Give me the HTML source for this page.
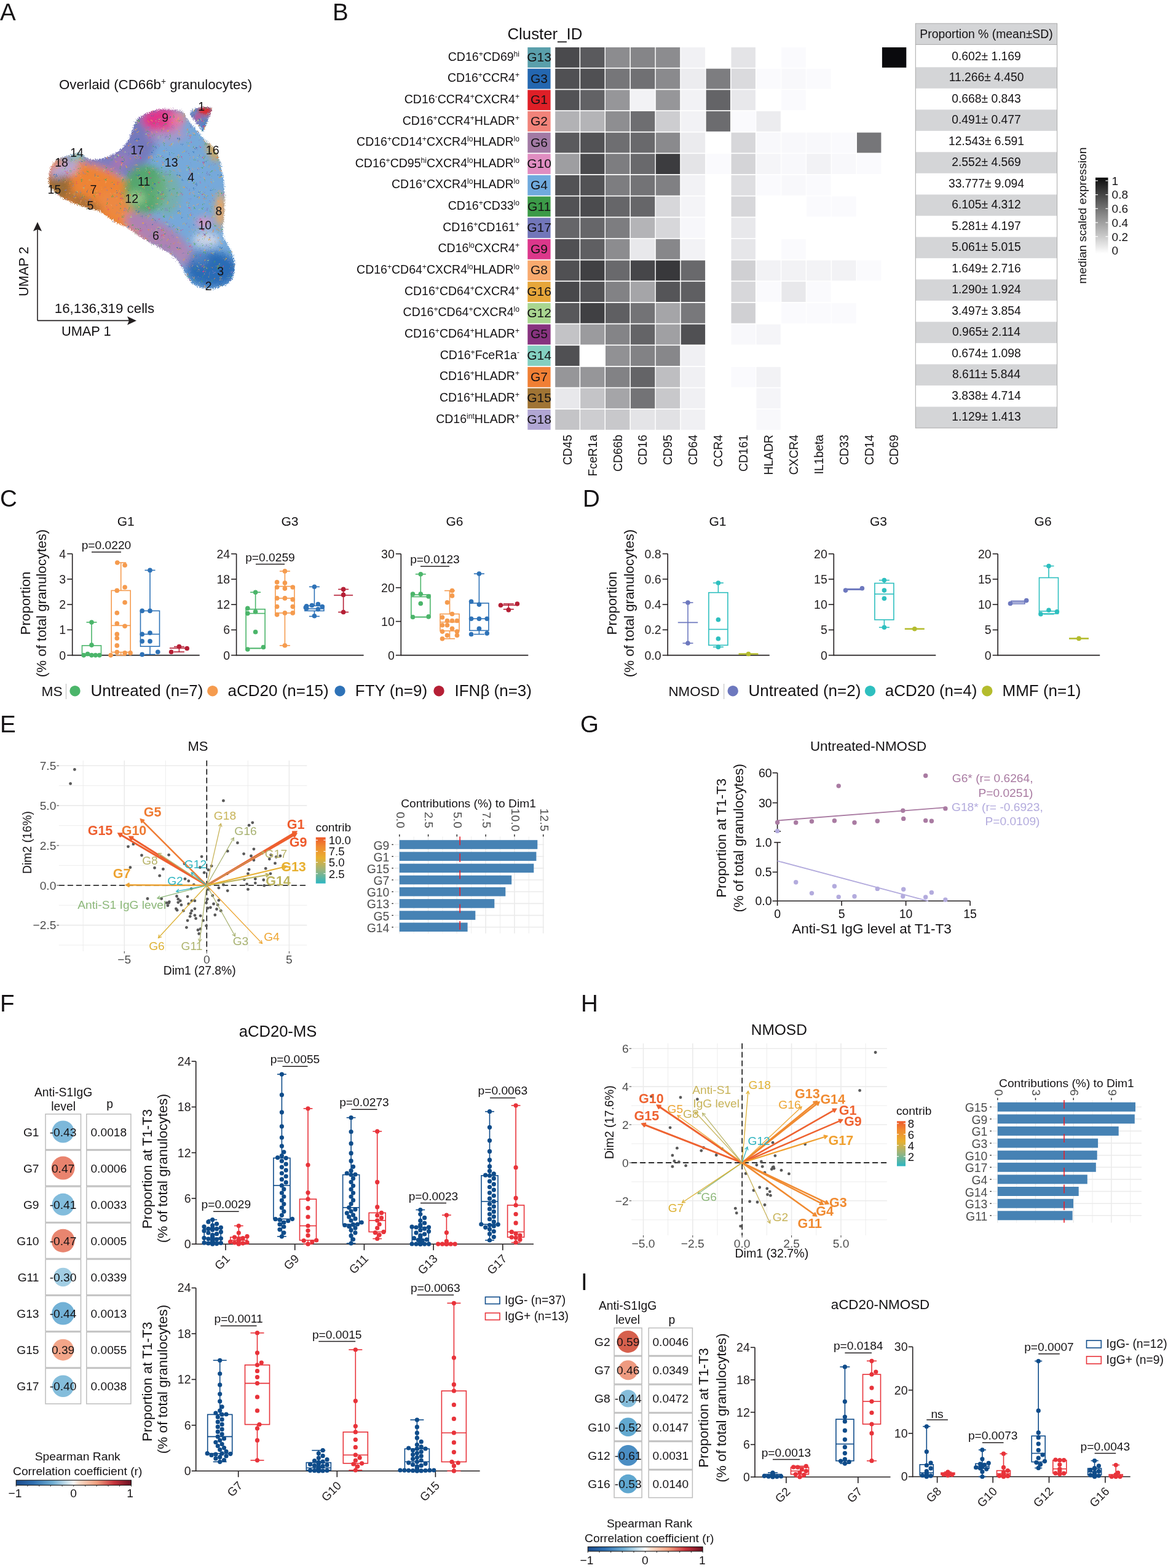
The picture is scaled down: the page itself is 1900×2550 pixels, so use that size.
<!DOCTYPE html>
<html><head><meta charset="utf-8"><title>Figure</title>
<style>html,body{margin:0;padding:0;background:#fff;} svg{display:block;} text{font-family:"Liberation Sans", Arial, Helvetica, sans-serif;}</style>
</head><body>
<svg width="1900" height="2550" viewBox="0 0 1900 2550" font-family='"Liberation Sans", Arial, Helvetica, sans-serif'>
<rect width="1900" height="2550" fill="#fff"/>
<text x="0.0" y="33.2" font-size="38.5" fill="#141214">A</text>
<text x="541.0" y="32.5" font-size="38.5" fill="#141214">B</text>
<text x="0.0" y="823.5" font-size="38.5" fill="#141214">C</text>
<text x="948.0" y="823.5" font-size="38.5" fill="#141214">D</text>
<text x="0.0" y="1190.5" font-size="38.5" fill="#141214">E</text>
<text x="944.0" y="1190.5" font-size="38.5" fill="#141214">G</text>
<text x="0.0" y="1645.0" font-size="38.5" fill="#141214">F</text>
<text x="945.0" y="1645.0" font-size="38.5" fill="#141214">H</text>
<text x="945.0" y="2097.5" font-size="38.5" fill="#141214">I</text>
<defs><clipPath id="umc"><path d="M79.0,289.8 C78.9,284.8 80.2,278.5 82.0,273.9 C83.8,269.2 87.0,264.9 90.0,261.9 C93.0,258.9 96.0,257.5 100.0,255.9 C104.0,254.2 109.3,253.0 113.9,251.9 C118.6,250.7 124.1,248.7 127.9,248.9 C131.8,249.0 133.9,251.2 136.9,252.9 C139.9,254.5 142.4,257.8 145.9,258.9 C149.4,260.0 153.6,260.0 157.9,259.5 C162.2,259.0 166.6,257.8 171.9,255.9 C177.2,253.9 184.4,251.5 189.9,247.9 C195.3,244.2 200.8,239.2 204.8,233.9 C208.8,228.6 211.0,222.2 213.8,215.9 C216.7,209.6 218.8,200.6 221.8,195.9 C224.8,191.3 228.1,190.3 231.8,188.0 C235.5,185.6 239.1,183.6 243.8,182.0 C248.5,180.3 253.8,178.6 259.8,178.0 C265.8,177.3 274.4,177.6 279.7,178.0 C285.1,178.3 288.6,179.1 291.7,180.0 C294.9,180.8 296.7,181.0 298.7,183.0 C300.7,185.0 301.6,188.8 303.7,191.9 C305.9,195.1 308.7,198.4 311.7,201.9 C314.7,205.4 318.7,209.3 321.7,212.9 C324.7,216.6 326.9,220.7 329.7,223.9 C332.5,227.1 335.3,228.7 338.7,231.9 C342.0,235.1 346.7,238.4 349.7,242.9 C352.7,247.4 354.6,252.7 356.7,258.9 C358.7,265.0 360.7,272.4 362.0,279.8 C363.4,287.3 364.2,296.2 364.8,303.8 C365.4,311.5 365.6,318.1 365.6,325.8 C365.6,333.4 365.3,342.4 364.8,349.8 C364.4,357.1 363.0,363.7 362.8,369.7 C362.7,375.7 362.6,380.7 364.0,385.7 C365.5,390.7 369.2,395.0 371.6,399.7 C374.1,404.4 377.0,408.0 378.6,413.7 C380.3,419.3 381.8,427.0 381.6,433.7 C381.5,440.3 380.3,448.6 377.6,453.6 C375.0,458.7 370.3,461.5 365.6,464.0 C361.0,466.6 354.7,468.1 349.7,469.0 C344.7,469.9 340.7,470.2 335.7,469.6 C330.7,469.1 324.4,468.0 319.7,465.6 C315.0,463.3 311.0,459.6 307.7,455.6 C304.4,451.6 302.4,446.3 299.7,441.7 C297.1,437.0 294.7,431.8 291.7,427.7 C288.7,423.5 285.4,419.9 281.7,416.7 C278.1,413.5 275.1,411.5 269.8,408.3 C264.4,405.1 256.4,401.5 249.8,397.7 C243.1,393.9 236.5,390.0 229.8,385.7 C223.1,381.5 216.5,376.1 209.8,372.1 C203.2,368.2 195.8,365.5 189.9,362.1 C183.9,358.8 178.5,355.3 173.9,352.2 C169.2,349.0 165.9,345.4 161.9,343.4 C157.9,341.4 155.2,341.7 149.9,340.2 C144.6,338.6 136.6,336.5 129.9,334.2 C123.3,331.8 115.9,329.2 110.0,326.2 C104.0,323.2 98.6,319.9 94.0,316.2 C89.4,312.5 84.9,308.6 82.4,304.2 C79.9,299.8 79.1,294.9 79.0,289.8 Z"/><path d="M308.7,184.4 C309.4,180.6 315.8,177.0 321.7,175.6 C327.6,174.1 341.0,173.2 344.1,175.6 C347.1,178.0 341.5,185.5 340.1,190.0 C338.7,194.4 337.2,198.3 335.7,202.3 C334.1,206.4 332.4,213.4 330.7,214.3 C329.0,215.3 327.9,210.7 325.7,207.9 C323.5,205.2 320.5,201.9 317.7,197.9 C314.9,194.0 308.0,188.1 308.7,184.4 Z"/></clipPath>
<filter id="bl6" x="-50%" y="-50%" width="200%" height="200%"><feGaussianBlur stdDeviation="6"/></filter>
<filter id="bl2" x="-50%" y="-50%" width="200%" height="200%"><feGaussianBlur stdDeviation="2"/></filter>
<filter id="spk" x="-5%" y="-5%" width="110%" height="110%"><feTurbulence type="fractalNoise" baseFrequency="0.7" numOctaves="2" seed="7" result="n"/><feDisplacementMap in="SourceGraphic" in2="n" scale="9" xChannelSelector="R" yChannelSelector="G"/></filter></defs>
<defs><pattern id="spkp" width="67" height="59" patternUnits="userSpaceOnUse"><circle cx="41.7" cy="43.8" r="0.9" fill="#F08A3A"/><circle cx="56.3" cy="45.8" r="0.9" fill="#A6D58E"/><circle cx="43.5" cy="53.2" r="0.9" fill="#E0388C"/><circle cx="24.9" cy="51.2" r="0.9" fill="#E8A838"/><circle cx="36.4" cy="33.9" r="0.9" fill="#F08A3A"/><circle cx="49.0" cy="24.1" r="0.9" fill="#4CA654"/><circle cx="61.4" cy="45.2" r="0.9" fill="#4CA654"/><circle cx="51.0" cy="4.2" r="0.9" fill="#2A6CB6"/><circle cx="8.5" cy="0.1" r="0.9" fill="#F08A3A"/><circle cx="14.0" cy="12.7" r="0.9" fill="#4CA654"/><circle cx="58.5" cy="17.1" r="0.9" fill="#A6D58E"/><circle cx="36.1" cy="40.0" r="0.9" fill="#A6D58E"/><circle cx="12.2" cy="57.1" r="0.9" fill="#A6D58E"/><circle cx="64.8" cy="52.7" r="0.9" fill="#F4A460"/><circle cx="1.4" cy="24.5" r="0.9" fill="#4CA654"/><circle cx="17.7" cy="19.6" r="0.9" fill="#F08A3A"/><circle cx="39.9" cy="41.8" r="0.9" fill="#E0388C"/><circle cx="20.8" cy="48.3" r="0.9" fill="#2A6CB6"/><circle cx="46.7" cy="10.9" r="0.9" fill="#2A6CB6"/><circle cx="47.2" cy="3.4" r="0.9" fill="#F08A3A"/><circle cx="63.6" cy="21.1" r="0.9" fill="#E8A838"/><circle cx="1.2" cy="46.5" r="0.9" fill="#7C7CC0"/><circle cx="25.2" cy="49.6" r="0.9" fill="#2A6CB6"/><circle cx="3.1" cy="10.7" r="0.9" fill="#A6D58E"/><circle cx="8.0" cy="14.5" r="0.9" fill="#2A6CB6"/><circle cx="23.1" cy="20.9" r="0.9" fill="#F4A460"/><circle cx="52.0" cy="6.4" r="0.9" fill="#7C7CC0"/><circle cx="57.6" cy="2.2" r="0.9" fill="#E0388C"/><circle cx="14.0" cy="30.3" r="0.9" fill="#7C7CC0"/><circle cx="61.5" cy="20.1" r="0.9" fill="#E0388C"/><circle cx="20.9" cy="18.7" r="0.9" fill="#4CA654"/><circle cx="53.5" cy="37.0" r="0.9" fill="#F4A460"/><circle cx="66.8" cy="9.5" r="0.9" fill="#F08A3A"/><circle cx="5.4" cy="35.4" r="0.9" fill="#E8A838"/><circle cx="2.1" cy="43.7" r="0.9" fill="#7C7CC0"/><circle cx="55.4" cy="26.9" r="0.9" fill="#E8A838"/><circle cx="9.8" cy="57.8" r="0.9" fill="#F08A3A"/><circle cx="53.7" cy="19.7" r="0.9" fill="#A6D58E"/><circle cx="8.7" cy="43.2" r="0.9" fill="#4CA654"/><circle cx="42.2" cy="46.5" r="0.9" fill="#E0388C"/><circle cx="11.3" cy="22.0" r="0.9" fill="#F08A3A"/><circle cx="56.6" cy="17.4" r="0.9" fill="#2A6CB6"/><circle cx="61.8" cy="36.6" r="0.9" fill="#4CA654"/><circle cx="65.4" cy="26.8" r="0.9" fill="#2A6CB6"/><circle cx="46.2" cy="18.7" r="0.9" fill="#F4A460"/><circle cx="19.5" cy="23.8" r="0.9" fill="#4CA654"/><circle cx="7.5" cy="48.5" r="0.9" fill="#4CA654"/><circle cx="42.0" cy="29.5" r="0.9" fill="#7C7CC0"/><circle cx="12.1" cy="29.0" r="0.9" fill="#7C7CC0"/><circle cx="4.2" cy="46.9" r="0.9" fill="#7C7CC0"/><circle cx="46.5" cy="39.2" r="0.9" fill="#F4A460"/><circle cx="24.3" cy="41.6" r="0.9" fill="#F4A460"/><circle cx="56.0" cy="15.6" r="0.9" fill="#F4A460"/><circle cx="64.1" cy="20.1" r="0.9" fill="#4CA654"/><circle cx="38.9" cy="0.7" r="0.9" fill="#F4A460"/><circle cx="21.8" cy="16.1" r="0.9" fill="#F4A460"/><circle cx="54.7" cy="38.2" r="0.9" fill="#7C7CC0"/><circle cx="23.3" cy="38.0" r="0.9" fill="#E8A838"/><circle cx="23.5" cy="49.7" r="0.9" fill="#2A6CB6"/><circle cx="65.4" cy="56.4" r="0.9" fill="#4CA654"/><circle cx="35.5" cy="9.8" r="0.9" fill="#7C7CC0"/><circle cx="62.8" cy="28.2" r="0.9" fill="#E0388C"/><circle cx="48.2" cy="43.1" r="0.9" fill="#4CA654"/><circle cx="41.3" cy="55.2" r="0.9" fill="#E8A838"/><circle cx="20.3" cy="32.6" r="0.9" fill="#F4A460"/><circle cx="48.3" cy="1.6" r="0.9" fill="#4CA654"/><circle cx="39.3" cy="36.8" r="0.9" fill="#4CA654"/><circle cx="14.7" cy="40.5" r="0.9" fill="#F08A3A"/><circle cx="66.1" cy="57.8" r="0.9" fill="#4CA654"/><circle cx="3.6" cy="7.9" r="0.9" fill="#7C7CC0"/><circle cx="64.9" cy="28.5" r="0.9" fill="#F08A3A"/><circle cx="27.8" cy="20.7" r="0.9" fill="#E0388C"/><circle cx="39.5" cy="14.0" r="0.9" fill="#7C7CC0"/><circle cx="0.0" cy="23.9" r="0.9" fill="#F4A460"/><circle cx="57.3" cy="51.1" r="0.9" fill="#7C7CC0"/><circle cx="64.6" cy="32.4" r="0.9" fill="#F4A460"/><circle cx="6.4" cy="32.2" r="0.9" fill="#7C7CC0"/><circle cx="63.7" cy="17.3" r="0.9" fill="#7C7CC0"/><circle cx="54.8" cy="24.7" r="0.9" fill="#7C7CC0"/><circle cx="31.3" cy="9.2" r="0.9" fill="#E8A838"/><circle cx="37.8" cy="56.5" r="0.9" fill="#4CA654"/><circle cx="40.8" cy="20.7" r="0.9" fill="#F08A3A"/><circle cx="25.6" cy="19.2" r="0.9" fill="#4CA654"/><circle cx="21.8" cy="51.7" r="0.9" fill="#E8A838"/><circle cx="28.8" cy="57.6" r="0.9" fill="#2A6CB6"/></pattern></defs>
<g filter="url(#spk)"><g clip-path="url(#umc)">
<path d="M79.0,289.8 C78.9,284.8 80.2,278.5 82.0,273.9 C83.8,269.2 87.0,264.9 90.0,261.9 C93.0,258.9 96.0,257.5 100.0,255.9 C104.0,254.2 109.3,253.0 113.9,251.9 C118.6,250.7 124.1,248.7 127.9,248.9 C131.8,249.0 133.9,251.2 136.9,252.9 C139.9,254.5 142.4,257.8 145.9,258.9 C149.4,260.0 153.6,260.0 157.9,259.5 C162.2,259.0 166.6,257.8 171.9,255.9 C177.2,253.9 184.4,251.5 189.9,247.9 C195.3,244.2 200.8,239.2 204.8,233.9 C208.8,228.6 211.0,222.2 213.8,215.9 C216.7,209.6 218.8,200.6 221.8,195.9 C224.8,191.3 228.1,190.3 231.8,188.0 C235.5,185.6 239.1,183.6 243.8,182.0 C248.5,180.3 253.8,178.6 259.8,178.0 C265.8,177.3 274.4,177.6 279.7,178.0 C285.1,178.3 288.6,179.1 291.7,180.0 C294.9,180.8 296.7,181.0 298.7,183.0 C300.7,185.0 301.6,188.8 303.7,191.9 C305.9,195.1 308.7,198.4 311.7,201.9 C314.7,205.4 318.7,209.3 321.7,212.9 C324.7,216.6 326.9,220.7 329.7,223.9 C332.5,227.1 335.3,228.7 338.7,231.9 C342.0,235.1 346.7,238.4 349.7,242.9 C352.7,247.4 354.6,252.7 356.7,258.9 C358.7,265.0 360.7,272.4 362.0,279.8 C363.4,287.3 364.2,296.2 364.8,303.8 C365.4,311.5 365.6,318.1 365.6,325.8 C365.6,333.4 365.3,342.4 364.8,349.8 C364.4,357.1 363.0,363.7 362.8,369.7 C362.7,375.7 362.6,380.7 364.0,385.7 C365.5,390.7 369.2,395.0 371.6,399.7 C374.1,404.4 377.0,408.0 378.6,413.7 C380.3,419.3 381.8,427.0 381.6,433.7 C381.5,440.3 380.3,448.6 377.6,453.6 C375.0,458.7 370.3,461.5 365.6,464.0 C361.0,466.6 354.7,468.1 349.7,469.0 C344.7,469.9 340.7,470.2 335.7,469.6 C330.7,469.1 324.4,468.0 319.7,465.6 C315.0,463.3 311.0,459.6 307.7,455.6 C304.4,451.6 302.4,446.3 299.7,441.7 C297.1,437.0 294.7,431.8 291.7,427.7 C288.7,423.5 285.4,419.9 281.7,416.7 C278.1,413.5 275.1,411.5 269.8,408.3 C264.4,405.1 256.4,401.5 249.8,397.7 C243.1,393.9 236.5,390.0 229.8,385.7 C223.1,381.5 216.5,376.1 209.8,372.1 C203.2,368.2 195.8,365.5 189.9,362.1 C183.9,358.8 178.5,355.3 173.9,352.2 C169.2,349.0 165.9,345.4 161.9,343.4 C157.9,341.4 155.2,341.7 149.9,340.2 C144.6,338.6 136.6,336.5 129.9,334.2 C123.3,331.8 115.9,329.2 110.0,326.2 C104.0,323.2 98.6,319.9 94.0,316.2 C89.4,312.5 84.9,308.6 82.4,304.2 C79.9,299.8 79.1,294.9 79.0,289.8 Z" fill="#76A9DA"/>
<path d="M308.7,184.4 C309.4,180.6 315.8,177.0 321.7,175.6 C327.6,174.1 341.0,173.2 344.1,175.6 C347.1,178.0 341.5,185.5 340.1,190.0 C338.7,194.4 337.2,198.3 335.7,202.3 C334.1,206.4 332.4,213.4 330.7,214.3 C329.0,215.3 327.9,210.7 325.7,207.9 C323.5,205.2 320.5,201.9 317.7,197.9 C314.9,194.0 308.0,188.1 308.7,184.4 Z" fill="#5E8FCB"/>
<g filter="url(#bl6)">
<path d="M30,340 L30,262 L95,258 L130,262 L160,270 L190,283 L210,298 L207,330 L226,370 L242,412 L150,390 L30,360 Z" fill="#EE8436"/>
<path d="M110,236 L200,205 L228,190 L240,250 L214,292 L190,282 L160,270 L130,262 L112,256 Z" fill="#7B7DC0"/>
<ellipse cx="189.9" cy="269.9" rx="20" ry="6" fill="#C070A8" opacity="0.5" transform="rotate(-24 189.9 269.9)"/>
<ellipse cx="229.8" cy="225.9" rx="24" ry="44" fill="#7579BC" opacity="1" transform="rotate(8 229.8 225.9)"/>
<ellipse cx="209.8" cy="253.9" rx="16" ry="14" fill="#8A7DBC" opacity="0.9" transform="rotate(0 209.8 253.9)"/>
<ellipse cx="193.9" cy="261.9" rx="10" ry="6" fill="#D070A8" opacity="0.6" transform="rotate(0 193.9 261.9)"/>
<ellipse cx="149.9" cy="307.8" rx="52" ry="25" fill="#EE8436" opacity="1" transform="rotate(22 149.9 307.8)"/>
<ellipse cx="201.8" cy="347.8" rx="32" ry="15" fill="#EE8A3E" opacity="1" transform="rotate(30 201.8 347.8)"/>
<ellipse cx="181.9" cy="329.8" rx="24" ry="16" fill="#EC8842" opacity="1" transform="rotate(30 181.9 329.8)"/>
<ellipse cx="96.0" cy="300.8" rx="20" ry="26" fill="#9A6C34" opacity="1" transform="rotate(0 96.0 300.8)"/>
<ellipse cx="135.9" cy="329.8" rx="32" ry="9" fill="#9C6E3A" opacity="0.9" transform="rotate(25 135.9 329.8)"/>
<ellipse cx="110.0" cy="273.9" rx="18" ry="11" fill="#B3A8D6" opacity="1" transform="rotate(-20 110.0 273.9)"/>
<ellipse cx="92.0" cy="279.8" rx="10" ry="10" fill="#B3A8D6" opacity="1" transform="rotate(0 92.0 279.8)"/>
<ellipse cx="126.9" cy="252.9" rx="12" ry="7" fill="#82CFC0" opacity="1" transform="rotate(-10 126.9 252.9)"/>
<ellipse cx="264.8" cy="194.9" rx="34" ry="20" fill="#E2358B" opacity="1" transform="rotate(0 264.8 194.9)"/>
<ellipse cx="295.7" cy="190.0" rx="8" ry="8" fill="#E8A040" opacity="0.8" transform="rotate(0 295.7 190.0)"/>
<ellipse cx="287.7" cy="195.9" rx="12" ry="15" fill="#E37FAE" opacity="0.85" transform="rotate(0 287.7 195.9)"/>
<ellipse cx="271.8" cy="219.9" rx="34" ry="12" fill="#C48CC0" opacity="0.55" transform="rotate(0 271.8 219.9)"/>
<ellipse cx="235.8" cy="307.8" rx="34" ry="40" fill="#4CA654" opacity="0.8" transform="rotate(0 235.8 307.8)"/>
<ellipse cx="221.8" cy="321.8" rx="14" ry="10" fill="#A4D08E" opacity="0.8" transform="rotate(0 221.8 321.8)"/>
<ellipse cx="271.8" cy="313.8" rx="22" ry="36" fill="#74B486" opacity="0.55" transform="rotate(0 271.8 313.8)"/>
<ellipse cx="255.8" cy="381.7" rx="60" ry="21" fill="#AE82B3" opacity="1" transform="rotate(32 255.8 381.7)"/>
<ellipse cx="299.7" cy="415.7" rx="18" ry="16" fill="#B087B6" opacity="0.9" transform="rotate(0 299.7 415.7)"/>
<ellipse cx="346.7" cy="245.9" rx="7" ry="18" fill="#E6A845" opacity="1" transform="rotate(-25 346.7 245.9)"/>
<ellipse cx="358.7" cy="341.8" rx="8" ry="28" fill="#F1A85E" opacity="1" transform="rotate(0 358.7 341.8)"/>
<ellipse cx="331.7" cy="361.7" rx="14" ry="9" fill="#D696C2" opacity="1" transform="rotate(0 331.7 361.7)"/>
<ellipse cx="335.7" cy="389.7" rx="22" ry="12" fill="#C9D3E6" opacity="1" transform="rotate(0 335.7 389.7)"/>
<ellipse cx="344.7" cy="437.7" rx="42" ry="29" fill="#2A6CB6" opacity="1" transform="rotate(0 344.7 437.7)"/>
<ellipse cx="323.7" cy="417.7" rx="16" ry="12" fill="#5A88C4" opacity="0.8" transform="rotate(0 323.7 417.7)"/>
<ellipse cx="333.7" cy="183.0" rx="12" ry="6" fill="#DE2A2E" opacity="1" transform="rotate(0 333.7 183.0)"/>
<ellipse cx="318.7" cy="193.9" rx="5" ry="8" fill="#D84890" opacity="0.7" transform="rotate(0 318.7 193.9)"/>
<ellipse cx="329.7" cy="196.9" rx="8" ry="12" fill="#4E7FC2" opacity="1" transform="rotate(0 329.7 196.9)"/>
</g>
<ellipse cx="333" cy="180" rx="10" ry="5" fill="#DE2A2E" filter="url(#bl2)"/>
<ellipse cx="322" cy="190" rx="5" ry="5" fill="#D04A8A" opacity="0.6" filter="url(#bl2)"/>
<rect x="70" y="160" width="320" height="320" fill="url(#spkp)"/>
</g></g>
<text x="327.7" y="180.0" font-size="19.5" text-anchor="middle" fill="#141214">1</text>
<text x="268.8" y="198.0" font-size="19.5" text-anchor="middle" fill="#141214">9</text>
<text x="345.7" y="250.5" font-size="19.5" text-anchor="middle" fill="#141214">16</text>
<text x="223.4" y="250.5" font-size="19.5" text-anchor="middle" fill="#141214">17</text>
<text x="125.0" y="254.9" font-size="19.5" text-anchor="middle" fill="#141214">14</text>
<text x="100.0" y="271.3" font-size="19.5" text-anchor="middle" fill="#141214">18</text>
<text x="278.7" y="271.3" font-size="19.5" text-anchor="middle" fill="#141214">13</text>
<text x="310.7" y="295.2" font-size="19.5" text-anchor="middle" fill="#141214">4</text>
<text x="234.2" y="301.8" font-size="19.5" text-anchor="middle" fill="#141214">11</text>
<text x="88.4" y="315.2" font-size="19.5" text-anchor="middle" fill="#141214">15</text>
<text x="151.9" y="315.2" font-size="19.5" text-anchor="middle" fill="#141214">7</text>
<text x="214.2" y="330.4" font-size="19.5" text-anchor="middle" fill="#141214">12</text>
<text x="146.9" y="340.8" font-size="19.5" text-anchor="middle" fill="#141214">5</text>
<text x="356.0" y="350.4" font-size="19.5" text-anchor="middle" fill="#141214">8</text>
<text x="333.3" y="372.7" font-size="19.5" text-anchor="middle" fill="#141214">10</text>
<text x="253.4" y="389.7" font-size="19.5" text-anchor="middle" fill="#141214">6</text>
<text x="358.7" y="448.3" font-size="19.5" text-anchor="middle" fill="#141214">3</text>
<text x="339.3" y="472.2" font-size="19.5" text-anchor="middle" fill="#141214">2</text>
<text x="253.0" y="145.0" font-size="22.3" text-anchor="middle" fill="#141214"><tspan>Overlaid (CD66b</tspan><tspan font-size="13.8" dy="-8.0">+</tspan><tspan dy="8.0"> granulocytes)</tspan></text>
<line x1="61.0" y1="521.4" x2="61.0" y2="372.0" stroke="#231F20" stroke-width="1.6"/>
<line x1="61.0" y1="521.4" x2="212.0" y2="521.4" stroke="#231F20" stroke-width="1.6"/>
<path d="M61,361 L54,376 L61,373 L68,376 Z" fill="#231F20"/>
<path d="M222,521.4 L207,514.4 L210,521.4 L207,528.4 Z" fill="#231F20"/>
<text x="45.5" y="441.5" font-size="21.8" text-anchor="middle" fill="#141214" transform="rotate(-90 45.5 441.5)">UMAP 2</text>
<text x="140.3" y="546.4" font-size="21.8" text-anchor="middle" fill="#141214">UMAP 1</text>
<text x="170.0" y="508.5" font-size="22.3" text-anchor="middle" fill="#141214">16,136,319 cells</text>
<text x="886.4" y="64.0" font-size="25.8" text-anchor="middle" fill="#141214">Cluster_ID</text>
<rect x="858.3" y="77.0" width="37.3" height="32.9" fill="#5A9FAB"/>
<text x="877.0" y="99.9" font-size="21" text-anchor="middle" fill="#141214">G13</text>
<text x="845.0" y="98.5" font-size="19.5" text-anchor="end" fill="#141214"><tspan>CD16</tspan><tspan font-size="12.1" dy="-7.0">+</tspan><tspan dy="7.0">CD69</tspan><tspan font-size="12.1" dy="-7.0">hi</tspan></text>
<rect x="903.2" y="77.0" width="39.4" height="32.9" fill="rgb(74,74,77)"/>
<rect x="944.1" y="77.0" width="39.4" height="32.9" fill="rgb(90,90,93)"/>
<rect x="985.0" y="77.0" width="39.4" height="32.9" fill="rgb(140,140,143)"/>
<rect x="1025.9" y="77.0" width="39.4" height="32.9" fill="rgb(133,133,136)"/>
<rect x="1066.8" y="77.0" width="39.4" height="32.9" fill="rgb(140,140,143)"/>
<rect x="1107.7" y="77.0" width="39.4" height="32.9" fill="rgb(241,241,244)"/>
<rect x="1189.5" y="77.0" width="39.4" height="32.9" fill="rgb(228,228,231)"/>
<rect x="1271.3" y="77.0" width="39.4" height="32.9" fill="rgb(250,250,253)"/>
<rect x="1434.9" y="77.0" width="39.4" height="32.9" fill="rgb(10,10,13)"/>
<rect x="858.3" y="111.7" width="37.3" height="32.9" fill="#2467B0"/>
<text x="877.0" y="134.6" font-size="21" text-anchor="middle" fill="#141214">G3</text>
<text x="845.0" y="133.2" font-size="19.5" text-anchor="end" fill="#141214"><tspan>CD16</tspan><tspan font-size="12.1" dy="-7.0">+</tspan><tspan dy="7.0">CCR4</tspan><tspan font-size="12.1" dy="-7.0">+</tspan></text>
<rect x="903.2" y="111.7" width="39.4" height="32.9" fill="rgb(80,80,83)"/>
<rect x="944.1" y="111.7" width="39.4" height="32.9" fill="rgb(80,80,83)"/>
<rect x="985.0" y="111.7" width="39.4" height="32.9" fill="rgb(118,118,121)"/>
<rect x="1025.9" y="111.7" width="39.4" height="32.9" fill="rgb(112,112,115)"/>
<rect x="1066.8" y="111.7" width="39.4" height="32.9" fill="rgb(138,138,141)"/>
<rect x="1107.7" y="111.7" width="39.4" height="32.9" fill="rgb(236,236,239)"/>
<rect x="1148.6" y="111.7" width="39.4" height="32.9" fill="rgb(125,125,128)"/>
<rect x="1189.5" y="111.7" width="39.4" height="32.9" fill="rgb(218,218,221)"/>
<rect x="1230.4" y="111.7" width="39.4" height="32.9" fill="rgb(250,250,253)"/>
<rect x="1271.3" y="111.7" width="39.4" height="32.9" fill="rgb(248,248,251)"/>
<rect x="1312.2" y="111.7" width="39.4" height="32.9" fill="rgb(250,250,253)"/>
<rect x="858.3" y="146.3" width="37.3" height="32.9" fill="#DF1F27"/>
<text x="877.0" y="169.2" font-size="21" text-anchor="middle" fill="#141214">G1</text>
<text x="845.0" y="167.8" font-size="19.5" text-anchor="end" fill="#141214"><tspan>CD16</tspan><tspan font-size="12.1" dy="-7.0">-</tspan><tspan dy="7.0">CCR4</tspan><tspan font-size="12.1" dy="-7.0">+</tspan><tspan dy="7.0">CXCR4</tspan><tspan font-size="12.1" dy="-7.0">+</tspan></text>
<rect x="903.2" y="146.3" width="39.4" height="32.9" fill="rgb(82,82,85)"/>
<rect x="944.1" y="146.3" width="39.4" height="32.9" fill="rgb(98,98,101)"/>
<rect x="985.0" y="146.3" width="39.4" height="32.9" fill="rgb(150,150,153)"/>
<rect x="1025.9" y="146.3" width="39.4" height="32.9" fill="rgb(242,242,245)"/>
<rect x="1066.8" y="146.3" width="39.4" height="32.9" fill="rgb(150,150,153)"/>
<rect x="1107.7" y="146.3" width="39.4" height="32.9" fill="rgb(242,242,245)"/>
<rect x="1148.6" y="146.3" width="39.4" height="32.9" fill="rgb(100,100,103)"/>
<rect x="1189.5" y="146.3" width="39.4" height="32.9" fill="rgb(232,232,235)"/>
<rect x="1271.3" y="146.3" width="39.4" height="32.9" fill="rgb(250,250,253)"/>
<rect x="858.3" y="180.9" width="37.3" height="32.9" fill="#F1837A"/>
<text x="877.0" y="203.9" font-size="21" text-anchor="middle" fill="#141214">G2</text>
<text x="845.0" y="202.5" font-size="19.5" text-anchor="end" fill="#141214"><tspan>CD16</tspan><tspan font-size="12.1" dy="-7.0">+</tspan><tspan dy="7.0">CCR4</tspan><tspan font-size="12.1" dy="-7.0">+</tspan><tspan dy="7.0">HLADR</tspan><tspan font-size="12.1" dy="-7.0">+</tspan></text>
<rect x="903.2" y="180.9" width="39.4" height="32.9" fill="rgb(178,178,181)"/>
<rect x="944.1" y="180.9" width="39.4" height="32.9" fill="rgb(180,180,183)"/>
<rect x="985.0" y="180.9" width="39.4" height="32.9" fill="rgb(142,142,145)"/>
<rect x="1025.9" y="180.9" width="39.4" height="32.9" fill="rgb(110,110,113)"/>
<rect x="1066.8" y="180.9" width="39.4" height="32.9" fill="rgb(205,205,208)"/>
<rect x="1107.7" y="180.9" width="39.4" height="32.9" fill="rgb(242,242,245)"/>
<rect x="1148.6" y="180.9" width="39.4" height="32.9" fill="rgb(108,108,111)"/>
<rect x="1189.5" y="180.9" width="39.4" height="32.9" fill="rgb(250,250,253)"/>
<rect x="1230.4" y="180.9" width="39.4" height="32.9" fill="rgb(236,236,239)"/>
<rect x="858.3" y="215.6" width="37.3" height="32.9" fill="#A27AA4"/>
<text x="877.0" y="238.5" font-size="21" text-anchor="middle" fill="#141214">G6</text>
<text x="845.0" y="237.1" font-size="19.5" text-anchor="end" fill="#141214"><tspan>CD16</tspan><tspan font-size="12.1" dy="-7.0">+</tspan><tspan dy="7.0">CD14</tspan><tspan font-size="12.1" dy="-7.0">+</tspan><tspan dy="7.0">CXCR4</tspan><tspan font-size="12.1" dy="-7.0">lo</tspan><tspan dy="7.0">HLADR</tspan><tspan font-size="12.1" dy="-7.0">lo</tspan></text>
<rect x="903.2" y="215.6" width="39.4" height="32.9" fill="rgb(90,90,93)"/>
<rect x="944.1" y="215.6" width="39.4" height="32.9" fill="rgb(82,82,85)"/>
<rect x="985.0" y="215.6" width="39.4" height="32.9" fill="rgb(110,110,113)"/>
<rect x="1025.9" y="215.6" width="39.4" height="32.9" fill="rgb(105,105,108)"/>
<rect x="1066.8" y="215.6" width="39.4" height="32.9" fill="rgb(138,138,141)"/>
<rect x="1107.7" y="215.6" width="39.4" height="32.9" fill="rgb(235,235,238)"/>
<rect x="1189.5" y="215.6" width="39.4" height="32.9" fill="rgb(215,215,218)"/>
<rect x="1230.4" y="215.6" width="39.4" height="32.9" fill="rgb(248,248,251)"/>
<rect x="1271.3" y="215.6" width="39.4" height="32.9" fill="rgb(248,248,251)"/>
<rect x="1312.2" y="215.6" width="39.4" height="32.9" fill="rgb(248,248,251)"/>
<rect x="1353.1" y="215.6" width="39.4" height="32.9" fill="rgb(250,250,253)"/>
<rect x="1394.0" y="215.6" width="39.4" height="32.9" fill="rgb(118,118,121)"/>
<rect x="858.3" y="250.2" width="37.3" height="32.9" fill="#E08DC1"/>
<text x="877.0" y="273.2" font-size="21" text-anchor="middle" fill="#141214">G10</text>
<text x="845.0" y="271.8" font-size="19.5" text-anchor="end" fill="#141214"><tspan>CD16</tspan><tspan font-size="12.1" dy="-7.0">+</tspan><tspan dy="7.0">CD95</tspan><tspan font-size="12.1" dy="-7.0">hi</tspan><tspan dy="7.0">CXCR4</tspan><tspan font-size="12.1" dy="-7.0">lo</tspan><tspan dy="7.0">HLADR</tspan><tspan font-size="12.1" dy="-7.0">lo</tspan></text>
<rect x="903.2" y="250.2" width="39.4" height="32.9" fill="rgb(158,158,161)"/>
<rect x="944.1" y="250.2" width="39.4" height="32.9" fill="rgb(74,74,77)"/>
<rect x="985.0" y="250.2" width="39.4" height="32.9" fill="rgb(125,125,128)"/>
<rect x="1025.9" y="250.2" width="39.4" height="32.9" fill="rgb(105,105,108)"/>
<rect x="1066.8" y="250.2" width="39.4" height="32.9" fill="rgb(60,60,63)"/>
<rect x="1107.7" y="250.2" width="39.4" height="32.9" fill="rgb(228,228,231)"/>
<rect x="1148.6" y="250.2" width="39.4" height="32.9" fill="rgb(250,250,253)"/>
<rect x="1189.5" y="250.2" width="39.4" height="32.9" fill="rgb(212,212,215)"/>
<rect x="1230.4" y="250.2" width="39.4" height="32.9" fill="rgb(245,245,248)"/>
<rect x="1271.3" y="250.2" width="39.4" height="32.9" fill="rgb(248,248,251)"/>
<rect x="1312.2" y="250.2" width="39.4" height="32.9" fill="rgb(242,242,245)"/>
<rect x="1353.1" y="250.2" width="39.4" height="32.9" fill="rgb(248,248,251)"/>
<rect x="1394.0" y="250.2" width="39.4" height="32.9" fill="rgb(250,250,253)"/>
<rect x="858.3" y="284.9" width="37.3" height="32.9" fill="#70AADD"/>
<text x="877.0" y="307.8" font-size="21" text-anchor="middle" fill="#141214">G4</text>
<text x="845.0" y="306.4" font-size="19.5" text-anchor="end" fill="#141214"><tspan>CD16</tspan><tspan font-size="12.1" dy="-7.0">+</tspan><tspan dy="7.0">CXCR4</tspan><tspan font-size="12.1" dy="-7.0">lo</tspan><tspan dy="7.0">HLADR</tspan><tspan font-size="12.1" dy="-7.0">lo</tspan></text>
<rect x="903.2" y="284.9" width="39.4" height="32.9" fill="rgb(82,82,85)"/>
<rect x="944.1" y="284.9" width="39.4" height="32.9" fill="rgb(82,82,85)"/>
<rect x="985.0" y="284.9" width="39.4" height="32.9" fill="rgb(125,125,128)"/>
<rect x="1025.9" y="284.9" width="39.4" height="32.9" fill="rgb(115,115,118)"/>
<rect x="1066.8" y="284.9" width="39.4" height="32.9" fill="rgb(128,128,131)"/>
<rect x="1107.7" y="284.9" width="39.4" height="32.9" fill="rgb(242,242,245)"/>
<rect x="1189.5" y="284.9" width="39.4" height="32.9" fill="rgb(222,222,225)"/>
<rect x="1230.4" y="284.9" width="39.4" height="32.9" fill="rgb(250,250,253)"/>
<rect x="1271.3" y="284.9" width="39.4" height="32.9" fill="rgb(248,248,251)"/>
<rect x="1312.2" y="284.9" width="39.4" height="32.9" fill="rgb(250,250,253)"/>
<rect x="858.3" y="319.5" width="37.3" height="32.9" fill="#3C9A48"/>
<text x="877.0" y="342.5" font-size="21" text-anchor="middle" fill="#141214">G11</text>
<text x="845.0" y="341.1" font-size="19.5" text-anchor="end" fill="#141214"><tspan>CD16</tspan><tspan font-size="12.1" dy="-7.0">+</tspan><tspan dy="7.0">CD33</tspan><tspan font-size="12.1" dy="-7.0">lo</tspan></text>
<rect x="903.2" y="319.5" width="39.4" height="32.9" fill="rgb(82,82,85)"/>
<rect x="944.1" y="319.5" width="39.4" height="32.9" fill="rgb(75,75,78)"/>
<rect x="985.0" y="319.5" width="39.4" height="32.9" fill="rgb(102,102,105)"/>
<rect x="1025.9" y="319.5" width="39.4" height="32.9" fill="rgb(102,102,105)"/>
<rect x="1066.8" y="319.5" width="39.4" height="32.9" fill="rgb(215,215,218)"/>
<rect x="1107.7" y="319.5" width="39.4" height="32.9" fill="rgb(244,244,247)"/>
<rect x="1189.5" y="319.5" width="39.4" height="32.9" fill="rgb(215,215,218)"/>
<rect x="1312.2" y="319.5" width="39.4" height="32.9" fill="rgb(250,250,253)"/>
<rect x="1353.1" y="319.5" width="39.4" height="32.9" fill="rgb(250,250,253)"/>
<rect x="858.3" y="354.2" width="37.3" height="32.9" fill="#7276B9"/>
<text x="877.0" y="377.1" font-size="21" text-anchor="middle" fill="#141214">G17</text>
<text x="845.0" y="375.7" font-size="19.5" text-anchor="end" fill="#141214"><tspan>CD16</tspan><tspan font-size="12.1" dy="-7.0">+</tspan><tspan dy="7.0">CD161</tspan><tspan font-size="12.1" dy="-7.0">+</tspan></text>
<rect x="903.2" y="354.2" width="39.4" height="32.9" fill="rgb(102,102,105)"/>
<rect x="944.1" y="354.2" width="39.4" height="32.9" fill="rgb(102,102,105)"/>
<rect x="985.0" y="354.2" width="39.4" height="32.9" fill="rgb(125,125,128)"/>
<rect x="1025.9" y="354.2" width="39.4" height="32.9" fill="rgb(180,180,183)"/>
<rect x="1066.8" y="354.2" width="39.4" height="32.9" fill="rgb(215,215,218)"/>
<rect x="1107.7" y="354.2" width="39.4" height="32.9" fill="rgb(247,247,250)"/>
<rect x="1189.5" y="354.2" width="39.4" height="32.9" fill="rgb(232,232,235)"/>
<rect x="858.3" y="388.8" width="37.3" height="32.9" fill="#DC378B"/>
<text x="877.0" y="411.8" font-size="21" text-anchor="middle" fill="#141214">G9</text>
<text x="845.0" y="410.4" font-size="19.5" text-anchor="end" fill="#141214"><tspan>CD16</tspan><tspan font-size="12.1" dy="-7.0">lo</tspan><tspan dy="7.0">CXCR4</tspan><tspan font-size="12.1" dy="-7.0">+</tspan></text>
<rect x="903.2" y="388.8" width="39.4" height="32.9" fill="rgb(80,80,83)"/>
<rect x="944.1" y="388.8" width="39.4" height="32.9" fill="rgb(95,95,98)"/>
<rect x="985.0" y="388.8" width="39.4" height="32.9" fill="rgb(140,140,143)"/>
<rect x="1025.9" y="388.8" width="39.4" height="32.9" fill="rgb(232,232,235)"/>
<rect x="1066.8" y="388.8" width="39.4" height="32.9" fill="rgb(135,135,138)"/>
<rect x="1107.7" y="388.8" width="39.4" height="32.9" fill="rgb(242,242,245)"/>
<rect x="1189.5" y="388.8" width="39.4" height="32.9" fill="rgb(230,230,233)"/>
<rect x="1271.3" y="388.8" width="39.4" height="32.9" fill="rgb(250,250,253)"/>
<rect x="858.3" y="423.5" width="37.3" height="32.9" fill="#F8AA6E"/>
<text x="877.0" y="446.4" font-size="21" text-anchor="middle" fill="#141214">G8</text>
<text x="845.0" y="445.0" font-size="19.5" text-anchor="end" fill="#141214"><tspan>CD16</tspan><tspan font-size="12.1" dy="-7.0">+</tspan><tspan dy="7.0">CD64</tspan><tspan font-size="12.1" dy="-7.0">+</tspan><tspan dy="7.0">CXCR4</tspan><tspan font-size="12.1" dy="-7.0">lo</tspan><tspan dy="7.0">HLADR</tspan><tspan font-size="12.1" dy="-7.0">lo</tspan></text>
<rect x="903.2" y="423.5" width="39.4" height="32.9" fill="rgb(80,80,83)"/>
<rect x="944.1" y="423.5" width="39.4" height="32.9" fill="rgb(64,64,67)"/>
<rect x="985.0" y="423.5" width="39.4" height="32.9" fill="rgb(105,105,108)"/>
<rect x="1025.9" y="423.5" width="39.4" height="32.9" fill="rgb(70,70,73)"/>
<rect x="1066.8" y="423.5" width="39.4" height="32.9" fill="rgb(56,56,59)"/>
<rect x="1107.7" y="423.5" width="39.4" height="32.9" fill="rgb(105,105,108)"/>
<rect x="1189.5" y="423.5" width="39.4" height="32.9" fill="rgb(208,208,211)"/>
<rect x="1230.4" y="423.5" width="39.4" height="32.9" fill="rgb(242,242,245)"/>
<rect x="1271.3" y="423.5" width="39.4" height="32.9" fill="rgb(242,242,245)"/>
<rect x="1312.2" y="423.5" width="39.4" height="32.9" fill="rgb(243,243,246)"/>
<rect x="1353.1" y="423.5" width="39.4" height="32.9" fill="rgb(242,242,245)"/>
<rect x="1394.0" y="423.5" width="39.4" height="32.9" fill="rgb(250,250,253)"/>
<rect x="858.3" y="458.1" width="37.3" height="32.9" fill="#E6A63A"/>
<text x="877.0" y="481.1" font-size="21" text-anchor="middle" fill="#141214">G16</text>
<text x="845.0" y="479.7" font-size="19.5" text-anchor="end" fill="#141214"><tspan>CD16</tspan><tspan font-size="12.1" dy="-7.0">+</tspan><tspan dy="7.0">CD64</tspan><tspan font-size="12.1" dy="-7.0">+</tspan><tspan dy="7.0">CXCR4</tspan><tspan font-size="12.1" dy="-7.0">+</tspan></text>
<rect x="903.2" y="458.1" width="39.4" height="32.9" fill="rgb(72,72,75)"/>
<rect x="944.1" y="458.1" width="39.4" height="32.9" fill="rgb(82,82,85)"/>
<rect x="985.0" y="458.1" width="39.4" height="32.9" fill="rgb(130,130,133)"/>
<rect x="1025.9" y="458.1" width="39.4" height="32.9" fill="rgb(165,165,168)"/>
<rect x="1066.8" y="458.1" width="39.4" height="32.9" fill="rgb(85,85,88)"/>
<rect x="1107.7" y="458.1" width="39.4" height="32.9" fill="rgb(95,95,98)"/>
<rect x="1189.5" y="458.1" width="39.4" height="32.9" fill="rgb(215,215,218)"/>
<rect x="1230.4" y="458.1" width="39.4" height="32.9" fill="rgb(250,250,253)"/>
<rect x="1271.3" y="458.1" width="39.4" height="32.9" fill="rgb(232,232,235)"/>
<rect x="1312.2" y="458.1" width="39.4" height="32.9" fill="rgb(250,250,253)"/>
<rect x="858.3" y="492.8" width="37.3" height="32.9" fill="#A9D690"/>
<text x="877.0" y="515.7" font-size="21" text-anchor="middle" fill="#141214">G12</text>
<text x="845.0" y="514.3" font-size="19.5" text-anchor="end" fill="#141214"><tspan>CD16</tspan><tspan font-size="12.1" dy="-7.0">+</tspan><tspan dy="7.0">CD64</tspan><tspan font-size="12.1" dy="-7.0">+</tspan><tspan dy="7.0">CXCR4</tspan><tspan font-size="12.1" dy="-7.0">lo</tspan></text>
<rect x="903.2" y="492.8" width="39.4" height="32.9" fill="rgb(88,88,91)"/>
<rect x="944.1" y="492.8" width="39.4" height="32.9" fill="rgb(64,64,67)"/>
<rect x="985.0" y="492.8" width="39.4" height="32.9" fill="rgb(95,95,98)"/>
<rect x="1025.9" y="492.8" width="39.4" height="32.9" fill="rgb(115,115,118)"/>
<rect x="1066.8" y="492.8" width="39.4" height="32.9" fill="rgb(165,165,168)"/>
<rect x="1107.7" y="492.8" width="39.4" height="32.9" fill="rgb(120,120,123)"/>
<rect x="1189.5" y="492.8" width="39.4" height="32.9" fill="rgb(208,208,211)"/>
<rect x="1271.3" y="492.8" width="39.4" height="32.9" fill="rgb(250,250,253)"/>
<rect x="1312.2" y="492.8" width="39.4" height="32.9" fill="rgb(250,250,253)"/>
<rect x="1353.1" y="492.8" width="39.4" height="32.9" fill="rgb(250,250,253)"/>
<rect x="858.3" y="527.5" width="37.3" height="32.9" fill="#87337F"/>
<text x="877.0" y="550.4" font-size="21" text-anchor="middle" fill="#141214">G5</text>
<text x="845.0" y="549.0" font-size="19.5" text-anchor="end" fill="#141214"><tspan>CD16</tspan><tspan font-size="12.1" dy="-7.0">+</tspan><tspan dy="7.0">CD64</tspan><tspan font-size="12.1" dy="-7.0">+</tspan><tspan dy="7.0">HLADR</tspan><tspan font-size="12.1" dy="-7.0">+</tspan></text>
<rect x="903.2" y="527.5" width="39.4" height="32.9" fill="rgb(195,195,198)"/>
<rect x="944.1" y="527.5" width="39.4" height="32.9" fill="rgb(155,155,158)"/>
<rect x="985.0" y="527.5" width="39.4" height="32.9" fill="rgb(132,132,135)"/>
<rect x="1025.9" y="527.5" width="39.4" height="32.9" fill="rgb(100,100,103)"/>
<rect x="1066.8" y="527.5" width="39.4" height="32.9" fill="rgb(160,160,163)"/>
<rect x="1107.7" y="527.5" width="39.4" height="32.9" fill="rgb(80,80,83)"/>
<rect x="1189.5" y="527.5" width="39.4" height="32.9" fill="rgb(248,248,251)"/>
<rect x="1230.4" y="527.5" width="39.4" height="32.9" fill="rgb(245,245,248)"/>
<rect x="858.3" y="562.1" width="37.3" height="32.9" fill="#83CFC0"/>
<text x="877.0" y="585.0" font-size="21" text-anchor="middle" fill="#141214">G14</text>
<text x="845.0" y="583.6" font-size="19.5" text-anchor="end" fill="#141214"><tspan>CD16</tspan><tspan font-size="12.1" dy="-7.0">+</tspan><tspan dy="7.0">FceR1a</tspan><tspan font-size="12.1" dy="-7.0">-</tspan></text>
<rect x="903.2" y="562.1" width="39.4" height="32.9" fill="rgb(80,80,83)"/>
<rect x="985.0" y="562.1" width="39.4" height="32.9" fill="rgb(145,145,148)"/>
<rect x="1025.9" y="562.1" width="39.4" height="32.9" fill="rgb(130,130,133)"/>
<rect x="1066.8" y="562.1" width="39.4" height="32.9" fill="rgb(135,135,138)"/>
<rect x="1107.7" y="562.1" width="39.4" height="32.9" fill="rgb(240,240,243)"/>
<rect x="858.3" y="596.8" width="37.3" height="32.9" fill="#F07F34"/>
<text x="877.0" y="619.7" font-size="21" text-anchor="middle" fill="#141214">G7</text>
<text x="845.0" y="618.3" font-size="19.5" text-anchor="end" fill="#141214"><tspan>CD16</tspan><tspan font-size="12.1" dy="-7.0">+</tspan><tspan dy="7.0">HLADR</tspan><tspan font-size="12.1" dy="-7.0">+</tspan></text>
<rect x="903.2" y="596.8" width="39.4" height="32.9" fill="rgb(150,150,153)"/>
<rect x="944.1" y="596.8" width="39.4" height="32.9" fill="rgb(150,150,153)"/>
<rect x="985.0" y="596.8" width="39.4" height="32.9" fill="rgb(130,130,133)"/>
<rect x="1025.9" y="596.8" width="39.4" height="32.9" fill="rgb(100,100,103)"/>
<rect x="1066.8" y="596.8" width="39.4" height="32.9" fill="rgb(190,190,193)"/>
<rect x="1107.7" y="596.8" width="39.4" height="32.9" fill="rgb(240,240,243)"/>
<rect x="1189.5" y="596.8" width="39.4" height="32.9" fill="rgb(250,250,253)"/>
<rect x="1230.4" y="596.8" width="39.4" height="32.9" fill="rgb(242,242,245)"/>
<rect x="858.3" y="631.4" width="37.3" height="32.9" fill="#A07434"/>
<text x="877.0" y="654.3" font-size="21" text-anchor="middle" fill="#141214">G15</text>
<text x="845.0" y="652.9" font-size="19.5" text-anchor="end" fill="#141214"><tspan>CD16</tspan><tspan font-size="12.1" dy="-7.0">+</tspan><tspan dy="7.0">HLADR</tspan><tspan font-size="12.1" dy="-7.0">+</tspan></text>
<rect x="903.2" y="631.4" width="39.4" height="32.9" fill="rgb(232,232,235)"/>
<rect x="944.1" y="631.4" width="39.4" height="32.9" fill="rgb(196,196,199)"/>
<rect x="985.0" y="631.4" width="39.4" height="32.9" fill="rgb(165,165,168)"/>
<rect x="1025.9" y="631.4" width="39.4" height="32.9" fill="rgb(115,115,118)"/>
<rect x="1066.8" y="631.4" width="39.4" height="32.9" fill="rgb(200,200,203)"/>
<rect x="1107.7" y="631.4" width="39.4" height="32.9" fill="rgb(240,240,243)"/>
<rect x="1230.4" y="631.4" width="39.4" height="32.9" fill="rgb(245,245,248)"/>
<rect x="858.3" y="666.0" width="37.3" height="32.9" fill="#B1A6D4"/>
<text x="877.0" y="689.0" font-size="21" text-anchor="middle" fill="#141214">G18</text>
<text x="845.0" y="687.6" font-size="19.5" text-anchor="end" fill="#141214"><tspan>CD16</tspan><tspan font-size="12.1" dy="-7.0">int</tspan><tspan dy="7.0">HLADR</tspan><tspan font-size="12.1" dy="-7.0">+</tspan></text>
<rect x="903.2" y="666.0" width="39.4" height="32.9" fill="rgb(196,196,199)"/>
<rect x="944.1" y="666.0" width="39.4" height="32.9" fill="rgb(205,205,208)"/>
<rect x="985.0" y="666.0" width="39.4" height="32.9" fill="rgb(200,200,203)"/>
<rect x="1025.9" y="666.0" width="39.4" height="32.9" fill="rgb(228,228,231)"/>
<rect x="1066.8" y="666.0" width="39.4" height="32.9" fill="rgb(225,225,228)"/>
<rect x="1107.7" y="666.0" width="39.4" height="32.9" fill="rgb(240,240,243)"/>
<rect x="1230.4" y="666.0" width="39.4" height="32.9" fill="rgb(248,248,251)"/>
<text x="929.7" y="707.0" font-size="19.3" text-anchor="end" fill="#141214" transform="rotate(-90 929.7 707.0)">CD45</text>
<text x="970.6" y="707.0" font-size="19.3" text-anchor="end" fill="#141214" transform="rotate(-90 970.6 707.0)">FceR1a</text>
<text x="1011.5" y="707.0" font-size="19.3" text-anchor="end" fill="#141214" transform="rotate(-90 1011.5 707.0)">CD66b</text>
<text x="1052.4" y="707.0" font-size="19.3" text-anchor="end" fill="#141214" transform="rotate(-90 1052.4 707.0)">CD16</text>
<text x="1093.2" y="707.0" font-size="19.3" text-anchor="end" fill="#141214" transform="rotate(-90 1093.2 707.0)">CD95</text>
<text x="1134.2" y="707.0" font-size="19.3" text-anchor="end" fill="#141214" transform="rotate(-90 1134.2 707.0)">CD64</text>
<text x="1175.0" y="707.0" font-size="19.3" text-anchor="end" fill="#141214" transform="rotate(-90 1175.0 707.0)">CCR4</text>
<text x="1216.0" y="707.0" font-size="19.3" text-anchor="end" fill="#141214" transform="rotate(-90 1216.0 707.0)">CD161</text>
<text x="1256.9" y="707.0" font-size="19.3" text-anchor="end" fill="#141214" transform="rotate(-90 1256.9 707.0)">HLADR</text>
<text x="1297.8" y="707.0" font-size="19.3" text-anchor="end" fill="#141214" transform="rotate(-90 1297.8 707.0)">CXCR4</text>
<text x="1338.7" y="707.0" font-size="19.3" text-anchor="end" fill="#141214" transform="rotate(-90 1338.7 707.0)">IL1beta</text>
<text x="1379.5" y="707.0" font-size="19.3" text-anchor="end" fill="#141214" transform="rotate(-90 1379.5 707.0)">CD33</text>
<text x="1420.5" y="707.0" font-size="19.3" text-anchor="end" fill="#141214" transform="rotate(-90 1420.5 707.0)">CD14</text>
<text x="1461.4" y="707.0" font-size="19.3" text-anchor="end" fill="#141214" transform="rotate(-90 1461.4 707.0)">CD69</text>
<rect x="1489.3" y="38.2" width="230.3" height="34.2" fill="#D4D5D7"/>
<text x="1604.5" y="62.0" font-size="19.4" text-anchor="middle" fill="#141214">Proportion % (mean±SD)</text>
<text x="1604.5" y="98.1" font-size="19.3" text-anchor="middle" fill="#141214">0.602± 1.169</text>
<rect x="1489.3" y="109.3" width="230.3" height="34.5" fill="#D4D5D7"/>
<text x="1604.5" y="132.0" font-size="19.3" text-anchor="middle" fill="#141214">11.266± 4.450</text>
<text x="1604.5" y="166.5" font-size="19.3" text-anchor="middle" fill="#141214">0.668± 0.843</text>
<rect x="1489.3" y="178.3" width="230.3" height="34.5" fill="#D4D5D7"/>
<text x="1604.5" y="201.0" font-size="19.3" text-anchor="middle" fill="#141214">0.491± 0.477</text>
<text x="1604.5" y="235.5" font-size="19.3" text-anchor="middle" fill="#141214">12.543± 6.591</text>
<rect x="1489.3" y="247.3" width="230.3" height="34.5" fill="#D4D5D7"/>
<text x="1604.5" y="270.0" font-size="19.3" text-anchor="middle" fill="#141214">2.552± 4.569</text>
<text x="1604.5" y="304.6" font-size="19.3" text-anchor="middle" fill="#141214">33.777± 9.094</text>
<rect x="1489.3" y="316.4" width="230.3" height="34.5" fill="#D4D5D7"/>
<text x="1604.5" y="339.1" font-size="19.3" text-anchor="middle" fill="#141214">6.105± 4.312</text>
<text x="1604.5" y="373.6" font-size="19.3" text-anchor="middle" fill="#141214">5.281± 4.197</text>
<rect x="1489.3" y="385.4" width="230.3" height="34.5" fill="#D4D5D7"/>
<text x="1604.5" y="408.1" font-size="19.3" text-anchor="middle" fill="#141214">5.061± 5.015</text>
<text x="1604.5" y="442.6" font-size="19.3" text-anchor="middle" fill="#141214">1.649± 2.716</text>
<rect x="1489.3" y="454.4" width="230.3" height="34.5" fill="#D4D5D7"/>
<text x="1604.5" y="477.1" font-size="19.3" text-anchor="middle" fill="#141214">1.290± 1.924</text>
<text x="1604.5" y="511.6" font-size="19.3" text-anchor="middle" fill="#141214">3.497± 3.854</text>
<rect x="1489.3" y="523.4" width="230.3" height="34.5" fill="#D4D5D7"/>
<text x="1604.5" y="546.1" font-size="19.3" text-anchor="middle" fill="#141214">0.965± 2.114</text>
<text x="1604.5" y="580.6" font-size="19.3" text-anchor="middle" fill="#141214">0.674± 1.098</text>
<rect x="1489.3" y="592.4" width="230.3" height="34.5" fill="#D4D5D7"/>
<text x="1604.5" y="615.1" font-size="19.3" text-anchor="middle" fill="#141214">8.611± 5.844</text>
<text x="1604.5" y="649.7" font-size="19.3" text-anchor="middle" fill="#141214">3.838± 4.714</text>
<rect x="1489.3" y="661.5" width="230.3" height="34.5" fill="#D4D5D7"/>
<text x="1604.5" y="684.2" font-size="19.3" text-anchor="middle" fill="#141214">1.129± 1.413</text>
<rect x="1489.3" y="38.2" width="230.3" height="657.8" fill="none" stroke="#A8A8A8" stroke-width="1"/>
<line x1="1489.3" y1="72.4" x2="1719.6" y2="72.4" stroke="#A8A8A8" stroke-width="1"/>
<defs><linearGradient id="gk" x1="0" y1="1" x2="0" y2="0"><stop offset="0" stop-color="#ffffff"/><stop offset="0.5" stop-color="#8a8a8a"/><stop offset="1" stop-color="#0d0d0d"/></linearGradient></defs>
<rect x="1782.0" y="288.8" width="20.5" height="123.5" fill="url(#gk)"/>
<text x="1808.6" y="414.2" font-size="19" fill="#141214">0</text>
<line x1="1782.0" y1="384.7" x2="1786.0" y2="384.7" stroke="#fff" stroke-width="1.2"/>
<line x1="1798.5" y1="384.7" x2="1802.5" y2="384.7" stroke="#fff" stroke-width="1.2"/>
<text x="1808.6" y="391.5" font-size="19" fill="#141214">0.2</text>
<line x1="1782.0" y1="362.0" x2="1786.0" y2="362.0" stroke="#fff" stroke-width="1.2"/>
<line x1="1798.5" y1="362.0" x2="1802.5" y2="362.0" stroke="#fff" stroke-width="1.2"/>
<text x="1808.6" y="368.8" font-size="19" fill="#141214">0.4</text>
<line x1="1782.0" y1="339.3" x2="1786.0" y2="339.3" stroke="#fff" stroke-width="1.2"/>
<line x1="1798.5" y1="339.3" x2="1802.5" y2="339.3" stroke="#fff" stroke-width="1.2"/>
<text x="1808.6" y="346.1" font-size="19" fill="#141214">0.6</text>
<line x1="1782.0" y1="316.6" x2="1786.0" y2="316.6" stroke="#fff" stroke-width="1.2"/>
<line x1="1798.5" y1="316.6" x2="1802.5" y2="316.6" stroke="#fff" stroke-width="1.2"/>
<text x="1808.6" y="323.4" font-size="19" fill="#141214">0.8</text>
<line x1="1782.0" y1="293.9" x2="1786.0" y2="293.9" stroke="#fff" stroke-width="1.2"/>
<line x1="1798.5" y1="293.9" x2="1802.5" y2="293.9" stroke="#fff" stroke-width="1.2"/>
<text x="1808.6" y="300.7" font-size="19" fill="#141214">1</text>
<text x="1766.8" y="350.5" font-size="19.2" text-anchor="middle" fill="#141214" transform="rotate(-90 1766.8 350.5)">median scaled expression</text>
<text x="48.7" y="981.0" font-size="22.3" text-anchor="middle" fill="#141214" transform="rotate(-90 48.7 981.0)">Proportion</text>
<text x="74.8" y="981.0" font-size="22.3" text-anchor="middle" fill="#141214" transform="rotate(-90 74.8 981.0)">(% of total granulocytes)</text>
<text x="204.8" y="855.0" font-size="21" text-anchor="middle" fill="#141214">G1</text>
<line x1="117.7" y1="1066.4" x2="117.7" y2="900.6" stroke="#231F20" stroke-width="1.6"/>
<line x1="109.2" y1="1065.6" x2="117.7" y2="1065.6" stroke="#231F20" stroke-width="1.6"/>
<text x="107.2" y="1072.5" font-size="19.5" text-anchor="end" fill="#231F20">0</text>
<line x1="109.2" y1="1024.3" x2="117.7" y2="1024.3" stroke="#231F20" stroke-width="1.6"/>
<text x="107.2" y="1031.2" font-size="19.5" text-anchor="end" fill="#231F20">1</text>
<line x1="109.2" y1="983.1" x2="117.7" y2="983.1" stroke="#231F20" stroke-width="1.6"/>
<text x="107.2" y="990.0" font-size="19.5" text-anchor="end" fill="#231F20">2</text>
<line x1="109.2" y1="941.8" x2="117.7" y2="941.8" stroke="#231F20" stroke-width="1.6"/>
<text x="107.2" y="948.7" font-size="19.5" text-anchor="end" fill="#231F20">3</text>
<line x1="109.2" y1="900.6" x2="117.7" y2="900.6" stroke="#231F20" stroke-width="1.6"/>
<text x="107.2" y="907.5" font-size="19.5" text-anchor="end" fill="#231F20">4</text>
<line x1="117.7" y1="1065.6" x2="324.7" y2="1065.6" stroke="#231F20" stroke-width="1.6"/>
<line x1="149.0" y1="1012.0" x2="149.0" y2="1049.9" stroke="#4BB56A" stroke-width="1.6"/>
<line x1="140.5" y1="1012.0" x2="157.5" y2="1012.0" stroke="#4BB56A" stroke-width="1.6"/>
<line x1="149.0" y1="1065.6" x2="149.0" y2="1065.6" stroke="#4BB56A" stroke-width="1.6"/>
<line x1="140.5" y1="1065.6" x2="157.5" y2="1065.6" stroke="#4BB56A" stroke-width="1.6"/>
<rect x="133.5" y="1049.9" width="31.0" height="15.7" fill="none" stroke="#4BB56A" stroke-width="1.6"/>
<line x1="133.5" y1="1064.8" x2="164.5" y2="1064.8" stroke="#4BB56A" stroke-width="1.6"/>
<circle cx="149.0" cy="1012.0" r="3.8" fill="#4BB56A"/>
<circle cx="149.0" cy="1049.1" r="3.8" fill="#4BB56A"/>
<circle cx="136.2" cy="1065.6" r="3.8" fill="#4BB56A"/>
<circle cx="142.6" cy="1063.5" r="3.8" fill="#4BB56A"/>
<circle cx="149.0" cy="1065.6" r="3.8" fill="#4BB56A"/>
<circle cx="155.4" cy="1065.6" r="3.8" fill="#4BB56A"/>
<circle cx="161.8" cy="1065.6" r="3.8" fill="#4BB56A"/>
<line x1="196.7" y1="915.0" x2="196.7" y2="960.4" stroke="#F59B4E" stroke-width="1.6"/>
<line x1="188.2" y1="915.0" x2="205.2" y2="915.0" stroke="#F59B4E" stroke-width="1.6"/>
<line x1="196.7" y1="1065.6" x2="196.7" y2="1060.6" stroke="#F59B4E" stroke-width="1.6"/>
<line x1="188.2" y1="1065.6" x2="205.2" y2="1065.6" stroke="#F59B4E" stroke-width="1.6"/>
<rect x="181.2" y="960.4" width="31.0" height="100.2" fill="none" stroke="#F59B4E" stroke-width="1.6"/>
<line x1="181.2" y1="1017.3" x2="212.2" y2="1017.3" stroke="#F59B4E" stroke-width="1.6"/>
<circle cx="190.8" cy="915.0" r="3.8" fill="#F59B4E"/>
<circle cx="203.1" cy="919.2" r="3.8" fill="#F59B4E"/>
<circle cx="190.3" cy="960.4" r="3.8" fill="#F59B4E"/>
<circle cx="203.1" cy="955.0" r="3.8" fill="#F59B4E"/>
<circle cx="203.1" cy="979.8" r="3.8" fill="#F59B4E"/>
<circle cx="190.3" cy="996.7" r="3.8" fill="#F59B4E"/>
<circle cx="190.3" cy="1014.0" r="3.8" fill="#F59B4E"/>
<circle cx="203.1" cy="1018.2" r="3.8" fill="#F59B4E"/>
<circle cx="190.3" cy="1031.4" r="3.8" fill="#F59B4E"/>
<circle cx="190.3" cy="1038.0" r="3.8" fill="#F59B4E"/>
<circle cx="190.3" cy="1049.9" r="3.8" fill="#F59B4E"/>
<circle cx="190.3" cy="1060.6" r="3.8" fill="#F59B4E"/>
<circle cx="203.1" cy="1061.9" r="3.8" fill="#F59B4E"/>
<circle cx="212.1" cy="1061.9" r="3.8" fill="#F59B4E"/>
<circle cx="180.1" cy="1065.6" r="3.8" fill="#F59B4E"/>
<line x1="244.0" y1="927.4" x2="244.0" y2="993.4" stroke="#2E72B7" stroke-width="1.6"/>
<line x1="235.5" y1="927.4" x2="252.5" y2="927.4" stroke="#2E72B7" stroke-width="1.6"/>
<line x1="244.0" y1="1064.4" x2="244.0" y2="1051.2" stroke="#2E72B7" stroke-width="1.6"/>
<line x1="235.5" y1="1064.4" x2="252.5" y2="1064.4" stroke="#2E72B7" stroke-width="1.6"/>
<rect x="228.5" y="993.4" width="31.0" height="57.8" fill="none" stroke="#2E72B7" stroke-width="1.6"/>
<line x1="228.5" y1="1031.4" x2="259.5" y2="1031.4" stroke="#2E72B7" stroke-width="1.6"/>
<circle cx="244.0" cy="927.4" r="3.8" fill="#2E72B7"/>
<circle cx="231.2" cy="993.4" r="3.8" fill="#2E72B7"/>
<circle cx="244.0" cy="993.4" r="3.8" fill="#2E72B7"/>
<circle cx="231.2" cy="1031.4" r="3.8" fill="#2E72B7"/>
<circle cx="244.0" cy="1029.3" r="3.8" fill="#2E72B7"/>
<circle cx="231.2" cy="1042.9" r="3.8" fill="#2E72B7"/>
<circle cx="244.0" cy="1042.9" r="3.8" fill="#2E72B7"/>
<circle cx="231.2" cy="1064.4" r="3.8" fill="#2E72B7"/>
<circle cx="256.8" cy="1060.2" r="3.8" fill="#2E72B7"/>
<line x1="291.4" y1="1051.6" x2="291.4" y2="1054.0" stroke="#B51F35" stroke-width="1.6"/>
<line x1="282.9" y1="1051.6" x2="299.9" y2="1051.6" stroke="#B51F35" stroke-width="1.6"/>
<line x1="291.4" y1="1060.2" x2="291.4" y2="1054.0" stroke="#B51F35" stroke-width="1.6"/>
<line x1="282.9" y1="1060.2" x2="299.9" y2="1060.2" stroke="#B51F35" stroke-width="1.6"/>
<line x1="275.9" y1="1054.0" x2="306.9" y2="1054.0" stroke="#B51F35" stroke-width="1.6"/>
<circle cx="278.6" cy="1060.2" r="3.8" fill="#B51F35"/>
<circle cx="291.4" cy="1051.6" r="3.8" fill="#B51F35"/>
<circle cx="304.2" cy="1054.5" r="3.8" fill="#B51F35"/>
<line x1="149.0" y1="897.7" x2="197.0" y2="897.7" stroke="#231F20" stroke-width="1.5"/>
<text x="173.0" y="892.7" font-size="19.2" text-anchor="middle" fill="#141214">p=0.0220</text>
<text x="471.4" y="855.0" font-size="21" text-anchor="middle" fill="#141214">G3</text>
<line x1="384.6" y1="1066.4" x2="384.6" y2="900.7" stroke="#231F20" stroke-width="1.6"/>
<line x1="376.1" y1="1065.6" x2="384.6" y2="1065.6" stroke="#231F20" stroke-width="1.6"/>
<text x="374.1" y="1072.5" font-size="19.5" text-anchor="end" fill="#231F20">0</text>
<line x1="376.1" y1="1024.4" x2="384.6" y2="1024.4" stroke="#231F20" stroke-width="1.6"/>
<text x="374.1" y="1031.3" font-size="19.5" text-anchor="end" fill="#231F20">6</text>
<line x1="376.1" y1="983.2" x2="384.6" y2="983.2" stroke="#231F20" stroke-width="1.6"/>
<text x="374.1" y="990.1" font-size="19.5" text-anchor="end" fill="#231F20">12</text>
<line x1="376.1" y1="941.9" x2="384.6" y2="941.9" stroke="#231F20" stroke-width="1.6"/>
<text x="374.1" y="948.8" font-size="19.5" text-anchor="end" fill="#231F20">18</text>
<line x1="376.1" y1="900.7" x2="384.6" y2="900.7" stroke="#231F20" stroke-width="1.6"/>
<text x="374.1" y="907.6" font-size="19.5" text-anchor="end" fill="#231F20">24</text>
<line x1="384.6" y1="1065.6" x2="591.6" y2="1065.6" stroke="#231F20" stroke-width="1.6"/>
<line x1="415.6" y1="963.2" x2="415.6" y2="990.7" stroke="#4BB56A" stroke-width="1.6"/>
<line x1="407.1" y1="963.2" x2="424.1" y2="963.2" stroke="#4BB56A" stroke-width="1.6"/>
<line x1="415.6" y1="1054.6" x2="415.6" y2="1054.3" stroke="#4BB56A" stroke-width="1.6"/>
<line x1="407.1" y1="1054.6" x2="424.1" y2="1054.6" stroke="#4BB56A" stroke-width="1.6"/>
<rect x="400.1" y="990.7" width="31.0" height="63.5" fill="none" stroke="#4BB56A" stroke-width="1.6"/>
<line x1="400.1" y1="997.6" x2="431.1" y2="997.6" stroke="#4BB56A" stroke-width="1.6"/>
<circle cx="415.6" cy="963.2" r="3.8" fill="#4BB56A"/>
<circle cx="402.8" cy="989.3" r="3.8" fill="#4BB56A"/>
<circle cx="402.8" cy="997.6" r="3.8" fill="#4BB56A"/>
<circle cx="415.6" cy="994.8" r="3.8" fill="#4BB56A"/>
<circle cx="415.6" cy="1027.8" r="3.8" fill="#4BB56A"/>
<circle cx="402.8" cy="1056.0" r="3.8" fill="#4BB56A"/>
<circle cx="428.4" cy="1052.5" r="3.8" fill="#4BB56A"/>
<line x1="463.4" y1="928.9" x2="463.4" y2="953.6" stroke="#F59B4E" stroke-width="1.6"/>
<line x1="454.9" y1="928.9" x2="471.9" y2="928.9" stroke="#F59B4E" stroke-width="1.6"/>
<line x1="463.4" y1="1049.8" x2="463.4" y2="996.9" stroke="#F59B4E" stroke-width="1.6"/>
<line x1="454.9" y1="1049.8" x2="471.9" y2="1049.8" stroke="#F59B4E" stroke-width="1.6"/>
<rect x="447.9" y="953.6" width="31.0" height="43.3" fill="none" stroke="#F59B4E" stroke-width="1.6"/>
<line x1="447.9" y1="972.9" x2="478.9" y2="972.9" stroke="#F59B4E" stroke-width="1.6"/>
<circle cx="463.4" cy="928.9" r="3.8" fill="#F59B4E"/>
<circle cx="450.6" cy="946.7" r="3.8" fill="#F59B4E"/>
<circle cx="463.4" cy="948.1" r="3.8" fill="#F59B4E"/>
<circle cx="450.6" cy="955.0" r="3.8" fill="#F59B4E"/>
<circle cx="476.2" cy="955.0" r="3.8" fill="#F59B4E"/>
<circle cx="450.6" cy="972.9" r="3.8" fill="#F59B4E"/>
<circle cx="463.4" cy="972.9" r="3.8" fill="#F59B4E"/>
<circle cx="476.2" cy="974.9" r="3.8" fill="#F59B4E"/>
<circle cx="450.6" cy="986.6" r="3.8" fill="#F59B4E"/>
<circle cx="476.2" cy="986.6" r="3.8" fill="#F59B4E"/>
<circle cx="450.6" cy="999.6" r="3.8" fill="#F59B4E"/>
<circle cx="463.4" cy="996.9" r="3.8" fill="#F59B4E"/>
<circle cx="476.2" cy="996.9" r="3.8" fill="#F59B4E"/>
<circle cx="463.4" cy="1049.8" r="3.8" fill="#F59B4E"/>
<circle cx="463.4" cy="957.1" r="3.8" fill="#F59B4E"/>
<line x1="511.4" y1="954.3" x2="511.4" y2="985.2" stroke="#2E72B7" stroke-width="1.6"/>
<line x1="502.9" y1="954.3" x2="519.9" y2="954.3" stroke="#2E72B7" stroke-width="1.6"/>
<line x1="511.4" y1="1002.4" x2="511.4" y2="993.5" stroke="#2E72B7" stroke-width="1.6"/>
<line x1="502.9" y1="1002.4" x2="519.9" y2="1002.4" stroke="#2E72B7" stroke-width="1.6"/>
<rect x="495.9" y="985.2" width="31.0" height="8.2" fill="none" stroke="#2E72B7" stroke-width="1.6"/>
<line x1="495.9" y1="990.0" x2="526.9" y2="990.0" stroke="#2E72B7" stroke-width="1.6"/>
<circle cx="511.4" cy="954.3" r="3.8" fill="#2E72B7"/>
<circle cx="498.6" cy="985.9" r="3.8" fill="#2E72B7"/>
<circle cx="507.4" cy="984.5" r="3.8" fill="#2E72B7"/>
<circle cx="517.4" cy="982.5" r="3.8" fill="#2E72B7"/>
<circle cx="524.2" cy="986.6" r="3.8" fill="#2E72B7"/>
<circle cx="498.6" cy="989.3" r="3.8" fill="#2E72B7"/>
<circle cx="517.4" cy="990.7" r="3.8" fill="#2E72B7"/>
<circle cx="511.4" cy="1001.7" r="3.8" fill="#2E72B7"/>
<circle cx="497.3" cy="988.0" r="3.8" fill="#2E72B7"/>
<line x1="558.6" y1="958.4" x2="558.6" y2="968.0" stroke="#B51F35" stroke-width="1.6"/>
<line x1="550.1" y1="958.4" x2="567.1" y2="958.4" stroke="#B51F35" stroke-width="1.6"/>
<line x1="558.6" y1="995.5" x2="558.6" y2="968.0" stroke="#B51F35" stroke-width="1.6"/>
<line x1="550.1" y1="995.5" x2="567.1" y2="995.5" stroke="#B51F35" stroke-width="1.6"/>
<line x1="543.1" y1="968.0" x2="574.1" y2="968.0" stroke="#B51F35" stroke-width="1.6"/>
<circle cx="558.6" cy="958.4" r="3.8" fill="#B51F35"/>
<circle cx="558.6" cy="967.4" r="3.8" fill="#B51F35"/>
<circle cx="558.6" cy="995.5" r="3.8" fill="#B51F35"/>
<line x1="416.0" y1="917.5" x2="463.0" y2="917.5" stroke="#231F20" stroke-width="1.5"/>
<text x="439.5" y="912.5" font-size="19.2" text-anchor="middle" fill="#141214">p=0.0259</text>
<text x="739.5" y="855.0" font-size="21" text-anchor="middle" fill="#141214">G6</text>
<line x1="652.3" y1="1066.4" x2="652.3" y2="900.7" stroke="#231F20" stroke-width="1.6"/>
<line x1="643.8" y1="1065.6" x2="652.3" y2="1065.6" stroke="#231F20" stroke-width="1.6"/>
<text x="641.8" y="1072.5" font-size="19.5" text-anchor="end" fill="#231F20">0</text>
<line x1="643.8" y1="1010.6" x2="652.3" y2="1010.6" stroke="#231F20" stroke-width="1.6"/>
<text x="641.8" y="1017.5" font-size="19.5" text-anchor="end" fill="#231F20">10</text>
<line x1="643.8" y1="955.7" x2="652.3" y2="955.7" stroke="#231F20" stroke-width="1.6"/>
<text x="641.8" y="962.6" font-size="19.5" text-anchor="end" fill="#231F20">20</text>
<line x1="643.8" y1="900.7" x2="652.3" y2="900.7" stroke="#231F20" stroke-width="1.6"/>
<text x="641.8" y="907.6" font-size="19.5" text-anchor="end" fill="#231F20">30</text>
<line x1="652.3" y1="1065.6" x2="859.3" y2="1065.6" stroke="#231F20" stroke-width="1.6"/>
<line x1="684.3" y1="933.7" x2="684.3" y2="967.2" stroke="#4BB56A" stroke-width="1.6"/>
<line x1="675.8" y1="933.7" x2="692.8" y2="933.7" stroke="#4BB56A" stroke-width="1.6"/>
<line x1="684.3" y1="1003.5" x2="684.3" y2="1003.5" stroke="#4BB56A" stroke-width="1.6"/>
<line x1="675.8" y1="1003.5" x2="692.8" y2="1003.5" stroke="#4BB56A" stroke-width="1.6"/>
<rect x="668.8" y="967.2" width="31.0" height="36.3" fill="none" stroke="#4BB56A" stroke-width="1.6"/>
<line x1="668.8" y1="970.5" x2="699.8" y2="970.5" stroke="#4BB56A" stroke-width="1.6"/>
<circle cx="684.3" cy="933.7" r="3.8" fill="#4BB56A"/>
<circle cx="671.5" cy="966.1" r="3.8" fill="#4BB56A"/>
<circle cx="684.3" cy="966.1" r="3.8" fill="#4BB56A"/>
<circle cx="697.1" cy="970.0" r="3.8" fill="#4BB56A"/>
<circle cx="684.3" cy="981.5" r="3.8" fill="#4BB56A"/>
<circle cx="671.5" cy="1003.5" r="3.8" fill="#4BB56A"/>
<circle cx="697.1" cy="1002.9" r="3.8" fill="#4BB56A"/>
<line x1="731.5" y1="960.6" x2="731.5" y2="998.5" stroke="#F59B4E" stroke-width="1.6"/>
<line x1="723.0" y1="960.6" x2="740.0" y2="960.6" stroke="#F59B4E" stroke-width="1.6"/>
<line x1="731.5" y1="1038.7" x2="731.5" y2="1026.0" stroke="#F59B4E" stroke-width="1.6"/>
<line x1="723.0" y1="1038.7" x2="740.0" y2="1038.7" stroke="#F59B4E" stroke-width="1.6"/>
<rect x="716.0" y="998.5" width="31.0" height="27.5" fill="none" stroke="#F59B4E" stroke-width="1.6"/>
<line x1="716.0" y1="1011.7" x2="747.0" y2="1011.7" stroke="#F59B4E" stroke-width="1.6"/>
<circle cx="735.5" cy="960.6" r="3.8" fill="#F59B4E"/>
<circle cx="735.5" cy="968.9" r="3.8" fill="#F59B4E"/>
<circle cx="727.5" cy="979.8" r="3.8" fill="#F59B4E"/>
<circle cx="735.5" cy="998.5" r="3.8" fill="#F59B4E"/>
<circle cx="719.5" cy="1004.0" r="3.8" fill="#F59B4E"/>
<circle cx="727.5" cy="1009.5" r="3.8" fill="#F59B4E"/>
<circle cx="735.5" cy="1009.5" r="3.8" fill="#F59B4E"/>
<circle cx="743.5" cy="1009.5" r="3.8" fill="#F59B4E"/>
<circle cx="719.5" cy="1016.7" r="3.8" fill="#F59B4E"/>
<circle cx="727.5" cy="1016.7" r="3.8" fill="#F59B4E"/>
<circle cx="735.5" cy="1022.2" r="3.8" fill="#F59B4E"/>
<circle cx="719.5" cy="1027.1" r="3.8" fill="#F59B4E"/>
<circle cx="743.5" cy="1027.1" r="3.8" fill="#F59B4E"/>
<circle cx="727.5" cy="1033.2" r="3.8" fill="#F59B4E"/>
<circle cx="743.5" cy="1033.2" r="3.8" fill="#F59B4E"/>
<circle cx="719.5" cy="1038.7" r="3.8" fill="#F59B4E"/>
<line x1="779.4" y1="933.1" x2="779.4" y2="980.9" stroke="#2E72B7" stroke-width="1.6"/>
<line x1="770.9" y1="933.1" x2="787.9" y2="933.1" stroke="#2E72B7" stroke-width="1.6"/>
<line x1="779.4" y1="1031.5" x2="779.4" y2="1025.5" stroke="#2E72B7" stroke-width="1.6"/>
<line x1="770.9" y1="1031.5" x2="787.9" y2="1031.5" stroke="#2E72B7" stroke-width="1.6"/>
<rect x="763.9" y="980.9" width="31.0" height="44.5" fill="none" stroke="#2E72B7" stroke-width="1.6"/>
<line x1="763.9" y1="1006.2" x2="794.9" y2="1006.2" stroke="#2E72B7" stroke-width="1.6"/>
<circle cx="779.4" cy="933.1" r="3.8" fill="#2E72B7"/>
<circle cx="766.6" cy="978.2" r="3.8" fill="#2E72B7"/>
<circle cx="779.4" cy="983.1" r="3.8" fill="#2E72B7"/>
<circle cx="766.6" cy="1006.2" r="3.8" fill="#2E72B7"/>
<circle cx="779.4" cy="1006.2" r="3.8" fill="#2E72B7"/>
<circle cx="792.2" cy="1006.2" r="3.8" fill="#2E72B7"/>
<circle cx="779.4" cy="1022.2" r="3.8" fill="#2E72B7"/>
<circle cx="766.6" cy="1031.5" r="3.8" fill="#2E72B7"/>
<circle cx="792.2" cy="1029.9" r="3.8" fill="#2E72B7"/>
<line x1="827.3" y1="982.0" x2="827.3" y2="984.2" stroke="#B51F35" stroke-width="1.6"/>
<line x1="818.8" y1="982.0" x2="835.8" y2="982.0" stroke="#B51F35" stroke-width="1.6"/>
<line x1="827.3" y1="990.8" x2="827.3" y2="984.2" stroke="#B51F35" stroke-width="1.6"/>
<line x1="818.8" y1="990.8" x2="835.8" y2="990.8" stroke="#B51F35" stroke-width="1.6"/>
<line x1="811.8" y1="984.2" x2="842.8" y2="984.2" stroke="#B51F35" stroke-width="1.6"/>
<circle cx="814.5" cy="984.2" r="3.8" fill="#B51F35"/>
<circle cx="841.4" cy="982.0" r="3.8" fill="#B51F35"/>
<circle cx="827.3" cy="991.9" r="3.8" fill="#B51F35"/>
<line x1="684.0" y1="921.0" x2="731.0" y2="921.0" stroke="#231F20" stroke-width="1.5"/>
<text x="707.5" y="916.0" font-size="19.2" text-anchor="middle" fill="#141214">p=0.0123</text>
<text x="67.5" y="1132.0" font-size="22.8" fill="#141214">MS</text>
<line x1="107.5" y1="1112.0" x2="107.5" y2="1137.0" stroke="#BBBBBB" stroke-width="1"/>
<circle cx="122.0" cy="1123.7" r="8.7" fill="#4BB56A"/>
<text x="147.6" y="1132.0" font-size="26" fill="#141214">Untreated (n=7)</text>
<circle cx="345.8" cy="1123.7" r="8.7" fill="#F59B4E"/>
<text x="370.5" y="1132.0" font-size="26" fill="#141214">aCD20 (n=15)</text>
<circle cx="553.0" cy="1123.7" r="8.7" fill="#2E72B7"/>
<text x="577.8" y="1132.0" font-size="26" fill="#141214">FTY (n=9)</text>
<circle cx="714.0" cy="1123.7" r="8.7" fill="#B51F35"/>
<text x="739.5" y="1132.0" font-size="26" fill="#141214">IFNβ (n=3)</text>
<text x="1003.2" y="981.0" font-size="22.3" text-anchor="middle" fill="#141214" transform="rotate(-90 1003.2 981.0)">Proportion</text>
<text x="1030.8" y="981.0" font-size="22.3" text-anchor="middle" fill="#141214" transform="rotate(-90 1030.8 981.0)">(% of total granulocytes)</text>
<text x="1167.5" y="855.0" font-size="21" text-anchor="middle" fill="#141214">G1</text>
<line x1="1086.2" y1="1066.4" x2="1086.2" y2="900.6" stroke="#231F20" stroke-width="1.6"/>
<line x1="1077.7" y1="1065.6" x2="1086.2" y2="1065.6" stroke="#231F20" stroke-width="1.6"/>
<text x="1075.7" y="1072.5" font-size="19.5" text-anchor="end" fill="#231F20">0.0</text>
<line x1="1077.7" y1="1024.3" x2="1086.2" y2="1024.3" stroke="#231F20" stroke-width="1.6"/>
<text x="1075.7" y="1031.2" font-size="19.5" text-anchor="end" fill="#231F20">0.2</text>
<line x1="1077.7" y1="983.1" x2="1086.2" y2="983.1" stroke="#231F20" stroke-width="1.6"/>
<text x="1075.7" y="990.0" font-size="19.5" text-anchor="end" fill="#231F20">0.4</text>
<line x1="1077.7" y1="941.8" x2="1086.2" y2="941.8" stroke="#231F20" stroke-width="1.6"/>
<text x="1075.7" y="948.7" font-size="19.5" text-anchor="end" fill="#231F20">0.6</text>
<line x1="1077.7" y1="900.6" x2="1086.2" y2="900.6" stroke="#231F20" stroke-width="1.6"/>
<text x="1075.7" y="907.5" font-size="19.5" text-anchor="end" fill="#231F20">0.8</text>
<line x1="1086.2" y1="1065.6" x2="1251.8" y2="1065.6" stroke="#231F20" stroke-width="1.6"/>
<line x1="1119.0" y1="980.0" x2="1119.0" y2="1012.4" stroke="#6D78BE" stroke-width="1.6"/>
<line x1="1110.5" y1="980.0" x2="1127.5" y2="980.0" stroke="#6D78BE" stroke-width="1.6"/>
<line x1="1119.0" y1="1046.0" x2="1119.0" y2="1012.4" stroke="#6D78BE" stroke-width="1.6"/>
<line x1="1110.5" y1="1046.0" x2="1127.5" y2="1046.0" stroke="#6D78BE" stroke-width="1.6"/>
<line x1="1102.8" y1="1012.4" x2="1135.2" y2="1012.4" stroke="#6D78BE" stroke-width="1.6"/>
<circle cx="1119.0" cy="980.0" r="3.8" fill="#6D78BE"/>
<circle cx="1119.0" cy="1046.0" r="3.8" fill="#6D78BE"/>
<line x1="1168.4" y1="948.0" x2="1168.4" y2="963.7" stroke="#2EBFBF" stroke-width="1.6"/>
<line x1="1159.9" y1="948.0" x2="1176.9" y2="948.0" stroke="#2EBFBF" stroke-width="1.6"/>
<line x1="1168.4" y1="1052.2" x2="1168.4" y2="1049.3" stroke="#2EBFBF" stroke-width="1.6"/>
<line x1="1159.9" y1="1052.2" x2="1176.9" y2="1052.2" stroke="#2EBFBF" stroke-width="1.6"/>
<rect x="1152.9" y="963.7" width="31.0" height="85.6" fill="none" stroke="#2EBFBF" stroke-width="1.6"/>
<line x1="1152.9" y1="1023.5" x2="1183.9" y2="1023.5" stroke="#2EBFBF" stroke-width="1.6"/>
<circle cx="1168.4" cy="948.0" r="3.8" fill="#2EBFBF"/>
<circle cx="1168.4" cy="1007.8" r="3.8" fill="#2EBFBF"/>
<circle cx="1168.4" cy="1038.8" r="3.8" fill="#2EBFBF"/>
<circle cx="1168.4" cy="1052.2" r="3.8" fill="#2EBFBF"/>
<line x1="1201.5" y1="1063.5" x2="1233.5" y2="1063.5" stroke="#B4BC2D" stroke-width="2.6"/>
<circle cx="1217.5" cy="1063.5" r="3.8" fill="#B4BC2D"/>
<text x="1428.9" y="855.0" font-size="21" text-anchor="middle" fill="#141214">G3</text>
<line x1="1356.3" y1="1066.4" x2="1356.3" y2="900.7" stroke="#231F20" stroke-width="1.6"/>
<line x1="1347.8" y1="1065.6" x2="1356.3" y2="1065.6" stroke="#231F20" stroke-width="1.6"/>
<text x="1345.8" y="1072.5" font-size="19.5" text-anchor="end" fill="#231F20">0</text>
<line x1="1347.8" y1="1024.4" x2="1356.3" y2="1024.4" stroke="#231F20" stroke-width="1.6"/>
<text x="1345.8" y="1031.3" font-size="19.5" text-anchor="end" fill="#231F20">5</text>
<line x1="1347.8" y1="983.1" x2="1356.3" y2="983.1" stroke="#231F20" stroke-width="1.6"/>
<text x="1345.8" y="990.0" font-size="19.5" text-anchor="end" fill="#231F20">10</text>
<line x1="1347.8" y1="941.9" x2="1356.3" y2="941.9" stroke="#231F20" stroke-width="1.6"/>
<text x="1345.8" y="948.8" font-size="19.5" text-anchor="end" fill="#231F20">15</text>
<line x1="1347.8" y1="900.7" x2="1356.3" y2="900.7" stroke="#231F20" stroke-width="1.6"/>
<text x="1345.8" y="907.6" font-size="19.5" text-anchor="end" fill="#231F20">20</text>
<line x1="1356.3" y1="1065.6" x2="1522.3" y2="1065.6" stroke="#231F20" stroke-width="1.6"/>
<line x1="1375.5" y1="958.4" x2="1402.4" y2="958.4" stroke="#6D78BE" stroke-width="3"/>
<circle cx="1375.5" cy="960.1" r="3.8" fill="#6D78BE"/>
<circle cx="1402.4" cy="956.8" r="3.8" fill="#6D78BE"/>
<line x1="1438.4" y1="943.6" x2="1438.4" y2="948.5" stroke="#2EBFBF" stroke-width="1.6"/>
<line x1="1429.9" y1="943.6" x2="1446.9" y2="943.6" stroke="#2EBFBF" stroke-width="1.6"/>
<line x1="1438.4" y1="1020.3" x2="1438.4" y2="1007.9" stroke="#2EBFBF" stroke-width="1.6"/>
<line x1="1429.9" y1="1020.3" x2="1446.9" y2="1020.3" stroke="#2EBFBF" stroke-width="1.6"/>
<rect x="1422.9" y="948.5" width="31.0" height="59.4" fill="none" stroke="#2EBFBF" stroke-width="1.6"/>
<line x1="1422.9" y1="966.1" x2="1453.9" y2="966.1" stroke="#2EBFBF" stroke-width="1.6"/>
<circle cx="1438.4" cy="943.6" r="3.8" fill="#2EBFBF"/>
<circle cx="1438.4" cy="960.1" r="3.8" fill="#2EBFBF"/>
<circle cx="1438.4" cy="973.3" r="3.8" fill="#2EBFBF"/>
<circle cx="1438.4" cy="1020.3" r="3.8" fill="#2EBFBF"/>
<line x1="1471.8" y1="1022.7" x2="1503.8" y2="1022.7" stroke="#B4BC2D" stroke-width="2.6"/>
<circle cx="1487.8" cy="1022.7" r="3.8" fill="#B4BC2D"/>
<text x="1696.6" y="855.0" font-size="21" text-anchor="middle" fill="#141214">G6</text>
<line x1="1623.2" y1="1066.4" x2="1623.2" y2="900.7" stroke="#231F20" stroke-width="1.6"/>
<line x1="1614.7" y1="1065.6" x2="1623.2" y2="1065.6" stroke="#231F20" stroke-width="1.6"/>
<text x="1612.7" y="1072.5" font-size="19.5" text-anchor="end" fill="#231F20">0</text>
<line x1="1614.7" y1="1024.4" x2="1623.2" y2="1024.4" stroke="#231F20" stroke-width="1.6"/>
<text x="1612.7" y="1031.3" font-size="19.5" text-anchor="end" fill="#231F20">5</text>
<line x1="1614.7" y1="983.1" x2="1623.2" y2="983.1" stroke="#231F20" stroke-width="1.6"/>
<text x="1612.7" y="990.0" font-size="19.5" text-anchor="end" fill="#231F20">10</text>
<line x1="1614.7" y1="941.9" x2="1623.2" y2="941.9" stroke="#231F20" stroke-width="1.6"/>
<text x="1612.7" y="948.8" font-size="19.5" text-anchor="end" fill="#231F20">15</text>
<line x1="1614.7" y1="900.7" x2="1623.2" y2="900.7" stroke="#231F20" stroke-width="1.6"/>
<text x="1612.7" y="907.6" font-size="19.5" text-anchor="end" fill="#231F20">20</text>
<line x1="1623.2" y1="1065.6" x2="1789.2" y2="1065.6" stroke="#231F20" stroke-width="1.6"/>
<rect x="1645.0" y="977.4" width="22.0" height="4.5" fill="none" stroke="#6D78BE" stroke-width="1.6"/>
<line x1="1645.0" y1="979.4" x2="1667.0" y2="979.4" stroke="#6D78BE" stroke-width="1.6"/>
<circle cx="1643.5" cy="981.5" r="3.8" fill="#6D78BE"/>
<circle cx="1669.7" cy="976.6" r="3.8" fill="#6D78BE"/>
<line x1="1706.0" y1="920.5" x2="1706.0" y2="939.5" stroke="#2EBFBF" stroke-width="1.6"/>
<line x1="1697.5" y1="920.5" x2="1714.5" y2="920.5" stroke="#2EBFBF" stroke-width="1.6"/>
<line x1="1706.0" y1="998.8" x2="1706.0" y2="998.0" stroke="#2EBFBF" stroke-width="1.6"/>
<line x1="1697.5" y1="998.8" x2="1714.5" y2="998.8" stroke="#2EBFBF" stroke-width="1.6"/>
<rect x="1690.5" y="939.5" width="31.0" height="58.5" fill="none" stroke="#2EBFBF" stroke-width="1.6"/>
<line x1="1690.5" y1="993.9" x2="1721.5" y2="993.9" stroke="#2EBFBF" stroke-width="1.6"/>
<circle cx="1706.0" cy="920.5" r="3.8" fill="#2EBFBF"/>
<circle cx="1706.0" cy="992.2" r="3.8" fill="#2EBFBF"/>
<circle cx="1719.4" cy="994.7" r="3.8" fill="#2EBFBF"/>
<circle cx="1693.0" cy="998.8" r="3.8" fill="#2EBFBF"/>
<line x1="1739.0" y1="1038.4" x2="1771.0" y2="1038.4" stroke="#B4BC2D" stroke-width="2.6"/>
<circle cx="1755.0" cy="1038.4" r="3.8" fill="#B4BC2D"/>
<text x="1087.5" y="1132.0" font-size="22.3" fill="#141214">NMOSD</text>
<line x1="1177.7" y1="1112.0" x2="1177.7" y2="1137.0" stroke="#BBBBBB" stroke-width="1"/>
<circle cx="1192.2" cy="1123.7" r="8.7" fill="#6D78BE"/>
<text x="1217.5" y="1132.0" font-size="26" fill="#141214">Untreated (n=2)</text>
<circle cx="1415.5" cy="1123.7" r="8.7" fill="#2EBFBF"/>
<text x="1439.8" y="1132.0" font-size="26" fill="#141214">aCD20 (n=4)</text>
<circle cx="1605.8" cy="1123.7" r="8.7" fill="#B4BC2D"/>
<text x="1630.5" y="1132.0" font-size="26" fill="#141214">MMF (n=1)</text>
<text x="322.0" y="1220.8" font-size="22" text-anchor="middle" fill="#141214">MS</text>
<line x1="135.2" y1="1236.8" x2="135.2" y2="1547.0" stroke="#EBEBEB" stroke-width="0.9"/>
<line x1="269.3" y1="1236.8" x2="269.3" y2="1547.0" stroke="#EBEBEB" stroke-width="0.9"/>
<line x1="403.3" y1="1236.8" x2="403.3" y2="1547.0" stroke="#EBEBEB" stroke-width="0.9"/>
<line x1="95.9" y1="1537.0" x2="499.3" y2="1537.0" stroke="#EBEBEB" stroke-width="0.9"/>
<line x1="95.9" y1="1472.2" x2="499.3" y2="1472.2" stroke="#EBEBEB" stroke-width="0.9"/>
<line x1="95.9" y1="1407.4" x2="499.3" y2="1407.4" stroke="#EBEBEB" stroke-width="0.9"/>
<line x1="95.9" y1="1342.6" x2="499.3" y2="1342.6" stroke="#EBEBEB" stroke-width="0.9"/>
<line x1="95.9" y1="1277.7" x2="499.3" y2="1277.7" stroke="#EBEBEB" stroke-width="0.9"/>
<line x1="202.3" y1="1236.8" x2="202.3" y2="1547.0" stroke="#EBEBEB" stroke-width="1.6"/>
<line x1="336.3" y1="1236.8" x2="336.3" y2="1547.0" stroke="#EBEBEB" stroke-width="1.6"/>
<line x1="470.4" y1="1236.8" x2="470.4" y2="1547.0" stroke="#EBEBEB" stroke-width="1.6"/>
<line x1="95.9" y1="1504.6" x2="499.3" y2="1504.6" stroke="#EBEBEB" stroke-width="1.6"/>
<line x1="95.9" y1="1439.8" x2="499.3" y2="1439.8" stroke="#EBEBEB" stroke-width="1.6"/>
<line x1="95.9" y1="1375.0" x2="499.3" y2="1375.0" stroke="#EBEBEB" stroke-width="1.6"/>
<line x1="95.9" y1="1310.1" x2="499.3" y2="1310.1" stroke="#EBEBEB" stroke-width="1.6"/>
<line x1="95.9" y1="1245.3" x2="499.3" y2="1245.3" stroke="#EBEBEB" stroke-width="1.6"/>
<line x1="336.3" y1="1236.8" x2="336.3" y2="1547.0" stroke="#111" stroke-width="1.6" stroke-dasharray="9 5"/>
<line x1="95.9" y1="1439.8" x2="499.3" y2="1439.8" stroke="#111" stroke-width="1.6" stroke-dasharray="9 5"/>
<circle cx="121.4" cy="1251.4" r="2.4" fill="#595959"/>
<circle cx="114.6" cy="1274.4" r="2.4" fill="#595959"/>
<circle cx="363.4" cy="1302.2" r="2.4" fill="#595959"/>
<circle cx="405.1" cy="1342.2" r="2.4" fill="#595959"/>
<circle cx="410.8" cy="1337.8" r="2.4" fill="#595959"/>
<circle cx="386.4" cy="1370.7" r="2.4" fill="#595959"/>
<circle cx="370.2" cy="1384.2" r="2.4" fill="#595959"/>
<circle cx="396.6" cy="1388.6" r="2.4" fill="#595959"/>
<circle cx="412.9" cy="1380.8" r="2.4" fill="#595959"/>
<circle cx="408.5" cy="1392.0" r="2.4" fill="#595959"/>
<circle cx="412.9" cy="1398.8" r="2.4" fill="#595959"/>
<circle cx="440.7" cy="1390.3" r="2.4" fill="#595959"/>
<circle cx="438.3" cy="1397.1" r="2.4" fill="#595959"/>
<circle cx="449.2" cy="1393.7" r="2.4" fill="#595959"/>
<circle cx="455.9" cy="1392.0" r="2.4" fill="#595959"/>
<circle cx="447.5" cy="1403.9" r="2.4" fill="#595959"/>
<circle cx="432.2" cy="1412.4" r="2.4" fill="#595959"/>
<circle cx="440.0" cy="1420.8" r="2.4" fill="#595959"/>
<circle cx="405.1" cy="1414.1" r="2.4" fill="#595959"/>
<circle cx="403.4" cy="1420.8" r="2.4" fill="#595959"/>
<circle cx="397.3" cy="1430.3" r="2.4" fill="#595959"/>
<circle cx="415.3" cy="1429.3" r="2.4" fill="#595959"/>
<circle cx="415.3" cy="1436.1" r="2.4" fill="#595959"/>
<circle cx="401.7" cy="1437.8" r="2.4" fill="#595959"/>
<circle cx="429.8" cy="1440.2" r="2.4" fill="#595959"/>
<circle cx="428.8" cy="1431.0" r="2.4" fill="#595959"/>
<circle cx="403.4" cy="1446.3" r="2.4" fill="#595959"/>
<circle cx="369.5" cy="1420.8" r="2.4" fill="#595959"/>
<circle cx="363.4" cy="1438.8" r="2.4" fill="#595959"/>
<circle cx="355.9" cy="1443.9" r="2.4" fill="#595959"/>
<circle cx="370.2" cy="1448.6" r="2.4" fill="#595959"/>
<circle cx="344.1" cy="1408.3" r="2.4" fill="#595959"/>
<circle cx="339.0" cy="1414.7" r="2.4" fill="#595959"/>
<circle cx="332.2" cy="1419.2" r="2.4" fill="#595959"/>
<circle cx="328.1" cy="1393.1" r="2.4" fill="#595959"/>
<circle cx="325.4" cy="1410.7" r="2.4" fill="#595959"/>
<circle cx="300.0" cy="1404.6" r="2.4" fill="#595959"/>
<circle cx="208.5" cy="1376.8" r="2.4" fill="#595959"/>
<circle cx="216.9" cy="1372.7" r="2.4" fill="#595959"/>
<circle cx="230.5" cy="1391.0" r="2.4" fill="#595959"/>
<circle cx="211.9" cy="1410.7" r="2.4" fill="#595959"/>
<circle cx="251.5" cy="1411.4" r="2.4" fill="#595959"/>
<circle cx="265.4" cy="1413.4" r="2.4" fill="#595959"/>
<circle cx="259.7" cy="1424.2" r="2.4" fill="#595959"/>
<circle cx="274.6" cy="1390.3" r="2.4" fill="#595959"/>
<circle cx="301.0" cy="1429.3" r="2.4" fill="#595959"/>
<circle cx="306.8" cy="1432.7" r="2.4" fill="#595959"/>
<circle cx="315.3" cy="1438.8" r="2.4" fill="#595959"/>
<circle cx="311.2" cy="1445.3" r="2.4" fill="#595959"/>
<circle cx="339.0" cy="1446.3" r="2.4" fill="#595959"/>
<circle cx="345.8" cy="1456.4" r="2.4" fill="#595959"/>
<circle cx="337.3" cy="1462.2" r="2.4" fill="#595959"/>
<circle cx="355.9" cy="1464.2" r="2.4" fill="#595959"/>
<circle cx="354.2" cy="1471.7" r="2.4" fill="#595959"/>
<circle cx="347.5" cy="1470.0" r="2.4" fill="#595959"/>
<circle cx="352.5" cy="1478.5" r="2.4" fill="#595959"/>
<circle cx="359.3" cy="1481.2" r="2.4" fill="#595959"/>
<circle cx="349.8" cy="1488.0" r="2.4" fill="#595959"/>
<circle cx="342.4" cy="1475.8" r="2.4" fill="#595959"/>
<circle cx="338.0" cy="1476.8" r="2.4" fill="#595959"/>
<circle cx="335.6" cy="1468.3" r="2.4" fill="#595959"/>
<circle cx="335.6" cy="1505.6" r="2.4" fill="#595959"/>
<circle cx="330.5" cy="1497.1" r="2.4" fill="#595959"/>
<circle cx="326.1" cy="1489.3" r="2.4" fill="#595959"/>
<circle cx="326.1" cy="1510.7" r="2.4" fill="#595959"/>
<circle cx="323.7" cy="1518.5" r="2.4" fill="#595959"/>
<circle cx="322.0" cy="1512.4" r="2.4" fill="#595959"/>
<circle cx="318.6" cy="1493.7" r="2.4" fill="#595959"/>
<circle cx="316.9" cy="1488.6" r="2.4" fill="#595959"/>
<circle cx="316.9" cy="1477.8" r="2.4" fill="#595959"/>
<circle cx="316.9" cy="1464.9" r="2.4" fill="#595959"/>
<circle cx="311.9" cy="1481.2" r="2.4" fill="#595959"/>
<circle cx="310.2" cy="1485.3" r="2.4" fill="#595959"/>
<circle cx="309.2" cy="1490.3" r="2.4" fill="#595959"/>
<circle cx="305.1" cy="1497.1" r="2.4" fill="#595959"/>
<circle cx="303.4" cy="1508.3" r="2.4" fill="#595959"/>
<circle cx="298.3" cy="1481.2" r="2.4" fill="#595959"/>
<circle cx="294.9" cy="1471.7" r="2.4" fill="#595959"/>
<circle cx="293.2" cy="1464.9" r="2.4" fill="#595959"/>
<circle cx="287.5" cy="1457.5" r="2.4" fill="#595959"/>
<circle cx="289.8" cy="1462.2" r="2.4" fill="#595959"/>
<circle cx="289.8" cy="1467.6" r="2.4" fill="#595959"/>
<circle cx="288.1" cy="1480.2" r="2.4" fill="#595959"/>
<circle cx="286.4" cy="1477.8" r="2.4" fill="#595959"/>
<circle cx="274.6" cy="1468.3" r="2.4" fill="#595959"/>
<circle cx="272.9" cy="1472.7" r="2.4" fill="#595959"/>
<circle cx="262.7" cy="1461.5" r="2.4" fill="#595959"/>
<circle cx="240.0" cy="1461.5" r="2.4" fill="#595959"/>
<circle cx="275.3" cy="1466.6" r="2.4" fill="#595959"/>
<circle cx="271.2" cy="1468.3" r="2.4" fill="#595959"/>
<circle cx="305.1" cy="1458.1" r="2.4" fill="#595959"/>
<circle cx="306.8" cy="1470.0" r="2.4" fill="#595959"/>
<circle cx="311.9" cy="1464.9" r="2.4" fill="#595959"/>
<line x1="336.3" y1="1439.8" x2="481.4" y2="1353.0" stroke="#EE5E2E" stroke-width="3.2"/>
<path d="M478.3,1358.5 L481.4,1353.0 L475.1,1353.1" fill="none" stroke="#EE5E2E" stroke-width="3.2" stroke-linejoin="miter"/>
<line x1="336.3" y1="1439.8" x2="481.4" y2="1356.0" stroke="#EE5E2E" stroke-width="3.2"/>
<path d="M478.3,1361.4 L481.4,1356.0 L475.1,1356.0" fill="none" stroke="#EE5E2E" stroke-width="3.2" stroke-linejoin="miter"/>
<line x1="336.3" y1="1439.8" x2="193.2" y2="1355.8" stroke="#EE5E2E" stroke-width="3.0"/>
<path d="M199.4,1355.8 L193.2,1355.8 L196.3,1361.2" fill="none" stroke="#EE5E2E" stroke-width="3.0" stroke-linejoin="miter"/>
<line x1="336.3" y1="1439.8" x2="211.2" y2="1361.0" stroke="#EE5E2E" stroke-width="3.0"/>
<path d="M217.4,1361.2 L211.2,1361.0 L214.1,1366.5" fill="none" stroke="#EE5E2E" stroke-width="3.0" stroke-linejoin="miter"/>
<line x1="336.3" y1="1439.8" x2="229.2" y2="1332.7" stroke="#EF7B32" stroke-width="2.6"/>
<path d="M235.0,1334.3 L229.2,1332.7 L230.8,1338.5" fill="none" stroke="#EF7B32" stroke-width="2.6" stroke-linejoin="miter"/>
<line x1="336.3" y1="1439.8" x2="205.4" y2="1439.3" stroke="#EDA332" stroke-width="2.4"/>
<path d="M210.6,1436.3 L205.4,1439.3 L210.6,1442.3" fill="none" stroke="#EDA332" stroke-width="2.4" stroke-linejoin="miter"/>
<line x1="336.3" y1="1439.8" x2="257.6" y2="1387.6" stroke="#B8B46A" stroke-width="1.3"/>
<path d="M263.1,1387.9 L257.6,1387.6 L260.1,1392.5" fill="none" stroke="#B8B46A" stroke-width="1.3" stroke-linejoin="miter"/>
<line x1="336.3" y1="1439.8" x2="311.2" y2="1419.0" stroke="#2FB4C0" stroke-width="1.3"/>
<path d="M316.6,1419.9 L311.2,1419.0 L313.1,1424.2" fill="none" stroke="#2FB4C0" stroke-width="1.3" stroke-linejoin="miter"/>
<line x1="336.3" y1="1439.8" x2="286.8" y2="1449.7" stroke="#2FB4C0" stroke-width="1.3"/>
<path d="M290.9,1446.1 L286.8,1449.7 L292.0,1451.5" fill="none" stroke="#2FB4C0" stroke-width="1.3" stroke-linejoin="miter"/>
<line x1="336.3" y1="1439.8" x2="256.0" y2="1460.8" stroke="#8DB87A" stroke-width="1.3"/>
<path d="M259.9,1456.9 L256.0,1460.8 L261.3,1462.3" fill="none" stroke="#8DB87A" stroke-width="1.3" stroke-linejoin="miter"/>
<line x1="336.3" y1="1439.8" x2="257.6" y2="1525.3" stroke="#DDB236" stroke-width="1.3"/>
<path d="M258.8,1519.9 L257.6,1525.3 L262.9,1523.7" fill="none" stroke="#DDB236" stroke-width="1.3" stroke-linejoin="miter"/>
<line x1="336.3" y1="1439.8" x2="324.7" y2="1531.7" stroke="#AEB46E" stroke-width="1.3"/>
<path d="M322.6,1526.6 L324.7,1531.7 L328.0,1527.3" fill="none" stroke="#AEB46E" stroke-width="1.3" stroke-linejoin="miter"/>
<line x1="336.3" y1="1439.8" x2="382.4" y2="1522.5" stroke="#A8B272" stroke-width="1.3"/>
<path d="M377.7,1519.7 L382.4,1522.5 L382.5,1517.0" fill="none" stroke="#A8B272" stroke-width="1.3" stroke-linejoin="miter"/>
<line x1="336.3" y1="1439.8" x2="426.4" y2="1534.4" stroke="#EDA532" stroke-width="1.3"/>
<path d="M421.1,1532.8 L426.4,1534.4 L425.1,1529.0" fill="none" stroke="#EDA532" stroke-width="1.3" stroke-linejoin="miter"/>
<line x1="336.3" y1="1439.8" x2="437.3" y2="1422.5" stroke="#BDB45E" stroke-width="2.2"/>
<path d="M432.8,1426.3 L437.3,1422.5 L431.8,1420.5" fill="none" stroke="#BDB45E" stroke-width="2.2" stroke-linejoin="miter"/>
<line x1="336.3" y1="1439.8" x2="466.1" y2="1409.0" stroke="#E8B030" stroke-width="2.2"/>
<path d="M461.8,1413.0 L466.1,1409.0 L460.5,1407.3" fill="none" stroke="#E8B030" stroke-width="2.2" stroke-linejoin="miter"/>
<line x1="336.3" y1="1439.8" x2="429.8" y2="1385.3" stroke="#B8B46A" stroke-width="1.3"/>
<path d="M427.1,1390.1 L429.8,1385.3 L424.3,1385.3" fill="none" stroke="#B8B46A" stroke-width="1.3" stroke-linejoin="miter"/>
<line x1="336.3" y1="1439.8" x2="380.3" y2="1362.5" stroke="#A8B272" stroke-width="1.3"/>
<path d="M380.3,1368.0 L380.3,1362.5 L375.5,1365.3" fill="none" stroke="#A8B272" stroke-width="1.3" stroke-linejoin="miter"/>
<line x1="336.3" y1="1439.8" x2="359.3" y2="1339.5" stroke="#C8B45A" stroke-width="1.3"/>
<path d="M360.9,1344.8 L359.3,1339.5 L355.5,1343.5" fill="none" stroke="#C8B45A" stroke-width="1.3" stroke-linejoin="miter"/>
<text x="481.0" y="1348.0" font-size="21.5" text-anchor="middle" font-weight="bold" fill="#EE5A2C">G1</text>
<text x="485.0" y="1377.0" font-size="21.5" text-anchor="middle" font-weight="bold" fill="#EE5A2C">G9</text>
<text x="163.0" y="1358.0" font-size="21.5" text-anchor="middle" font-weight="bold" fill="#EE5E2E">G15</text>
<text x="218.0" y="1358.0" font-size="21.5" text-anchor="middle" font-weight="bold" fill="#EE7A32">G10</text>
<text x="248.0" y="1328.0" font-size="21.5" text-anchor="middle" font-weight="bold" fill="#EF7B32">G5</text>
<text x="198.0" y="1428.0" font-size="21.5" text-anchor="middle" font-weight="bold" fill="#EDA332">G7</text>
<text x="244.0" y="1406.0" font-size="19.2" text-anchor="middle" fill="#B8B46A">G8</text>
<text x="318.0" y="1412.0" font-size="19.2" text-anchor="middle" fill="#2FB4C0">G12</text>
<text x="285.0" y="1439.0" font-size="19.2" text-anchor="middle" fill="#2FB4C0">G2</text>
<text x="198.3" y="1478.0" font-size="19.2" text-anchor="middle" fill="#8DB87A">Anti-S1 IgG level</text>
<text x="255.0" y="1545.0" font-size="19.2" text-anchor="middle" fill="#DDB236">G6</text>
<text x="312.0" y="1545.0" font-size="19.2" text-anchor="middle" fill="#AEB46E">G11</text>
<text x="391.5" y="1537.0" font-size="19.2" text-anchor="middle" fill="#A8B272">G3</text>
<text x="442.0" y="1530.0" font-size="19.2" text-anchor="middle" fill="#EDA532">G4</text>
<text x="452.5" y="1440.0" font-size="21.5" text-anchor="middle" font-weight="bold" fill="#BDB45E">G14</text>
<text x="477.5" y="1416.5" font-size="21.5" text-anchor="middle" font-weight="bold" fill="#E8B030">G13</text>
<text x="449.0" y="1395.0" font-size="19.2" text-anchor="middle" fill="#B8B46A">G17</text>
<text x="399.5" y="1358.0" font-size="19.2" text-anchor="middle" fill="#A8B272">G16</text>
<text x="366.0" y="1333.0" font-size="19.2" text-anchor="middle" fill="#C8B45A">G18</text>
<line x1="202.3" y1="1547.0" x2="202.3" y2="1550.5" stroke="#4D4D4D" stroke-width="1.1"/>
<text x="202.3" y="1566.6" font-size="19.2" text-anchor="middle" fill="#4D4D4D">−5</text>
<line x1="336.3" y1="1547.0" x2="336.3" y2="1550.5" stroke="#4D4D4D" stroke-width="1.1"/>
<text x="336.3" y="1566.6" font-size="19.2" text-anchor="middle" fill="#4D4D4D">0</text>
<line x1="470.4" y1="1547.0" x2="470.4" y2="1550.5" stroke="#4D4D4D" stroke-width="1.1"/>
<text x="470.4" y="1566.6" font-size="19.2" text-anchor="middle" fill="#4D4D4D">5</text>
<line x1="92.4" y1="1504.6" x2="95.9" y2="1504.6" stroke="#4D4D4D" stroke-width="1.1"/>
<text x="91.4" y="1511.4" font-size="19.2" text-anchor="end" fill="#4D4D4D">−2.5</text>
<line x1="92.4" y1="1439.8" x2="95.9" y2="1439.8" stroke="#4D4D4D" stroke-width="1.1"/>
<text x="91.4" y="1446.6" font-size="19.2" text-anchor="end" fill="#4D4D4D">0.0</text>
<line x1="92.4" y1="1375.0" x2="95.9" y2="1375.0" stroke="#4D4D4D" stroke-width="1.1"/>
<text x="91.4" y="1381.8" font-size="19.2" text-anchor="end" fill="#4D4D4D">2.5</text>
<line x1="92.4" y1="1310.1" x2="95.9" y2="1310.1" stroke="#4D4D4D" stroke-width="1.1"/>
<text x="91.4" y="1316.9" font-size="19.2" text-anchor="end" fill="#4D4D4D">5.0</text>
<line x1="92.4" y1="1245.3" x2="95.9" y2="1245.3" stroke="#4D4D4D" stroke-width="1.1"/>
<text x="91.4" y="1252.1" font-size="19.2" text-anchor="end" fill="#4D4D4D">7.5</text>
<text x="324.7" y="1585.0" font-size="19.3" text-anchor="middle" fill="#141214">Dim1 (27.8%)</text>
<text x="51.0" y="1370.0" font-size="19.3" text-anchor="middle" fill="#141214" transform="rotate(-90 51.0 1370.0)">Dim2 (16%)</text>
<defs><linearGradient id="cgE" x1="0" y1="1" x2="0" y2="0"><stop offset="0" stop-color="#2CB6C2"/><stop offset="0.3" stop-color="#9DB47A"/><stop offset="0.55" stop-color="#E8B030"/><stop offset="0.8" stop-color="#F08A30"/><stop offset="1" stop-color="#EE5A2C"/></linearGradient></defs>
<text x="513.6" y="1352.0" font-size="19.2" fill="#141214">contrib</text>
<rect x="513.8" y="1361.7" width="15.8" height="75.0" fill="url(#cgE)"/>
<line x1="513.8" y1="1366.3" x2="517.0" y2="1366.3" stroke="#fff" stroke-width="1.1"/>
<line x1="526.4" y1="1366.3" x2="529.6" y2="1366.3" stroke="#fff" stroke-width="1.1"/>
<text x="534.7" y="1373.1" font-size="18.6" fill="#141214">10.0</text>
<line x1="513.8" y1="1384.6" x2="517.0" y2="1384.6" stroke="#fff" stroke-width="1.1"/>
<line x1="526.4" y1="1384.6" x2="529.6" y2="1384.6" stroke="#fff" stroke-width="1.1"/>
<text x="534.7" y="1391.4" font-size="18.6" fill="#141214">7.5</text>
<line x1="513.8" y1="1402.4" x2="517.0" y2="1402.4" stroke="#fff" stroke-width="1.1"/>
<line x1="526.4" y1="1402.4" x2="529.6" y2="1402.4" stroke="#fff" stroke-width="1.1"/>
<text x="534.7" y="1409.2" font-size="18.6" fill="#141214">5.0</text>
<line x1="513.8" y1="1420.7" x2="517.0" y2="1420.7" stroke="#fff" stroke-width="1.1"/>
<line x1="526.4" y1="1420.7" x2="529.6" y2="1420.7" stroke="#fff" stroke-width="1.1"/>
<text x="534.7" y="1427.5" font-size="18.6" fill="#141214">2.5</text>
<line x1="673.2" y1="1360.4" x2="673.2" y2="1518.0" stroke="#EBEBEB" stroke-width="0.9"/>
<line x1="720.0" y1="1360.4" x2="720.0" y2="1518.0" stroke="#EBEBEB" stroke-width="0.9"/>
<line x1="766.7" y1="1360.4" x2="766.7" y2="1518.0" stroke="#EBEBEB" stroke-width="0.9"/>
<line x1="813.5" y1="1360.4" x2="813.5" y2="1518.0" stroke="#EBEBEB" stroke-width="0.9"/>
<line x1="860.3" y1="1360.4" x2="860.3" y2="1518.0" stroke="#EBEBEB" stroke-width="0.9"/>
<line x1="649.8" y1="1360.4" x2="649.8" y2="1518.0" stroke="#EBEBEB" stroke-width="1.6"/>
<line x1="649.8" y1="1356.9" x2="649.8" y2="1360.4" stroke="#222" stroke-width="1.4"/>
<text x="644.6" y="1333.5" font-size="19.2" text-anchor="middle" fill="#4D4D4D" transform="rotate(90 644.6 1333.5)">0.0</text>
<line x1="696.6" y1="1360.4" x2="696.6" y2="1518.0" stroke="#EBEBEB" stroke-width="1.6"/>
<line x1="696.6" y1="1356.9" x2="696.6" y2="1360.4" stroke="#222" stroke-width="1.4"/>
<text x="691.4" y="1333.5" font-size="19.2" text-anchor="middle" fill="#4D4D4D" transform="rotate(90 691.4 1333.5)">2.5</text>
<line x1="743.3" y1="1360.4" x2="743.3" y2="1518.0" stroke="#EBEBEB" stroke-width="1.6"/>
<line x1="743.3" y1="1356.9" x2="743.3" y2="1360.4" stroke="#222" stroke-width="1.4"/>
<text x="738.1" y="1333.5" font-size="19.2" text-anchor="middle" fill="#4D4D4D" transform="rotate(90 738.1 1333.5)">5.0</text>
<line x1="790.1" y1="1360.4" x2="790.1" y2="1518.0" stroke="#EBEBEB" stroke-width="1.6"/>
<line x1="790.1" y1="1356.9" x2="790.1" y2="1360.4" stroke="#222" stroke-width="1.4"/>
<text x="784.9" y="1333.5" font-size="19.2" text-anchor="middle" fill="#4D4D4D" transform="rotate(90 784.9 1333.5)">7.5</text>
<line x1="836.9" y1="1360.4" x2="836.9" y2="1518.0" stroke="#EBEBEB" stroke-width="1.6"/>
<line x1="836.9" y1="1356.9" x2="836.9" y2="1360.4" stroke="#222" stroke-width="1.4"/>
<text x="831.7" y="1333.5" font-size="19.2" text-anchor="middle" fill="#4D4D4D" transform="rotate(90 831.7 1333.5)">10.0</text>
<line x1="883.7" y1="1360.4" x2="883.7" y2="1518.0" stroke="#EBEBEB" stroke-width="1.6"/>
<line x1="883.7" y1="1356.9" x2="883.7" y2="1360.4" stroke="#222" stroke-width="1.4"/>
<text x="878.5" y="1333.5" font-size="19.2" text-anchor="middle" fill="#4D4D4D" transform="rotate(90 878.5 1333.5)">12.5</text>
<line x1="641.8" y1="1373.5" x2="885.0" y2="1373.5" stroke="#EBEBEB" stroke-width="1.6"/>
<line x1="641.8" y1="1392.7" x2="885.0" y2="1392.7" stroke="#EBEBEB" stroke-width="1.6"/>
<line x1="641.8" y1="1411.9" x2="885.0" y2="1411.9" stroke="#EBEBEB" stroke-width="1.6"/>
<line x1="641.8" y1="1431.0" x2="885.0" y2="1431.0" stroke="#EBEBEB" stroke-width="1.6"/>
<line x1="641.8" y1="1450.2" x2="885.0" y2="1450.2" stroke="#EBEBEB" stroke-width="1.6"/>
<line x1="641.8" y1="1469.4" x2="885.0" y2="1469.4" stroke="#EBEBEB" stroke-width="1.6"/>
<line x1="641.8" y1="1488.6" x2="885.0" y2="1488.6" stroke="#EBEBEB" stroke-width="1.6"/>
<line x1="641.8" y1="1507.8" x2="885.0" y2="1507.8" stroke="#EBEBEB" stroke-width="1.6"/>
<rect x="649.8" y="1366.2" width="224.5" height="14.6" fill="#4682B4"/>
<line x1="637.4" y1="1373.5" x2="639.8" y2="1373.5" stroke="#222" stroke-width="1.4"/>
<text x="633.3" y="1381.5" font-size="19.4" text-anchor="end" fill="#4D4D4D">G9</text>
<rect x="649.8" y="1385.4" width="222.6" height="14.6" fill="#4682B4"/>
<line x1="637.4" y1="1392.7" x2="639.8" y2="1392.7" stroke="#222" stroke-width="1.4"/>
<text x="633.3" y="1400.7" font-size="19.4" text-anchor="end" fill="#4D4D4D">G1</text>
<rect x="649.8" y="1404.6" width="218.5" height="14.6" fill="#4682B4"/>
<line x1="637.4" y1="1411.9" x2="639.8" y2="1411.9" stroke="#222" stroke-width="1.4"/>
<text x="633.3" y="1419.9" font-size="19.4" text-anchor="end" fill="#4D4D4D">G15</text>
<rect x="649.8" y="1423.7" width="182.4" height="14.6" fill="#4682B4"/>
<line x1="637.4" y1="1431.0" x2="639.8" y2="1431.0" stroke="#222" stroke-width="1.4"/>
<text x="633.3" y="1439.0" font-size="19.4" text-anchor="end" fill="#4D4D4D">G7</text>
<rect x="649.8" y="1442.9" width="172.5" height="14.6" fill="#4682B4"/>
<line x1="637.4" y1="1450.2" x2="639.8" y2="1450.2" stroke="#222" stroke-width="1.4"/>
<text x="633.3" y="1458.2" font-size="19.4" text-anchor="end" fill="#4D4D4D">G10</text>
<rect x="649.8" y="1462.1" width="154.5" height="14.6" fill="#4682B4"/>
<line x1="637.4" y1="1469.4" x2="639.8" y2="1469.4" stroke="#222" stroke-width="1.4"/>
<text x="633.3" y="1477.4" font-size="19.4" text-anchor="end" fill="#4D4D4D">G13</text>
<rect x="649.8" y="1481.3" width="123.5" height="14.6" fill="#4682B4"/>
<line x1="637.4" y1="1488.6" x2="639.8" y2="1488.6" stroke="#222" stroke-width="1.4"/>
<text x="633.3" y="1496.6" font-size="19.4" text-anchor="end" fill="#4D4D4D">G5</text>
<rect x="649.8" y="1500.5" width="110.8" height="14.6" fill="#4682B4"/>
<line x1="637.4" y1="1507.8" x2="639.8" y2="1507.8" stroke="#222" stroke-width="1.4"/>
<text x="633.3" y="1515.8" font-size="19.4" text-anchor="end" fill="#4D4D4D">G14</text>
<line x1="748.2" y1="1360.4" x2="748.2" y2="1518.0" stroke="#E8202A" stroke-width="1.6" stroke-dasharray="14 13.5"/>
<text x="762.0" y="1313.4" font-size="19.2" text-anchor="middle" fill="#141214">Contributions (%) to Dim1</text>
<text x="1412.5" y="1220.8" font-size="22.4" text-anchor="middle" fill="#141214">Untreated-NMOSD</text>
<line x1="1264.6" y1="1256.9" x2="1264.6" y2="1352.5" stroke="#231F20" stroke-width="1.6"/>
<line x1="1256.6" y1="1256.9" x2="1264.6" y2="1256.9" stroke="#231F20" stroke-width="1.6"/>
<text x="1255.6" y="1263.8" font-size="19.5" text-anchor="end" fill="#141214">60</text>
<line x1="1256.6" y1="1305.6" x2="1264.6" y2="1305.6" stroke="#231F20" stroke-width="1.6"/>
<text x="1255.6" y="1312.5" font-size="19.5" text-anchor="end" fill="#141214">30</text>
<line x1="1259.2" y1="1352.0" x2="1270.0" y2="1352.0" stroke="#231F20" stroke-width="1.6"/>
<line x1="1264.6" y1="1370.0" x2="1264.6" y2="1465.3" stroke="#231F20" stroke-width="1.6"/>
<line x1="1259.2" y1="1370.0" x2="1270.0" y2="1370.0" stroke="#231F20" stroke-width="1.6"/>
<text x="1255.6" y="1376.9" font-size="19.5" text-anchor="end" fill="#141214">1.0</text>
<line x1="1256.6" y1="1418.3" x2="1264.6" y2="1418.3" stroke="#231F20" stroke-width="1.6"/>
<text x="1255.6" y="1425.2" font-size="19.5" text-anchor="end" fill="#141214">0.5</text>
<line x1="1256.6" y1="1465.3" x2="1264.6" y2="1465.3" stroke="#231F20" stroke-width="1.6"/>
<text x="1255.6" y="1472.2" font-size="19.5" text-anchor="end" fill="#141214">0.0</text>
<line x1="1264.6" y1="1465.3" x2="1578.1" y2="1465.3" stroke="#231F20" stroke-width="1.6"/>
<line x1="1264.6" y1="1465.3" x2="1264.6" y2="1473.0" stroke="#231F20" stroke-width="1.6"/>
<text x="1264.6" y="1492.5" font-size="19.5" text-anchor="middle" fill="#141214">0</text>
<line x1="1369.1" y1="1465.3" x2="1369.1" y2="1473.0" stroke="#231F20" stroke-width="1.6"/>
<text x="1369.1" y="1492.5" font-size="19.5" text-anchor="middle" fill="#141214">5</text>
<line x1="1473.6" y1="1465.3" x2="1473.6" y2="1473.0" stroke="#231F20" stroke-width="1.6"/>
<text x="1473.6" y="1492.5" font-size="19.5" text-anchor="middle" fill="#141214">10</text>
<line x1="1578.1" y1="1465.3" x2="1578.1" y2="1473.0" stroke="#231F20" stroke-width="1.6"/>
<text x="1578.1" y="1492.5" font-size="19.5" text-anchor="middle" fill="#141214">15</text>
<text x="1418.0" y="1517.5" font-size="22.5" text-anchor="middle" fill="#141214">Anti-S1 IgG level at T1-T3</text>
<text x="1181.0" y="1362.8" font-size="22.4" text-anchor="middle" fill="#141214" transform="rotate(-90 1181.0 1362.8)">Proportion at T1-T3</text>
<text x="1208.6" y="1362.8" font-size="22.4" text-anchor="middle" fill="#141214" transform="rotate(-90 1208.6 1362.8)">(% of total granulocytes)</text>
<line x1="1264.6" y1="1334.4" x2="1537.9" y2="1313.2" stroke="#A97BA2" stroke-width="1.8"/>
<line x1="1264.6" y1="1400.1" x2="1509.9" y2="1465.3" stroke="#B3ABDD" stroke-width="1.8"/>
<circle cx="1264.6" cy="1337.4" r="3.7" fill="#A97BA2"/>
<circle cx="1294.7" cy="1337.8" r="3.7" fill="#A97BA2"/>
<circle cx="1320.5" cy="1335.7" r="3.7" fill="#A97BA2"/>
<circle cx="1357.4" cy="1334.8" r="3.7" fill="#A97BA2"/>
<circle cx="1390.0" cy="1337.8" r="3.7" fill="#A97BA2"/>
<circle cx="1427.3" cy="1335.3" r="3.7" fill="#A97BA2"/>
<circle cx="1468.8" cy="1318.3" r="3.7" fill="#A97BA2"/>
<circle cx="1469.7" cy="1331.4" r="3.7" fill="#A97BA2"/>
<circle cx="1505.7" cy="1334.4" r="3.7" fill="#A97BA2"/>
<circle cx="1515.4" cy="1335.3" r="3.7" fill="#A97BA2"/>
<circle cx="1537.9" cy="1314.9" r="3.7" fill="#A97BA2"/>
<circle cx="1364.2" cy="1278.1" r="3.7" fill="#A97BA2"/>
<circle cx="1505.7" cy="1261.5" r="3.7" fill="#A97BA2"/>
<circle cx="1264.6" cy="1351.4" r="3.7" fill="#B3ABDD"/>
<circle cx="1294.7" cy="1434.8" r="3.7" fill="#B3ABDD"/>
<circle cx="1320.5" cy="1452.6" r="3.7" fill="#B3ABDD"/>
<circle cx="1357.4" cy="1441.2" r="3.7" fill="#B3ABDD"/>
<circle cx="1364.2" cy="1458.6" r="3.7" fill="#B3ABDD"/>
<circle cx="1390.0" cy="1457.7" r="3.7" fill="#B3ABDD"/>
<circle cx="1427.3" cy="1445.4" r="3.7" fill="#B3ABDD"/>
<circle cx="1468.8" cy="1457.7" r="3.7" fill="#B3ABDD"/>
<circle cx="1469.7" cy="1446.3" r="3.7" fill="#B3ABDD"/>
<circle cx="1505.7" cy="1459.0" r="3.7" fill="#B3ABDD"/>
<circle cx="1515.4" cy="1451.4" r="3.7" fill="#B3ABDD"/>
<circle cx="1537.9" cy="1463.2" r="3.7" fill="#B3ABDD"/>
<text x="1680.5" y="1272.4" font-size="19.2" text-anchor="end" fill="#A97BA2">G6* (r= 0.6264,</text>
<text x="1680.5" y="1296.1" font-size="19.2" text-anchor="end" fill="#A97BA2">P=0.0251)</text>
<text x="1696.8" y="1319.0" font-size="19.2" text-anchor="end" fill="#B3ABDD">G18* (r= -0.6923,</text>
<text x="1691.5" y="1342.4" font-size="19.2" text-anchor="end" fill="#B3ABDD">P=0.0109)</text>
<text x="452.0" y="1686.0" font-size="25.6" text-anchor="middle" fill="#141214">aCD20-MS</text>
<text x="103.1" y="1783.0" font-size="19.3" text-anchor="middle" fill="#141214">Anti-S1IgG</text>
<text x="103.1" y="1805.7" font-size="19.3" text-anchor="middle" fill="#141214">level</text>
<text x="178.7" y="1802.0" font-size="19.3" text-anchor="middle" fill="#141214">p</text>
<rect x="74.0" y="1811.8" width="57.5" height="57.6" fill="none" stroke="#BDBDBD" stroke-width="1.5"/>
<rect x="140.8" y="1811.8" width="72.1" height="57.6" fill="none" stroke="#BDBDBD" stroke-width="1.5"/>
<circle cx="102.6" cy="1840.5" r="18.0" fill="#7DB8DA"/>
<text x="102.6" y="1847.5" font-size="19.2" text-anchor="middle" fill="#141214">-0.43</text>
<text x="176.8" y="1847.5" font-size="19.2" text-anchor="middle" fill="#141214">0.0018</text>
<text x="63.5" y="1847.5" font-size="19.2" text-anchor="end" fill="#141214">G1</text>
<rect x="74.0" y="1870.8" width="57.5" height="57.6" fill="none" stroke="#BDBDBD" stroke-width="1.5"/>
<rect x="140.8" y="1870.8" width="72.1" height="57.6" fill="none" stroke="#BDBDBD" stroke-width="1.5"/>
<circle cx="102.6" cy="1899.6" r="19.0" fill="#E9836E"/>
<text x="102.6" y="1906.6" font-size="19.2" text-anchor="middle" fill="#141214">0.47</text>
<text x="176.8" y="1906.6" font-size="19.2" text-anchor="middle" fill="#141214">0.0006</text>
<text x="63.5" y="1906.6" font-size="19.2" text-anchor="end" fill="#141214">G7</text>
<rect x="74.0" y="1930.0" width="57.5" height="57.6" fill="none" stroke="#BDBDBD" stroke-width="1.5"/>
<rect x="140.8" y="1930.0" width="72.1" height="57.6" fill="none" stroke="#BDBDBD" stroke-width="1.5"/>
<circle cx="102.6" cy="1958.8" r="18.0" fill="#82BCDC"/>
<text x="102.6" y="1965.8" font-size="19.2" text-anchor="middle" fill="#141214">-0.41</text>
<text x="176.8" y="1965.8" font-size="19.2" text-anchor="middle" fill="#141214">0.0033</text>
<text x="63.5" y="1965.8" font-size="19.2" text-anchor="end" fill="#141214">G9</text>
<rect x="74.0" y="1989.0" width="57.5" height="57.6" fill="none" stroke="#BDBDBD" stroke-width="1.5"/>
<rect x="140.8" y="1989.0" width="72.1" height="57.6" fill="none" stroke="#BDBDBD" stroke-width="1.5"/>
<circle cx="102.6" cy="2017.8" r="19.0" fill="#E8856F"/>
<text x="102.6" y="2024.8" font-size="19.2" text-anchor="middle" fill="#141214">-0.47</text>
<text x="176.8" y="2024.8" font-size="19.2" text-anchor="middle" fill="#141214">0.0005</text>
<text x="63.5" y="2024.8" font-size="19.2" text-anchor="end" fill="#141214">G10</text>
<rect x="74.0" y="2048.2" width="57.5" height="57.6" fill="none" stroke="#BDBDBD" stroke-width="1.5"/>
<rect x="140.8" y="2048.2" width="72.1" height="57.6" fill="none" stroke="#BDBDBD" stroke-width="1.5"/>
<circle cx="102.6" cy="2077.0" r="15.2" fill="#A1CDE3"/>
<text x="102.6" y="2084.0" font-size="19.2" text-anchor="middle" fill="#141214">-0.30</text>
<text x="176.8" y="2084.0" font-size="19.2" text-anchor="middle" fill="#141214">0.0339</text>
<text x="63.5" y="2084.0" font-size="19.2" text-anchor="end" fill="#141214">G11</text>
<rect x="74.0" y="2107.2" width="57.5" height="57.6" fill="none" stroke="#BDBDBD" stroke-width="1.5"/>
<rect x="140.8" y="2107.2" width="72.1" height="57.6" fill="none" stroke="#BDBDBD" stroke-width="1.5"/>
<circle cx="102.6" cy="2136.1" r="18.5" fill="#72B1D6"/>
<text x="102.6" y="2143.1" font-size="19.2" text-anchor="middle" fill="#141214">-0.44</text>
<text x="176.8" y="2143.1" font-size="19.2" text-anchor="middle" fill="#141214">0.0013</text>
<text x="63.5" y="2143.1" font-size="19.2" text-anchor="end" fill="#141214">G13</text>
<rect x="74.0" y="2166.3" width="57.5" height="57.6" fill="none" stroke="#BDBDBD" stroke-width="1.5"/>
<rect x="140.8" y="2166.3" width="72.1" height="57.6" fill="none" stroke="#BDBDBD" stroke-width="1.5"/>
<circle cx="102.6" cy="2195.2" r="17.5" fill="#F3A589"/>
<text x="102.6" y="2202.2" font-size="19.2" text-anchor="middle" fill="#141214">0.39</text>
<text x="176.8" y="2202.2" font-size="19.2" text-anchor="middle" fill="#141214">0.0055</text>
<text x="63.5" y="2202.2" font-size="19.2" text-anchor="end" fill="#141214">G15</text>
<rect x="74.0" y="2225.4" width="57.5" height="57.6" fill="none" stroke="#BDBDBD" stroke-width="1.5"/>
<rect x="140.8" y="2225.4" width="72.1" height="57.6" fill="none" stroke="#BDBDBD" stroke-width="1.5"/>
<circle cx="102.6" cy="2254.2" r="17.8" fill="#84BDDB"/>
<text x="102.6" y="2261.2" font-size="19.2" text-anchor="middle" fill="#141214">-0.40</text>
<text x="176.8" y="2261.2" font-size="19.2" text-anchor="middle" fill="#141214">0.0038</text>
<text x="63.5" y="2261.2" font-size="19.2" text-anchor="end" fill="#141214">G17</text>
<text x="126.2" y="2375.4" font-size="19.25" text-anchor="middle" fill="#141214">Spearman Rank</text>
<text x="126.2" y="2399.0" font-size="19.25" text-anchor="middle" fill="#141214">Correlation coefficient (r)</text>
<defs><linearGradient id="rb26" x1="0" y1="0" x2="1" y2="0"><stop offset="0" stop-color="#1A4B8C"/><stop offset="0.15" stop-color="#2F6FB0"/><stop offset="0.32" stop-color="#70AED3"/><stop offset="0.45" stop-color="#D2E6F0"/><stop offset="0.5" stop-color="#F7F7F7"/><stop offset="0.55" stop-color="#FADBC8"/><stop offset="0.7" stop-color="#F0A080"/><stop offset="0.85" stop-color="#C7343C"/><stop offset="1" stop-color="#6A0F22"/></linearGradient></defs>
<rect x="26.3" y="2407.2" width="187.1" height="8.1" fill="url(#rb26)" stroke="#111" stroke-width="1.1"/>
<line x1="26.3" y1="2415.3" x2="26.3" y2="2417.5" stroke="#222" stroke-width="1"/>
<line x1="45.0" y1="2415.3" x2="45.0" y2="2417.5" stroke="#222" stroke-width="1"/>
<line x1="63.7" y1="2415.3" x2="63.7" y2="2417.5" stroke="#222" stroke-width="1"/>
<line x1="82.4" y1="2415.3" x2="82.4" y2="2417.5" stroke="#222" stroke-width="1"/>
<line x1="101.1" y1="2415.3" x2="101.1" y2="2417.5" stroke="#222" stroke-width="1"/>
<line x1="119.8" y1="2415.3" x2="119.8" y2="2417.5" stroke="#222" stroke-width="1"/>
<line x1="138.6" y1="2415.3" x2="138.6" y2="2417.5" stroke="#222" stroke-width="1"/>
<line x1="157.3" y1="2415.3" x2="157.3" y2="2417.5" stroke="#222" stroke-width="1"/>
<line x1="176.0" y1="2415.3" x2="176.0" y2="2417.5" stroke="#222" stroke-width="1"/>
<line x1="194.7" y1="2415.3" x2="194.7" y2="2417.5" stroke="#222" stroke-width="1"/>
<line x1="213.4" y1="2415.3" x2="213.4" y2="2417.5" stroke="#222" stroke-width="1"/>
<text x="24.5" y="2435.3" font-size="19.2" text-anchor="middle" fill="#141214">−1</text>
<text x="119.5" y="2435.3" font-size="19.2" text-anchor="middle" fill="#141214">0</text>
<text x="211.5" y="2435.3" font-size="19.2" text-anchor="middle" fill="#141214">1</text>
<line x1="318.7" y1="2024.0" x2="318.7" y2="1726.0" stroke="#231F20" stroke-width="1.6"/>
<line x1="311.7" y1="2023.2" x2="318.7" y2="2023.2" stroke="#231F20" stroke-width="1.6"/>
<text x="310.5" y="2030.1" font-size="19.5" text-anchor="end" fill="#231F20">0</text>
<line x1="311.7" y1="1948.9" x2="318.7" y2="1948.9" stroke="#231F20" stroke-width="1.6"/>
<text x="310.5" y="1955.8" font-size="19.5" text-anchor="end" fill="#231F20">6</text>
<line x1="311.7" y1="1874.6" x2="318.7" y2="1874.6" stroke="#231F20" stroke-width="1.6"/>
<text x="310.5" y="1881.5" font-size="19.5" text-anchor="end" fill="#231F20">12</text>
<line x1="311.7" y1="1800.3" x2="318.7" y2="1800.3" stroke="#231F20" stroke-width="1.6"/>
<text x="310.5" y="1807.2" font-size="19.5" text-anchor="end" fill="#231F20">18</text>
<line x1="311.7" y1="1726.0" x2="318.7" y2="1726.0" stroke="#231F20" stroke-width="1.6"/>
<text x="310.5" y="1732.9" font-size="19.5" text-anchor="end" fill="#231F20">24</text>
<line x1="318.7" y1="2023.2" x2="868.0" y2="2023.2" stroke="#231F20" stroke-width="1.6"/>
<line x1="367.0" y1="2023.2" x2="367.0" y2="2033.2" stroke="#231F20" stroke-width="1.6"/>
<text x="375.0" y="2048.2" font-size="19.2" text-anchor="end" fill="#231F20" transform="rotate(-45 375.0 2048.2)">G1</text>
<line x1="479.7" y1="2023.2" x2="479.7" y2="2033.2" stroke="#231F20" stroke-width="1.6"/>
<text x="487.7" y="2048.2" font-size="19.2" text-anchor="end" fill="#231F20" transform="rotate(-45 487.7 2048.2)">G9</text>
<line x1="592.4" y1="2023.2" x2="592.4" y2="2033.2" stroke="#231F20" stroke-width="1.6"/>
<text x="600.4" y="2048.2" font-size="19.2" text-anchor="end" fill="#231F20" transform="rotate(-45 600.4 2048.2)">G11</text>
<line x1="705.1" y1="2023.2" x2="705.1" y2="2033.2" stroke="#231F20" stroke-width="1.6"/>
<text x="713.1" y="2048.2" font-size="19.2" text-anchor="end" fill="#231F20" transform="rotate(-45 713.1 2048.2)">G13</text>
<line x1="817.8" y1="2023.2" x2="817.8" y2="2033.2" stroke="#231F20" stroke-width="1.6"/>
<text x="825.8" y="2048.2" font-size="19.2" text-anchor="end" fill="#231F20" transform="rotate(-45 825.8 2048.2)">G17</text>
<line x1="345.7" y1="1983.6" x2="345.7" y2="1998.4" stroke="#0F4C8A" stroke-width="1.6"/>
<line x1="338.3" y1="1983.6" x2="353.1" y2="1983.6" stroke="#0F4C8A" stroke-width="1.6"/>
<line x1="345.7" y1="2023.2" x2="345.7" y2="2020.1" stroke="#0F4C8A" stroke-width="1.6"/>
<line x1="338.3" y1="2023.2" x2="353.1" y2="2023.2" stroke="#0F4C8A" stroke-width="1.6"/>
<rect x="332.2" y="1998.4" width="27.0" height="21.7" fill="none" stroke="#0F4C8A" stroke-width="1.6"/>
<line x1="332.2" y1="2013.3" x2="359.2" y2="2013.3" stroke="#0F4C8A" stroke-width="1.6"/>
<circle cx="345.7" cy="2023.2" r="3.6" fill="#0F4C8A"/>
<circle cx="352.5" cy="2022.6" r="3.6" fill="#0F4C8A"/>
<circle cx="338.9" cy="2022.0" r="3.6" fill="#0F4C8A"/>
<circle cx="359.4" cy="2021.5" r="3.6" fill="#0F4C8A"/>
<circle cx="332.0" cy="2021.1" r="3.6" fill="#0F4C8A"/>
<circle cx="345.7" cy="2020.7" r="3.6" fill="#0F4C8A"/>
<circle cx="345.7" cy="2020.4" r="3.6" fill="#0F4C8A"/>
<circle cx="345.7" cy="2020.3" r="3.6" fill="#0F4C8A"/>
<circle cx="345.7" cy="2020.1" r="3.6" fill="#0F4C8A"/>
<circle cx="345.7" cy="2020.1" r="3.6" fill="#0F4C8A"/>
<circle cx="345.7" cy="2019.3" r="3.6" fill="#0F4C8A"/>
<circle cx="345.7" cy="2018.6" r="3.6" fill="#0F4C8A"/>
<circle cx="345.7" cy="2017.8" r="3.6" fill="#0F4C8A"/>
<circle cx="345.7" cy="2017.1" r="3.6" fill="#0F4C8A"/>
<circle cx="345.7" cy="2016.3" r="3.6" fill="#0F4C8A"/>
<circle cx="352.5" cy="2015.6" r="3.6" fill="#0F4C8A"/>
<circle cx="338.9" cy="2014.8" r="3.6" fill="#0F4C8A"/>
<circle cx="359.4" cy="2014.1" r="3.6" fill="#0F4C8A"/>
<circle cx="332.0" cy="2013.3" r="3.6" fill="#0F4C8A"/>
<circle cx="345.7" cy="2011.6" r="3.6" fill="#0F4C8A"/>
<circle cx="345.7" cy="2010.0" r="3.6" fill="#0F4C8A"/>
<circle cx="345.7" cy="2008.3" r="3.6" fill="#0F4C8A"/>
<circle cx="352.5" cy="2006.7" r="3.6" fill="#0F4C8A"/>
<circle cx="338.9" cy="2005.0" r="3.6" fill="#0F4C8A"/>
<circle cx="359.4" cy="2003.4" r="3.6" fill="#0F4C8A"/>
<circle cx="332.0" cy="2001.7" r="3.6" fill="#0F4C8A"/>
<circle cx="345.7" cy="2000.1" r="3.6" fill="#0F4C8A"/>
<circle cx="352.5" cy="1998.4" r="3.6" fill="#0F4C8A"/>
<circle cx="338.9" cy="1998.4" r="3.6" fill="#0F4C8A"/>
<circle cx="345.7" cy="1998.0" r="3.6" fill="#0F4C8A"/>
<circle cx="345.7" cy="1997.4" r="3.6" fill="#0F4C8A"/>
<circle cx="359.4" cy="1996.3" r="3.6" fill="#0F4C8A"/>
<circle cx="332.0" cy="1994.8" r="3.6" fill="#0F4C8A"/>
<circle cx="345.7" cy="1992.8" r="3.6" fill="#0F4C8A"/>
<circle cx="352.5" cy="1990.3" r="3.6" fill="#0F4C8A"/>
<circle cx="338.9" cy="1987.2" r="3.6" fill="#0F4C8A"/>
<circle cx="345.7" cy="1983.6" r="3.6" fill="#0F4C8A"/>
<line x1="388.3" y1="1993.5" x2="388.3" y2="2012.1" stroke="#E8333A" stroke-width="1.6"/>
<line x1="380.9" y1="1993.5" x2="395.7" y2="1993.5" stroke="#E8333A" stroke-width="1.6"/>
<line x1="388.3" y1="2023.2" x2="388.3" y2="2020.7" stroke="#E8333A" stroke-width="1.6"/>
<line x1="380.9" y1="2023.2" x2="395.7" y2="2023.2" stroke="#E8333A" stroke-width="1.6"/>
<rect x="374.8" y="2012.1" width="27.0" height="8.7" fill="none" stroke="#E8333A" stroke-width="1.6"/>
<line x1="374.8" y1="2017.0" x2="401.8" y2="2017.0" stroke="#E8333A" stroke-width="1.6"/>
<circle cx="388.3" cy="2023.2" r="3.6" fill="#E8333A"/>
<circle cx="395.1" cy="2021.8" r="3.6" fill="#E8333A"/>
<circle cx="381.5" cy="2021.0" r="3.6" fill="#E8333A"/>
<circle cx="402.0" cy="2020.7" r="3.6" fill="#E8333A"/>
<circle cx="374.6" cy="2019.5" r="3.6" fill="#E8333A"/>
<circle cx="388.3" cy="2018.2" r="3.6" fill="#E8333A"/>
<circle cx="388.3" cy="2017.0" r="3.6" fill="#E8333A"/>
<circle cx="388.3" cy="2015.4" r="3.6" fill="#E8333A"/>
<circle cx="395.1" cy="2013.7" r="3.6" fill="#E8333A"/>
<circle cx="381.5" cy="2012.1" r="3.6" fill="#E8333A"/>
<circle cx="402.0" cy="2010.7" r="3.6" fill="#E8333A"/>
<circle cx="388.3" cy="2005.0" r="3.6" fill="#E8333A"/>
<circle cx="388.3" cy="1993.5" r="3.6" fill="#E8333A"/>
<line x1="458.4" y1="1747.1" x2="458.4" y2="1883.3" stroke="#0F4C8A" stroke-width="1.6"/>
<line x1="451.0" y1="1747.1" x2="465.8" y2="1747.1" stroke="#0F4C8A" stroke-width="1.6"/>
<line x1="458.4" y1="2010.8" x2="458.4" y2="1982.3" stroke="#0F4C8A" stroke-width="1.6"/>
<line x1="451.0" y1="2010.8" x2="465.8" y2="2010.8" stroke="#0F4C8A" stroke-width="1.6"/>
<rect x="444.9" y="1883.3" width="27.0" height="99.1" fill="none" stroke="#0F4C8A" stroke-width="1.6"/>
<line x1="444.9" y1="1927.9" x2="471.9" y2="1927.9" stroke="#0F4C8A" stroke-width="1.6"/>
<circle cx="458.4" cy="2010.8" r="3.6" fill="#0F4C8A"/>
<circle cx="461.8" cy="2004.8" r="3.6" fill="#0F4C8A"/>
<circle cx="455.0" cy="1999.6" r="3.6" fill="#0F4C8A"/>
<circle cx="461.8" cy="1995.0" r="3.6" fill="#0F4C8A"/>
<circle cx="455.0" cy="1991.1" r="3.6" fill="#0F4C8A"/>
<circle cx="461.8" cy="1988.0" r="3.6" fill="#0F4C8A"/>
<circle cx="468.7" cy="1985.5" r="3.6" fill="#0F4C8A"/>
<circle cx="455.0" cy="1983.7" r="3.6" fill="#0F4C8A"/>
<circle cx="448.1" cy="1982.7" r="3.6" fill="#0F4C8A"/>
<circle cx="475.5" cy="1982.3" r="3.6" fill="#0F4C8A"/>
<circle cx="458.4" cy="1976.3" r="3.6" fill="#0F4C8A"/>
<circle cx="461.8" cy="1970.2" r="3.6" fill="#0F4C8A"/>
<circle cx="458.4" cy="1964.2" r="3.6" fill="#0F4C8A"/>
<circle cx="461.8" cy="1958.1" r="3.6" fill="#0F4C8A"/>
<circle cx="458.4" cy="1952.1" r="3.6" fill="#0F4C8A"/>
<circle cx="461.8" cy="1946.0" r="3.6" fill="#0F4C8A"/>
<circle cx="458.4" cy="1940.0" r="3.6" fill="#0F4C8A"/>
<circle cx="461.8" cy="1933.9" r="3.6" fill="#0F4C8A"/>
<circle cx="458.4" cy="1927.9" r="3.6" fill="#0F4C8A"/>
<circle cx="465.2" cy="1922.9" r="3.6" fill="#0F4C8A"/>
<circle cx="458.4" cy="1917.9" r="3.6" fill="#0F4C8A"/>
<circle cx="465.2" cy="1913.0" r="3.6" fill="#0F4C8A"/>
<circle cx="458.4" cy="1908.0" r="3.6" fill="#0F4C8A"/>
<circle cx="465.2" cy="1903.1" r="3.6" fill="#0F4C8A"/>
<circle cx="458.4" cy="1898.1" r="3.6" fill="#0F4C8A"/>
<circle cx="465.2" cy="1893.2" r="3.6" fill="#0F4C8A"/>
<circle cx="458.4" cy="1888.2" r="3.6" fill="#0F4C8A"/>
<circle cx="465.2" cy="1883.3" r="3.6" fill="#0F4C8A"/>
<circle cx="451.6" cy="1882.6" r="3.6" fill="#0F4C8A"/>
<circle cx="458.4" cy="1879.6" r="3.6" fill="#0F4C8A"/>
<circle cx="461.8" cy="1873.5" r="3.6" fill="#0F4C8A"/>
<circle cx="458.4" cy="1863.8" r="3.6" fill="#0F4C8A"/>
<circle cx="458.4" cy="1850.0" r="3.6" fill="#0F4C8A"/>
<circle cx="458.4" cy="1831.8" r="3.6" fill="#0F4C8A"/>
<circle cx="458.4" cy="1808.8" r="3.6" fill="#0F4C8A"/>
<circle cx="458.4" cy="1780.6" r="3.6" fill="#0F4C8A"/>
<circle cx="458.4" cy="1747.1" r="3.6" fill="#0F4C8A"/>
<line x1="501.0" y1="1802.8" x2="501.0" y2="1950.1" stroke="#E8333A" stroke-width="1.6"/>
<line x1="493.6" y1="1802.8" x2="508.4" y2="1802.8" stroke="#E8333A" stroke-width="1.6"/>
<line x1="501.0" y1="2023.2" x2="501.0" y2="2017.0" stroke="#E8333A" stroke-width="1.6"/>
<line x1="493.6" y1="2023.2" x2="508.4" y2="2023.2" stroke="#E8333A" stroke-width="1.6"/>
<rect x="487.5" y="1950.1" width="27.0" height="66.9" fill="none" stroke="#E8333A" stroke-width="1.6"/>
<line x1="487.5" y1="1993.5" x2="514.5" y2="1993.5" stroke="#E8333A" stroke-width="1.6"/>
<circle cx="501.0" cy="2023.2" r="3.6" fill="#E8333A"/>
<circle cx="507.8" cy="2019.8" r="3.6" fill="#E8333A"/>
<circle cx="494.2" cy="2017.7" r="3.6" fill="#E8333A"/>
<circle cx="514.7" cy="2017.0" r="3.6" fill="#E8333A"/>
<circle cx="501.0" cy="2009.2" r="3.6" fill="#E8333A"/>
<circle cx="501.0" cy="2001.3" r="3.6" fill="#E8333A"/>
<circle cx="501.0" cy="1993.5" r="3.6" fill="#E8333A"/>
<circle cx="501.0" cy="1979.0" r="3.6" fill="#E8333A"/>
<circle cx="501.0" cy="1964.6" r="3.6" fill="#E8333A"/>
<circle cx="501.0" cy="1950.1" r="3.6" fill="#E8333A"/>
<circle cx="501.0" cy="1939.6" r="3.6" fill="#E8333A"/>
<circle cx="501.0" cy="1894.5" r="3.6" fill="#E8333A"/>
<circle cx="501.0" cy="1802.8" r="3.6" fill="#E8333A"/>
<line x1="571.1" y1="1817.6" x2="571.1" y2="1910.5" stroke="#0F4C8A" stroke-width="1.6"/>
<line x1="563.7" y1="1817.6" x2="578.5" y2="1817.6" stroke="#0F4C8A" stroke-width="1.6"/>
<line x1="571.1" y1="2022.0" x2="571.1" y2="1991.0" stroke="#0F4C8A" stroke-width="1.6"/>
<line x1="563.7" y1="2022.0" x2="578.5" y2="2022.0" stroke="#0F4C8A" stroke-width="1.6"/>
<rect x="557.6" y="1910.5" width="27.0" height="80.5" fill="none" stroke="#0F4C8A" stroke-width="1.6"/>
<line x1="557.6" y1="1963.8" x2="584.6" y2="1963.8" stroke="#0F4C8A" stroke-width="1.6"/>
<circle cx="571.1" cy="2022.0" r="3.6" fill="#0F4C8A"/>
<circle cx="574.5" cy="2015.5" r="3.6" fill="#0F4C8A"/>
<circle cx="571.1" cy="2009.7" r="3.6" fill="#0F4C8A"/>
<circle cx="577.9" cy="2004.8" r="3.6" fill="#0F4C8A"/>
<circle cx="571.1" cy="2000.6" r="3.6" fill="#0F4C8A"/>
<circle cx="577.9" cy="1997.1" r="3.6" fill="#0F4C8A"/>
<circle cx="567.7" cy="1994.4" r="3.6" fill="#0F4C8A"/>
<circle cx="560.8" cy="1992.5" r="3.6" fill="#0F4C8A"/>
<circle cx="574.5" cy="1991.4" r="3.6" fill="#0F4C8A"/>
<circle cx="581.4" cy="1991.0" r="3.6" fill="#0F4C8A"/>
<circle cx="588.2" cy="1988.0" r="3.6" fill="#0F4C8A"/>
<circle cx="571.1" cy="1985.0" r="3.6" fill="#0F4C8A"/>
<circle cx="577.9" cy="1981.9" r="3.6" fill="#0F4C8A"/>
<circle cx="567.7" cy="1978.9" r="3.6" fill="#0F4C8A"/>
<circle cx="574.5" cy="1975.9" r="3.6" fill="#0F4C8A"/>
<circle cx="564.3" cy="1972.8" r="3.6" fill="#0F4C8A"/>
<circle cx="571.1" cy="1969.8" r="3.6" fill="#0F4C8A"/>
<circle cx="577.9" cy="1966.8" r="3.6" fill="#0F4C8A"/>
<circle cx="567.7" cy="1963.8" r="3.6" fill="#0F4C8A"/>
<circle cx="571.1" cy="1957.8" r="3.6" fill="#0F4C8A"/>
<circle cx="574.5" cy="1951.9" r="3.6" fill="#0F4C8A"/>
<circle cx="571.1" cy="1946.0" r="3.6" fill="#0F4C8A"/>
<circle cx="574.5" cy="1940.1" r="3.6" fill="#0F4C8A"/>
<circle cx="571.1" cy="1934.2" r="3.6" fill="#0F4C8A"/>
<circle cx="574.5" cy="1928.3" r="3.6" fill="#0F4C8A"/>
<circle cx="571.1" cy="1922.3" r="3.6" fill="#0F4C8A"/>
<circle cx="574.5" cy="1916.4" r="3.6" fill="#0F4C8A"/>
<circle cx="571.1" cy="1910.5" r="3.6" fill="#0F4C8A"/>
<circle cx="577.9" cy="1910.0" r="3.6" fill="#0F4C8A"/>
<circle cx="564.3" cy="1908.0" r="3.6" fill="#0F4C8A"/>
<circle cx="571.1" cy="1903.9" r="3.6" fill="#0F4C8A"/>
<circle cx="574.5" cy="1897.3" r="3.6" fill="#0F4C8A"/>
<circle cx="571.1" cy="1887.9" r="3.6" fill="#0F4C8A"/>
<circle cx="571.1" cy="1875.4" r="3.6" fill="#0F4C8A"/>
<circle cx="571.1" cy="1859.7" r="3.6" fill="#0F4C8A"/>
<circle cx="571.1" cy="1840.5" r="3.6" fill="#0F4C8A"/>
<circle cx="571.1" cy="1817.6" r="3.6" fill="#0F4C8A"/>
<line x1="613.7" y1="1839.9" x2="613.7" y2="1972.4" stroke="#E8333A" stroke-width="1.6"/>
<line x1="606.3" y1="1839.9" x2="621.1" y2="1839.9" stroke="#E8333A" stroke-width="1.6"/>
<line x1="613.7" y1="2014.5" x2="613.7" y2="2003.4" stroke="#E8333A" stroke-width="1.6"/>
<line x1="606.3" y1="2014.5" x2="621.1" y2="2014.5" stroke="#E8333A" stroke-width="1.6"/>
<rect x="600.2" y="1972.4" width="27.0" height="31.0" fill="none" stroke="#E8333A" stroke-width="1.6"/>
<line x1="600.2" y1="1984.8" x2="627.2" y2="1984.8" stroke="#E8333A" stroke-width="1.6"/>
<circle cx="613.7" cy="2014.5" r="3.6" fill="#E8333A"/>
<circle cx="617.1" cy="2008.3" r="3.6" fill="#E8333A"/>
<circle cx="610.3" cy="2004.6" r="3.6" fill="#E8333A"/>
<circle cx="624.0" cy="2003.4" r="3.6" fill="#E8333A"/>
<circle cx="613.7" cy="1997.2" r="3.6" fill="#E8333A"/>
<circle cx="617.1" cy="1991.0" r="3.6" fill="#E8333A"/>
<circle cx="613.7" cy="1984.8" r="3.6" fill="#E8333A"/>
<circle cx="620.5" cy="1980.7" r="3.6" fill="#E8333A"/>
<circle cx="613.7" cy="1976.6" r="3.6" fill="#E8333A"/>
<circle cx="620.5" cy="1972.4" r="3.6" fill="#E8333A"/>
<circle cx="613.7" cy="1962.9" r="3.6" fill="#E8333A"/>
<circle cx="613.7" cy="1922.4" r="3.6" fill="#E8333A"/>
<circle cx="613.7" cy="1839.9" r="3.6" fill="#E8333A"/>
<line x1="683.8" y1="1967.5" x2="683.8" y2="1996.0" stroke="#0F4C8A" stroke-width="1.6"/>
<line x1="676.4" y1="1967.5" x2="691.2" y2="1967.5" stroke="#0F4C8A" stroke-width="1.6"/>
<line x1="683.8" y1="2023.2" x2="683.8" y2="2023.0" stroke="#0F4C8A" stroke-width="1.6"/>
<line x1="676.4" y1="2023.2" x2="691.2" y2="2023.2" stroke="#0F4C8A" stroke-width="1.6"/>
<rect x="670.3" y="1996.0" width="27.0" height="27.0" fill="none" stroke="#0F4C8A" stroke-width="1.6"/>
<line x1="670.3" y1="2015.8" x2="697.3" y2="2015.8" stroke="#0F4C8A" stroke-width="1.6"/>
<circle cx="683.8" cy="2023.2" r="3.6" fill="#0F4C8A"/>
<circle cx="690.6" cy="2023.1" r="3.6" fill="#0F4C8A"/>
<circle cx="677.0" cy="2023.1" r="3.6" fill="#0F4C8A"/>
<circle cx="697.5" cy="2023.1" r="3.6" fill="#0F4C8A"/>
<circle cx="670.1" cy="2023.0" r="3.6" fill="#0F4C8A"/>
<circle cx="683.8" cy="2023.0" r="3.6" fill="#0F4C8A"/>
<circle cx="683.8" cy="2023.0" r="3.6" fill="#0F4C8A"/>
<circle cx="683.8" cy="2023.0" r="3.6" fill="#0F4C8A"/>
<circle cx="683.8" cy="2023.0" r="3.6" fill="#0F4C8A"/>
<circle cx="683.8" cy="2023.0" r="3.6" fill="#0F4C8A"/>
<circle cx="683.8" cy="2022.2" r="3.6" fill="#0F4C8A"/>
<circle cx="683.8" cy="2021.4" r="3.6" fill="#0F4C8A"/>
<circle cx="683.8" cy="2020.6" r="3.6" fill="#0F4C8A"/>
<circle cx="683.8" cy="2019.8" r="3.6" fill="#0F4C8A"/>
<circle cx="683.8" cy="2019.0" r="3.6" fill="#0F4C8A"/>
<circle cx="683.8" cy="2018.2" r="3.6" fill="#0F4C8A"/>
<circle cx="687.2" cy="2017.4" r="3.6" fill="#0F4C8A"/>
<circle cx="680.4" cy="2016.6" r="3.6" fill="#0F4C8A"/>
<circle cx="694.1" cy="2015.8" r="3.6" fill="#0F4C8A"/>
<circle cx="673.5" cy="2013.6" r="3.6" fill="#0F4C8A"/>
<circle cx="683.8" cy="2011.4" r="3.6" fill="#0F4C8A"/>
<circle cx="683.8" cy="2009.2" r="3.6" fill="#0F4C8A"/>
<circle cx="690.6" cy="2007.0" r="3.6" fill="#0F4C8A"/>
<circle cx="677.0" cy="2004.8" r="3.6" fill="#0F4C8A"/>
<circle cx="697.5" cy="2002.6" r="3.6" fill="#0F4C8A"/>
<circle cx="683.8" cy="2000.4" r="3.6" fill="#0F4C8A"/>
<circle cx="690.6" cy="1998.2" r="3.6" fill="#0F4C8A"/>
<circle cx="677.0" cy="1996.0" r="3.6" fill="#0F4C8A"/>
<circle cx="697.5" cy="1995.8" r="3.6" fill="#0F4C8A"/>
<circle cx="670.1" cy="1995.2" r="3.6" fill="#0F4C8A"/>
<circle cx="683.8" cy="1993.9" r="3.6" fill="#0F4C8A"/>
<circle cx="683.8" cy="1991.9" r="3.6" fill="#0F4C8A"/>
<circle cx="690.6" cy="1989.0" r="3.6" fill="#0F4C8A"/>
<circle cx="683.8" cy="1985.2" r="3.6" fill="#0F4C8A"/>
<circle cx="690.6" cy="1980.4" r="3.6" fill="#0F4C8A"/>
<circle cx="683.8" cy="1974.5" r="3.6" fill="#0F4C8A"/>
<circle cx="683.8" cy="1967.5" r="3.6" fill="#0F4C8A"/>
<line x1="726.4" y1="1976.1" x2="726.4" y2="2022.0" stroke="#E8333A" stroke-width="1.6"/>
<line x1="719.0" y1="1976.1" x2="733.8" y2="1976.1" stroke="#E8333A" stroke-width="1.6"/>
<line x1="726.4" y1="2023.2" x2="726.4" y2="2023.2" stroke="#E8333A" stroke-width="1.6"/>
<line x1="719.0" y1="2023.2" x2="733.8" y2="2023.2" stroke="#E8333A" stroke-width="1.6"/>
<rect x="712.9" y="2022.0" width="27.0" height="1.2" fill="none" stroke="#E8333A" stroke-width="1.6"/>
<line x1="712.9" y1="2023.0" x2="739.9" y2="2023.0" stroke="#E8333A" stroke-width="1.6"/>
<circle cx="726.4" cy="2023.2" r="3.6" fill="#E8333A"/>
<circle cx="733.2" cy="2023.2" r="3.6" fill="#E8333A"/>
<circle cx="719.6" cy="2023.2" r="3.6" fill="#E8333A"/>
<circle cx="740.1" cy="2023.2" r="3.6" fill="#E8333A"/>
<circle cx="712.7" cy="2023.1" r="3.6" fill="#E8333A"/>
<circle cx="726.4" cy="2023.0" r="3.6" fill="#E8333A"/>
<circle cx="726.4" cy="2023.0" r="3.6" fill="#E8333A"/>
<circle cx="726.4" cy="2022.6" r="3.6" fill="#E8333A"/>
<circle cx="726.4" cy="2022.3" r="3.6" fill="#E8333A"/>
<circle cx="726.4" cy="2022.0" r="3.6" fill="#E8333A"/>
<circle cx="726.4" cy="2018.7" r="3.6" fill="#E8333A"/>
<circle cx="726.4" cy="2004.6" r="3.6" fill="#E8333A"/>
<circle cx="726.4" cy="1976.1" r="3.6" fill="#E8333A"/>
<line x1="796.5" y1="1807.7" x2="796.5" y2="1911.8" stroke="#0F4C8A" stroke-width="1.6"/>
<line x1="789.1" y1="1807.7" x2="803.9" y2="1807.7" stroke="#0F4C8A" stroke-width="1.6"/>
<line x1="796.5" y1="2017.0" x2="796.5" y2="1991.0" stroke="#0F4C8A" stroke-width="1.6"/>
<line x1="789.1" y1="2017.0" x2="803.9" y2="2017.0" stroke="#0F4C8A" stroke-width="1.6"/>
<rect x="783.0" y="1911.8" width="27.0" height="79.3" fill="none" stroke="#0F4C8A" stroke-width="1.6"/>
<line x1="783.0" y1="1953.9" x2="810.0" y2="1953.9" stroke="#0F4C8A" stroke-width="1.6"/>
<circle cx="796.5" cy="2017.0" r="3.6" fill="#0F4C8A"/>
<circle cx="803.3" cy="2011.6" r="3.6" fill="#0F4C8A"/>
<circle cx="796.5" cy="2006.7" r="3.6" fill="#0F4C8A"/>
<circle cx="803.3" cy="2002.6" r="3.6" fill="#0F4C8A"/>
<circle cx="796.5" cy="1999.0" r="3.6" fill="#0F4C8A"/>
<circle cx="789.7" cy="1996.1" r="3.6" fill="#0F4C8A"/>
<circle cx="803.3" cy="1993.9" r="3.6" fill="#0F4C8A"/>
<circle cx="796.5" cy="1992.3" r="3.6" fill="#0F4C8A"/>
<circle cx="810.2" cy="1991.3" r="3.6" fill="#0F4C8A"/>
<circle cx="782.8" cy="1991.0" r="3.6" fill="#0F4C8A"/>
<circle cx="803.3" cy="1986.9" r="3.6" fill="#0F4C8A"/>
<circle cx="796.5" cy="1982.7" r="3.6" fill="#0F4C8A"/>
<circle cx="803.3" cy="1978.6" r="3.6" fill="#0F4C8A"/>
<circle cx="796.5" cy="1974.5" r="3.6" fill="#0F4C8A"/>
<circle cx="803.3" cy="1970.4" r="3.6" fill="#0F4C8A"/>
<circle cx="796.5" cy="1966.2" r="3.6" fill="#0F4C8A"/>
<circle cx="803.3" cy="1962.1" r="3.6" fill="#0F4C8A"/>
<circle cx="796.5" cy="1958.0" r="3.6" fill="#0F4C8A"/>
<circle cx="803.3" cy="1953.9" r="3.6" fill="#0F4C8A"/>
<circle cx="796.5" cy="1949.2" r="3.6" fill="#0F4C8A"/>
<circle cx="803.3" cy="1944.5" r="3.6" fill="#0F4C8A"/>
<circle cx="796.5" cy="1939.8" r="3.6" fill="#0F4C8A"/>
<circle cx="803.3" cy="1935.1" r="3.6" fill="#0F4C8A"/>
<circle cx="796.5" cy="1930.5" r="3.6" fill="#0F4C8A"/>
<circle cx="803.3" cy="1925.8" r="3.6" fill="#0F4C8A"/>
<circle cx="796.5" cy="1921.1" r="3.6" fill="#0F4C8A"/>
<circle cx="803.3" cy="1916.4" r="3.6" fill="#0F4C8A"/>
<circle cx="796.5" cy="1911.8" r="3.6" fill="#0F4C8A"/>
<circle cx="789.7" cy="1911.2" r="3.6" fill="#0F4C8A"/>
<circle cx="803.3" cy="1908.9" r="3.6" fill="#0F4C8A"/>
<circle cx="796.5" cy="1904.3" r="3.6" fill="#0F4C8A"/>
<circle cx="796.5" cy="1896.9" r="3.6" fill="#0F4C8A"/>
<circle cx="796.5" cy="1886.4" r="3.6" fill="#0F4C8A"/>
<circle cx="796.5" cy="1872.4" r="3.6" fill="#0F4C8A"/>
<circle cx="796.5" cy="1854.8" r="3.6" fill="#0F4C8A"/>
<circle cx="796.5" cy="1833.3" r="3.6" fill="#0F4C8A"/>
<circle cx="796.5" cy="1807.7" r="3.6" fill="#0F4C8A"/>
<line x1="839.1" y1="1797.8" x2="839.1" y2="1960.0" stroke="#E8333A" stroke-width="1.6"/>
<line x1="831.7" y1="1797.8" x2="846.5" y2="1797.8" stroke="#E8333A" stroke-width="1.6"/>
<line x1="839.1" y1="2020.7" x2="839.1" y2="2012.1" stroke="#E8333A" stroke-width="1.6"/>
<line x1="831.7" y1="2020.7" x2="846.5" y2="2020.7" stroke="#E8333A" stroke-width="1.6"/>
<rect x="825.6" y="1960.0" width="27.0" height="52.0" fill="none" stroke="#E8333A" stroke-width="1.6"/>
<line x1="825.6" y1="2003.4" x2="852.6" y2="2003.4" stroke="#E8333A" stroke-width="1.6"/>
<circle cx="839.1" cy="2020.7" r="3.6" fill="#E8333A"/>
<circle cx="845.9" cy="2015.9" r="3.6" fill="#E8333A"/>
<circle cx="839.1" cy="2013.0" r="3.6" fill="#E8333A"/>
<circle cx="832.3" cy="2012.1" r="3.6" fill="#E8333A"/>
<circle cx="845.9" cy="2009.2" r="3.6" fill="#E8333A"/>
<circle cx="839.1" cy="2006.3" r="3.6" fill="#E8333A"/>
<circle cx="832.3" cy="2003.4" r="3.6" fill="#E8333A"/>
<circle cx="839.1" cy="1988.9" r="3.6" fill="#E8333A"/>
<circle cx="839.1" cy="1974.5" r="3.6" fill="#E8333A"/>
<circle cx="839.1" cy="1960.0" r="3.6" fill="#E8333A"/>
<circle cx="839.1" cy="1948.4" r="3.6" fill="#E8333A"/>
<circle cx="839.1" cy="1898.7" r="3.6" fill="#E8333A"/>
<circle cx="839.1" cy="1797.8" r="3.6" fill="#E8333A"/>
<line x1="347.0" y1="1970.3" x2="388.6" y2="1970.3" stroke="#231F20" stroke-width="1.5"/>
<text x="367.8" y="1965.3" font-size="19.2" text-anchor="middle" fill="#141214">p=0.0029</text>
<line x1="459.5" y1="1734.3" x2="500.5" y2="1734.3" stroke="#231F20" stroke-width="1.5"/>
<text x="480.0" y="1729.3" font-size="19.2" text-anchor="middle" fill="#141214">p=0.0055</text>
<line x1="571.5" y1="1804.2" x2="613.5" y2="1804.2" stroke="#231F20" stroke-width="1.5"/>
<text x="592.5" y="1799.2" font-size="19.2" text-anchor="middle" fill="#141214">p=0.0273</text>
<line x1="684.0" y1="1956.5" x2="726.0" y2="1956.5" stroke="#231F20" stroke-width="1.5"/>
<text x="705.0" y="1951.5" font-size="19.2" text-anchor="middle" fill="#141214">p=0.0023</text>
<line x1="797.0" y1="1785.4" x2="838.5" y2="1785.4" stroke="#231F20" stroke-width="1.5"/>
<text x="817.8" y="1780.4" font-size="19.2" text-anchor="middle" fill="#141214">p=0.0063</text>
<text x="247.0" y="1901.0" font-size="22.5" text-anchor="middle" fill="#141214" transform="rotate(-90 247.0 1901.0)">Proportion at T1-T3</text>
<text x="272.4" y="1900.0" font-size="22.5" text-anchor="middle" fill="#141214" transform="rotate(-90 272.4 1900.0)">(% of total granulocytes)</text>
<line x1="318.7" y1="2393.0" x2="318.7" y2="2094.5" stroke="#231F20" stroke-width="1.6"/>
<line x1="311.7" y1="2392.2" x2="318.7" y2="2392.2" stroke="#231F20" stroke-width="1.6"/>
<text x="310.5" y="2399.1" font-size="19.5" text-anchor="end" fill="#231F20">0</text>
<line x1="311.7" y1="2317.8" x2="318.7" y2="2317.8" stroke="#231F20" stroke-width="1.6"/>
<text x="310.5" y="2324.7" font-size="19.5" text-anchor="end" fill="#231F20">6</text>
<line x1="311.7" y1="2243.4" x2="318.7" y2="2243.4" stroke="#231F20" stroke-width="1.6"/>
<text x="310.5" y="2250.3" font-size="19.5" text-anchor="end" fill="#231F20">12</text>
<line x1="311.7" y1="2168.9" x2="318.7" y2="2168.9" stroke="#231F20" stroke-width="1.6"/>
<text x="310.5" y="2175.8" font-size="19.5" text-anchor="end" fill="#231F20">18</text>
<line x1="311.7" y1="2094.5" x2="318.7" y2="2094.5" stroke="#231F20" stroke-width="1.6"/>
<text x="310.5" y="2101.4" font-size="19.5" text-anchor="end" fill="#231F20">24</text>
<line x1="318.7" y1="2392.2" x2="780.6" y2="2392.2" stroke="#231F20" stroke-width="1.6"/>
<line x1="387.7" y1="2392.2" x2="387.7" y2="2402.2" stroke="#231F20" stroke-width="1.6"/>
<text x="395.7" y="2417.2" font-size="19.2" text-anchor="end" fill="#231F20" transform="rotate(-45 395.7 2417.2)">G7</text>
<line x1="548.3" y1="2392.2" x2="548.3" y2="2402.2" stroke="#231F20" stroke-width="1.6"/>
<text x="556.3" y="2417.2" font-size="19.2" text-anchor="end" fill="#231F20" transform="rotate(-45 556.3 2417.2)">G10</text>
<line x1="708.4" y1="2392.2" x2="708.4" y2="2402.2" stroke="#231F20" stroke-width="1.6"/>
<text x="716.4" y="2417.2" font-size="19.2" text-anchor="end" fill="#231F20" transform="rotate(-45 716.4 2417.2)">G15</text>
<line x1="357.7" y1="2212.3" x2="357.7" y2="2300.4" stroke="#0F4C8A" stroke-width="1.6"/>
<line x1="346.7" y1="2212.3" x2="368.7" y2="2212.3" stroke="#0F4C8A" stroke-width="1.6"/>
<line x1="357.7" y1="2377.3" x2="357.7" y2="2363.7" stroke="#0F4C8A" stroke-width="1.6"/>
<line x1="346.7" y1="2377.3" x2="368.7" y2="2377.3" stroke="#0F4C8A" stroke-width="1.6"/>
<rect x="337.7" y="2300.4" width="40.0" height="63.3" fill="none" stroke="#0F4C8A" stroke-width="1.6"/>
<line x1="337.7" y1="2336.4" x2="377.7" y2="2336.4" stroke="#0F4C8A" stroke-width="1.6"/>
<circle cx="357.7" cy="2377.3" r="3.6" fill="#0F4C8A"/>
<circle cx="364.5" cy="2374.5" r="3.6" fill="#0F4C8A"/>
<circle cx="350.9" cy="2371.9" r="3.6" fill="#0F4C8A"/>
<circle cx="357.7" cy="2369.7" r="3.6" fill="#0F4C8A"/>
<circle cx="368.0" cy="2367.9" r="3.6" fill="#0F4C8A"/>
<circle cx="344.0" cy="2366.4" r="3.6" fill="#0F4C8A"/>
<circle cx="350.9" cy="2365.2" r="3.6" fill="#0F4C8A"/>
<circle cx="374.8" cy="2364.3" r="3.6" fill="#0F4C8A"/>
<circle cx="361.1" cy="2363.8" r="3.6" fill="#0F4C8A"/>
<circle cx="337.2" cy="2363.7" r="3.6" fill="#0F4C8A"/>
<circle cx="368.0" cy="2360.6" r="3.6" fill="#0F4C8A"/>
<circle cx="357.7" cy="2357.6" r="3.6" fill="#0F4C8A"/>
<circle cx="364.5" cy="2354.6" r="3.6" fill="#0F4C8A"/>
<circle cx="354.3" cy="2351.5" r="3.6" fill="#0F4C8A"/>
<circle cx="361.1" cy="2348.5" r="3.6" fill="#0F4C8A"/>
<circle cx="350.9" cy="2345.5" r="3.6" fill="#0F4C8A"/>
<circle cx="357.7" cy="2342.4" r="3.6" fill="#0F4C8A"/>
<circle cx="364.5" cy="2339.4" r="3.6" fill="#0F4C8A"/>
<circle cx="354.3" cy="2336.4" r="3.6" fill="#0F4C8A"/>
<circle cx="361.1" cy="2332.4" r="3.6" fill="#0F4C8A"/>
<circle cx="354.3" cy="2328.4" r="3.6" fill="#0F4C8A"/>
<circle cx="361.1" cy="2324.4" r="3.6" fill="#0F4C8A"/>
<circle cx="354.3" cy="2320.4" r="3.6" fill="#0F4C8A"/>
<circle cx="361.1" cy="2316.4" r="3.6" fill="#0F4C8A"/>
<circle cx="354.3" cy="2312.4" r="3.6" fill="#0F4C8A"/>
<circle cx="361.1" cy="2308.4" r="3.6" fill="#0F4C8A"/>
<circle cx="354.3" cy="2304.4" r="3.6" fill="#0F4C8A"/>
<circle cx="361.1" cy="2300.4" r="3.6" fill="#0F4C8A"/>
<circle cx="368.0" cy="2300.0" r="3.6" fill="#0F4C8A"/>
<circle cx="350.9" cy="2298.0" r="3.6" fill="#0F4C8A"/>
<circle cx="357.7" cy="2294.1" r="3.6" fill="#0F4C8A"/>
<circle cx="361.1" cy="2287.8" r="3.6" fill="#0F4C8A"/>
<circle cx="357.7" cy="2278.9" r="3.6" fill="#0F4C8A"/>
<circle cx="357.7" cy="2267.1" r="3.6" fill="#0F4C8A"/>
<circle cx="357.7" cy="2252.2" r="3.6" fill="#0F4C8A"/>
<circle cx="357.7" cy="2234.0" r="3.6" fill="#0F4C8A"/>
<circle cx="357.7" cy="2212.3" r="3.6" fill="#0F4C8A"/>
<line x1="418.5" y1="2167.7" x2="418.5" y2="2219.8" stroke="#E8333A" stroke-width="1.6"/>
<line x1="407.5" y1="2167.7" x2="429.5" y2="2167.7" stroke="#E8333A" stroke-width="1.6"/>
<line x1="418.5" y1="2374.8" x2="418.5" y2="2316.5" stroke="#E8333A" stroke-width="1.6"/>
<line x1="407.5" y1="2374.8" x2="429.5" y2="2374.8" stroke="#E8333A" stroke-width="1.6"/>
<rect x="398.5" y="2219.8" width="40.0" height="96.8" fill="none" stroke="#E8333A" stroke-width="1.6"/>
<line x1="398.5" y1="2249.6" x2="438.5" y2="2249.6" stroke="#E8333A" stroke-width="1.6"/>
<circle cx="418.5" cy="2374.8" r="3.6" fill="#E8333A"/>
<circle cx="418.5" cy="2342.4" r="3.6" fill="#E8333A"/>
<circle cx="418.5" cy="2323.0" r="3.6" fill="#E8333A"/>
<circle cx="421.9" cy="2316.5" r="3.6" fill="#E8333A"/>
<circle cx="418.5" cy="2294.2" r="3.6" fill="#E8333A"/>
<circle cx="418.5" cy="2271.9" r="3.6" fill="#E8333A"/>
<circle cx="418.5" cy="2249.6" r="3.6" fill="#E8333A"/>
<circle cx="418.5" cy="2239.6" r="3.6" fill="#E8333A"/>
<circle cx="418.5" cy="2229.7" r="3.6" fill="#E8333A"/>
<circle cx="418.5" cy="2219.8" r="3.6" fill="#E8333A"/>
<circle cx="425.3" cy="2216.1" r="3.6" fill="#E8333A"/>
<circle cx="418.5" cy="2200.1" r="3.6" fill="#E8333A"/>
<circle cx="418.5" cy="2167.7" r="3.6" fill="#E8333A"/>
<line x1="518.3" y1="2358.7" x2="518.3" y2="2378.6" stroke="#0F4C8A" stroke-width="1.6"/>
<line x1="507.3" y1="2358.7" x2="529.3" y2="2358.7" stroke="#0F4C8A" stroke-width="1.6"/>
<line x1="518.3" y1="2392.2" x2="518.3" y2="2391.0" stroke="#0F4C8A" stroke-width="1.6"/>
<line x1="507.3" y1="2392.2" x2="529.3" y2="2392.2" stroke="#0F4C8A" stroke-width="1.6"/>
<rect x="498.3" y="2378.6" width="40.0" height="12.4" fill="none" stroke="#0F4C8A" stroke-width="1.6"/>
<line x1="498.3" y1="2387.2" x2="538.3" y2="2387.2" stroke="#0F4C8A" stroke-width="1.6"/>
<circle cx="518.3" cy="2392.2" r="3.6" fill="#0F4C8A"/>
<circle cx="525.1" cy="2391.9" r="3.6" fill="#0F4C8A"/>
<circle cx="511.5" cy="2391.7" r="3.6" fill="#0F4C8A"/>
<circle cx="532.0" cy="2391.5" r="3.6" fill="#0F4C8A"/>
<circle cx="504.6" cy="2391.3" r="3.6" fill="#0F4C8A"/>
<circle cx="518.3" cy="2391.2" r="3.6" fill="#0F4C8A"/>
<circle cx="518.3" cy="2391.1" r="3.6" fill="#0F4C8A"/>
<circle cx="518.3" cy="2391.0" r="3.6" fill="#0F4C8A"/>
<circle cx="518.3" cy="2391.0" r="3.6" fill="#0F4C8A"/>
<circle cx="518.3" cy="2391.0" r="3.6" fill="#0F4C8A"/>
<circle cx="518.3" cy="2390.5" r="3.6" fill="#0F4C8A"/>
<circle cx="518.3" cy="2390.1" r="3.6" fill="#0F4C8A"/>
<circle cx="518.3" cy="2389.7" r="3.6" fill="#0F4C8A"/>
<circle cx="518.3" cy="2389.3" r="3.6" fill="#0F4C8A"/>
<circle cx="518.3" cy="2388.9" r="3.6" fill="#0F4C8A"/>
<circle cx="518.3" cy="2388.5" r="3.6" fill="#0F4C8A"/>
<circle cx="518.3" cy="2388.1" r="3.6" fill="#0F4C8A"/>
<circle cx="518.3" cy="2387.7" r="3.6" fill="#0F4C8A"/>
<circle cx="518.3" cy="2387.2" r="3.6" fill="#0F4C8A"/>
<circle cx="518.3" cy="2386.3" r="3.6" fill="#0F4C8A"/>
<circle cx="518.3" cy="2385.3" r="3.6" fill="#0F4C8A"/>
<circle cx="525.1" cy="2384.3" r="3.6" fill="#0F4C8A"/>
<circle cx="511.5" cy="2383.4" r="3.6" fill="#0F4C8A"/>
<circle cx="532.0" cy="2382.4" r="3.6" fill="#0F4C8A"/>
<circle cx="504.6" cy="2381.4" r="3.6" fill="#0F4C8A"/>
<circle cx="518.3" cy="2380.5" r="3.6" fill="#0F4C8A"/>
<circle cx="518.3" cy="2379.5" r="3.6" fill="#0F4C8A"/>
<circle cx="518.3" cy="2378.6" r="3.6" fill="#0F4C8A"/>
<circle cx="518.3" cy="2378.5" r="3.6" fill="#0F4C8A"/>
<circle cx="518.3" cy="2378.0" r="3.6" fill="#0F4C8A"/>
<circle cx="525.1" cy="2377.1" r="3.6" fill="#0F4C8A"/>
<circle cx="511.5" cy="2375.7" r="3.6" fill="#0F4C8A"/>
<circle cx="532.0" cy="2373.7" r="3.6" fill="#0F4C8A"/>
<circle cx="518.3" cy="2371.1" r="3.6" fill="#0F4C8A"/>
<circle cx="525.1" cy="2367.7" r="3.6" fill="#0F4C8A"/>
<circle cx="518.3" cy="2363.6" r="3.6" fill="#0F4C8A"/>
<circle cx="525.1" cy="2358.7" r="3.6" fill="#0F4C8A"/>
<line x1="578.3" y1="2195.0" x2="578.3" y2="2328.9" stroke="#E8333A" stroke-width="1.6"/>
<line x1="567.3" y1="2195.0" x2="589.3" y2="2195.0" stroke="#E8333A" stroke-width="1.6"/>
<line x1="578.3" y1="2391.0" x2="578.3" y2="2379.8" stroke="#E8333A" stroke-width="1.6"/>
<line x1="567.3" y1="2391.0" x2="589.3" y2="2391.0" stroke="#E8333A" stroke-width="1.6"/>
<rect x="558.3" y="2328.9" width="40.0" height="50.9" fill="none" stroke="#E8333A" stroke-width="1.6"/>
<line x1="558.3" y1="2366.2" x2="598.3" y2="2366.2" stroke="#E8333A" stroke-width="1.6"/>
<circle cx="578.3" cy="2391.0" r="3.6" fill="#E8333A"/>
<circle cx="581.7" cy="2384.8" r="3.6" fill="#E8333A"/>
<circle cx="574.9" cy="2381.0" r="3.6" fill="#E8333A"/>
<circle cx="588.6" cy="2379.8" r="3.6" fill="#E8333A"/>
<circle cx="578.3" cy="2375.2" r="3.6" fill="#E8333A"/>
<circle cx="585.1" cy="2370.7" r="3.6" fill="#E8333A"/>
<circle cx="578.3" cy="2366.2" r="3.6" fill="#E8333A"/>
<circle cx="578.3" cy="2353.7" r="3.6" fill="#E8333A"/>
<circle cx="578.3" cy="2341.3" r="3.6" fill="#E8333A"/>
<circle cx="578.3" cy="2328.9" r="3.6" fill="#E8333A"/>
<circle cx="578.3" cy="2319.3" r="3.6" fill="#E8333A"/>
<circle cx="578.3" cy="2278.3" r="3.6" fill="#E8333A"/>
<circle cx="578.3" cy="2195.0" r="3.6" fill="#E8333A"/>
<line x1="678.4" y1="2309.1" x2="678.4" y2="2356.2" stroke="#0F4C8A" stroke-width="1.6"/>
<line x1="667.4" y1="2309.1" x2="689.4" y2="2309.1" stroke="#0F4C8A" stroke-width="1.6"/>
<line x1="678.4" y1="2392.2" x2="678.4" y2="2391.0" stroke="#0F4C8A" stroke-width="1.6"/>
<line x1="667.4" y1="2392.2" x2="689.4" y2="2392.2" stroke="#0F4C8A" stroke-width="1.6"/>
<rect x="658.4" y="2356.2" width="40.0" height="34.7" fill="none" stroke="#0F4C8A" stroke-width="1.6"/>
<line x1="658.4" y1="2377.3" x2="698.4" y2="2377.3" stroke="#0F4C8A" stroke-width="1.6"/>
<circle cx="678.4" cy="2392.2" r="3.6" fill="#0F4C8A"/>
<circle cx="685.2" cy="2391.9" r="3.6" fill="#0F4C8A"/>
<circle cx="671.6" cy="2391.7" r="3.6" fill="#0F4C8A"/>
<circle cx="692.1" cy="2391.5" r="3.6" fill="#0F4C8A"/>
<circle cx="664.7" cy="2391.3" r="3.6" fill="#0F4C8A"/>
<circle cx="698.9" cy="2391.2" r="3.6" fill="#0F4C8A"/>
<circle cx="657.9" cy="2391.1" r="3.6" fill="#0F4C8A"/>
<circle cx="705.8" cy="2391.0" r="3.6" fill="#0F4C8A"/>
<circle cx="651.0" cy="2391.0" r="3.6" fill="#0F4C8A"/>
<circle cx="678.4" cy="2391.0" r="3.6" fill="#0F4C8A"/>
<circle cx="678.4" cy="2389.4" r="3.6" fill="#0F4C8A"/>
<circle cx="678.4" cy="2387.9" r="3.6" fill="#0F4C8A"/>
<circle cx="678.4" cy="2386.4" r="3.6" fill="#0F4C8A"/>
<circle cx="678.4" cy="2384.9" r="3.6" fill="#0F4C8A"/>
<circle cx="685.2" cy="2383.4" r="3.6" fill="#0F4C8A"/>
<circle cx="671.6" cy="2381.9" r="3.6" fill="#0F4C8A"/>
<circle cx="692.1" cy="2380.3" r="3.6" fill="#0F4C8A"/>
<circle cx="664.7" cy="2378.8" r="3.6" fill="#0F4C8A"/>
<circle cx="678.4" cy="2377.3" r="3.6" fill="#0F4C8A"/>
<circle cx="685.2" cy="2375.0" r="3.6" fill="#0F4C8A"/>
<circle cx="671.6" cy="2372.6" r="3.6" fill="#0F4C8A"/>
<circle cx="678.4" cy="2370.3" r="3.6" fill="#0F4C8A"/>
<circle cx="685.2" cy="2367.9" r="3.6" fill="#0F4C8A"/>
<circle cx="671.6" cy="2365.6" r="3.6" fill="#0F4C8A"/>
<circle cx="678.4" cy="2363.3" r="3.6" fill="#0F4C8A"/>
<circle cx="685.2" cy="2360.9" r="3.6" fill="#0F4C8A"/>
<circle cx="671.6" cy="2358.6" r="3.6" fill="#0F4C8A"/>
<circle cx="678.4" cy="2356.2" r="3.6" fill="#0F4C8A"/>
<circle cx="692.1" cy="2356.0" r="3.6" fill="#0F4C8A"/>
<circle cx="664.7" cy="2355.0" r="3.6" fill="#0F4C8A"/>
<circle cx="685.2" cy="2352.9" r="3.6" fill="#0F4C8A"/>
<circle cx="678.4" cy="2349.5" r="3.6" fill="#0F4C8A"/>
<circle cx="685.2" cy="2344.7" r="3.6" fill="#0F4C8A"/>
<circle cx="678.4" cy="2338.4" r="3.6" fill="#0F4C8A"/>
<circle cx="678.4" cy="2330.4" r="3.6" fill="#0F4C8A"/>
<circle cx="678.4" cy="2320.7" r="3.6" fill="#0F4C8A"/>
<circle cx="678.4" cy="2309.1" r="3.6" fill="#0F4C8A"/>
<line x1="738.4" y1="2119.3" x2="738.4" y2="2262.0" stroke="#E8333A" stroke-width="1.6"/>
<line x1="727.4" y1="2119.3" x2="749.4" y2="2119.3" stroke="#E8333A" stroke-width="1.6"/>
<line x1="738.4" y1="2392.2" x2="738.4" y2="2377.3" stroke="#E8333A" stroke-width="1.6"/>
<line x1="727.4" y1="2392.2" x2="749.4" y2="2392.2" stroke="#E8333A" stroke-width="1.6"/>
<rect x="718.4" y="2262.0" width="40.0" height="115.4" fill="none" stroke="#E8333A" stroke-width="1.6"/>
<line x1="718.4" y1="2330.2" x2="758.4" y2="2330.2" stroke="#E8333A" stroke-width="1.6"/>
<circle cx="738.4" cy="2392.2" r="3.6" fill="#E8333A"/>
<circle cx="738.4" cy="2383.9" r="3.6" fill="#E8333A"/>
<circle cx="745.2" cy="2379.0" r="3.6" fill="#E8333A"/>
<circle cx="735.0" cy="2377.3" r="3.6" fill="#E8333A"/>
<circle cx="738.4" cy="2361.6" r="3.6" fill="#E8333A"/>
<circle cx="738.4" cy="2345.9" r="3.6" fill="#E8333A"/>
<circle cx="738.4" cy="2330.2" r="3.6" fill="#E8333A"/>
<circle cx="738.4" cy="2307.4" r="3.6" fill="#E8333A"/>
<circle cx="738.4" cy="2284.7" r="3.6" fill="#E8333A"/>
<circle cx="738.4" cy="2262.0" r="3.6" fill="#E8333A"/>
<circle cx="738.4" cy="2251.7" r="3.6" fill="#E8333A"/>
<circle cx="738.4" cy="2208.1" r="3.6" fill="#E8333A"/>
<circle cx="738.4" cy="2119.3" r="3.6" fill="#E8333A"/>
<line x1="358.7" y1="2156.2" x2="417.6" y2="2156.2" stroke="#231F20" stroke-width="1.5"/>
<text x="388.1" y="2151.2" font-size="19.2" text-anchor="middle" fill="#141214">p=0.0011</text>
<line x1="518.3" y1="2181.5" x2="578.2" y2="2181.5" stroke="#231F20" stroke-width="1.5"/>
<text x="548.2" y="2176.5" font-size="19.2" text-anchor="middle" fill="#141214">p=0.0015</text>
<line x1="678.4" y1="2106.0" x2="738.2" y2="2106.0" stroke="#231F20" stroke-width="1.5"/>
<text x="708.3" y="2101.0" font-size="19.2" text-anchor="middle" fill="#141214">p=0.0063</text>
<text x="247.0" y="2247.0" font-size="22.5" text-anchor="middle" fill="#141214" transform="rotate(-90 247.0 2247.0)">Proportion at T1-T3</text>
<text x="272.4" y="2243.0" font-size="22.5" text-anchor="middle" fill="#141214" transform="rotate(-90 272.4 2243.0)">(% of total granulocytes)</text>
<rect x="789.5" y="2109.3" width="23.5" height="11.2" fill="none" stroke="#0F4C8A" stroke-width="1.6"/>
<text x="821.0" y="2121.2" font-size="19.3" fill="#141214">IgG- (n=37)</text>
<rect x="789.5" y="2135.3" width="23.5" height="11.2" fill="none" stroke="#E8333A" stroke-width="1.6"/>
<text x="821.0" y="2146.8" font-size="19.3" fill="#141214">IgG+ (n=13)</text>
<text x="1267.3" y="1683.3" font-size="24.5" text-anchor="middle" fill="#141214">NMOSD</text>
<line x1="1086.6" y1="1696.8" x2="1086.6" y2="2009.0" stroke="#EBEBEB" stroke-width="0.9"/>
<line x1="1167.0" y1="1696.8" x2="1167.0" y2="2009.0" stroke="#EBEBEB" stroke-width="0.9"/>
<line x1="1247.4" y1="1696.8" x2="1247.4" y2="2009.0" stroke="#EBEBEB" stroke-width="0.9"/>
<line x1="1327.8" y1="1696.8" x2="1327.8" y2="2009.0" stroke="#EBEBEB" stroke-width="0.9"/>
<line x1="1408.1" y1="1696.8" x2="1408.1" y2="2009.0" stroke="#EBEBEB" stroke-width="0.9"/>
<line x1="1027.1" y1="1983.8" x2="1442.9" y2="1983.8" stroke="#EBEBEB" stroke-width="0.9"/>
<line x1="1027.1" y1="1921.9" x2="1442.9" y2="1921.9" stroke="#EBEBEB" stroke-width="0.9"/>
<line x1="1027.1" y1="1860.0" x2="1442.9" y2="1860.0" stroke="#EBEBEB" stroke-width="0.9"/>
<line x1="1027.1" y1="1798.1" x2="1442.9" y2="1798.1" stroke="#EBEBEB" stroke-width="0.9"/>
<line x1="1027.1" y1="1736.2" x2="1442.9" y2="1736.2" stroke="#EBEBEB" stroke-width="0.9"/>
<line x1="1046.5" y1="1696.8" x2="1046.5" y2="2009.0" stroke="#EBEBEB" stroke-width="1.6"/>
<line x1="1126.8" y1="1696.8" x2="1126.8" y2="2009.0" stroke="#EBEBEB" stroke-width="1.6"/>
<line x1="1207.2" y1="1696.8" x2="1207.2" y2="2009.0" stroke="#EBEBEB" stroke-width="1.6"/>
<line x1="1287.6" y1="1696.8" x2="1287.6" y2="2009.0" stroke="#EBEBEB" stroke-width="1.6"/>
<line x1="1368.0" y1="1696.8" x2="1368.0" y2="2009.0" stroke="#EBEBEB" stroke-width="1.6"/>
<line x1="1027.1" y1="1952.8" x2="1442.9" y2="1952.8" stroke="#EBEBEB" stroke-width="1.6"/>
<line x1="1027.1" y1="1890.9" x2="1442.9" y2="1890.9" stroke="#EBEBEB" stroke-width="1.6"/>
<line x1="1027.1" y1="1829.0" x2="1442.9" y2="1829.0" stroke="#EBEBEB" stroke-width="1.6"/>
<line x1="1027.1" y1="1767.1" x2="1442.9" y2="1767.1" stroke="#EBEBEB" stroke-width="1.6"/>
<line x1="1027.1" y1="1705.2" x2="1442.9" y2="1705.2" stroke="#EBEBEB" stroke-width="1.6"/>
<line x1="1207.2" y1="1696.8" x2="1207.2" y2="2009.0" stroke="#111" stroke-width="1.6" stroke-dasharray="9 5"/>
<line x1="1027.1" y1="1890.9" x2="1442.9" y2="1890.9" stroke="#111" stroke-width="1.6" stroke-dasharray="9 5"/>
<circle cx="1424.1" cy="1711.5" r="2.4" fill="#595959"/>
<circle cx="1398.6" cy="1773.4" r="2.4" fill="#595959"/>
<circle cx="1107.0" cy="1784.7" r="2.4" fill="#595959"/>
<circle cx="1134.4" cy="1787.7" r="2.4" fill="#595959"/>
<circle cx="1059.3" cy="1783.1" r="2.4" fill="#595959"/>
<circle cx="1090.1" cy="1833.8" r="2.4" fill="#595959"/>
<circle cx="1101.4" cy="1867.2" r="2.4" fill="#595959"/>
<circle cx="1093.9" cy="1878.9" r="2.4" fill="#595959"/>
<circle cx="1096.9" cy="1888.2" r="2.4" fill="#595959"/>
<circle cx="1104.4" cy="1889.7" r="2.4" fill="#595959"/>
<circle cx="1093.9" cy="1897.2" r="2.4" fill="#595959"/>
<circle cx="1115.6" cy="1895.7" r="2.4" fill="#595959"/>
<circle cx="1140.8" cy="1871.3" r="2.4" fill="#595959"/>
<circle cx="1144.5" cy="1866.5" r="2.4" fill="#595959"/>
<circle cx="1165.2" cy="1878.5" r="2.4" fill="#595959"/>
<circle cx="1174.6" cy="1868.3" r="2.4" fill="#595959"/>
<circle cx="1257.1" cy="1858.2" r="2.4" fill="#595959"/>
<circle cx="1260.9" cy="1879.6" r="2.4" fill="#595959"/>
<circle cx="1309.7" cy="1860.8" r="2.4" fill="#595959"/>
<circle cx="1238.4" cy="1889.0" r="2.4" fill="#595959"/>
<circle cx="1230.9" cy="1894.6" r="2.4" fill="#595959"/>
<circle cx="1240.2" cy="1897.2" r="2.4" fill="#595959"/>
<circle cx="1244.0" cy="1907.0" r="2.4" fill="#595959"/>
<circle cx="1213.2" cy="1908.5" r="2.4" fill="#595959"/>
<circle cx="1257.1" cy="1898.4" r="2.4" fill="#595959"/>
<circle cx="1259.0" cy="1900.2" r="2.4" fill="#595959"/>
<circle cx="1255.3" cy="1901.4" r="2.4" fill="#595959"/>
<circle cx="1258.3" cy="1897.6" r="2.4" fill="#595959"/>
<circle cx="1271.0" cy="1903.2" r="2.4" fill="#595959"/>
<circle cx="1283.4" cy="1908.9" r="2.4" fill="#595959"/>
<circle cx="1235.7" cy="1931.0" r="2.4" fill="#595959"/>
<circle cx="1226.0" cy="1935.9" r="2.4" fill="#595959"/>
<circle cx="1247.8" cy="1932.9" r="2.4" fill="#595959"/>
<circle cx="1252.3" cy="1937.8" r="2.4" fill="#595959"/>
<circle cx="1248.5" cy="1942.7" r="2.4" fill="#595959"/>
<circle cx="1253.4" cy="1944.2" r="2.4" fill="#595959"/>
<circle cx="1219.6" cy="1953.9" r="2.4" fill="#595959"/>
<circle cx="1232.0" cy="1955.0" r="2.4" fill="#595959"/>
<circle cx="1244.0" cy="1959.5" r="2.4" fill="#595959"/>
<circle cx="1196.3" cy="1965.2" r="2.4" fill="#595959"/>
<circle cx="1198.2" cy="1972.7" r="2.4" fill="#595959"/>
<circle cx="1204.6" cy="1994.1" r="2.4" fill="#595959"/>
<line x1="1207.2" y1="1890.9" x2="1069.5" y2="1797.8" stroke="#EE6230" stroke-width="3.0"/>
<path d="M1075.7,1798.2 L1069.5,1797.8 L1072.2,1803.4" fill="none" stroke="#EE6230" stroke-width="3.0" stroke-linejoin="miter"/>
<line x1="1207.2" y1="1890.9" x2="1045.1" y2="1827.8" stroke="#EE6230" stroke-width="3.0"/>
<path d="M1051.2,1826.9 L1045.1,1827.8 L1049.0,1832.6" fill="none" stroke="#EE6230" stroke-width="3.0" stroke-linejoin="miter"/>
<line x1="1207.2" y1="1890.9" x2="1102.1" y2="1813.9" stroke="#EDA532" stroke-width="1.3"/>
<path d="M1107.6,1814.5 L1102.1,1813.9 L1104.3,1819.0" fill="none" stroke="#EDA532" stroke-width="1.3" stroke-linejoin="miter"/>
<line x1="1207.2" y1="1890.9" x2="1130.7" y2="1808.3" stroke="#C8B45A" stroke-width="1.3"/>
<path d="M1136.0,1809.9 L1130.7,1808.3 L1131.9,1813.7" fill="none" stroke="#C8B45A" stroke-width="1.3" stroke-linejoin="miter"/>
<line x1="1207.2" y1="1890.9" x2="1142.7" y2="1810.2" stroke="#B8B46A" stroke-width="1.3"/>
<path d="M1147.8,1812.2 L1142.7,1810.2 L1143.5,1815.7" fill="none" stroke="#B8B46A" stroke-width="1.3" stroke-linejoin="miter"/>
<line x1="1207.2" y1="1890.9" x2="1217.0" y2="1774.5" stroke="#E0B236" stroke-width="1.3"/>
<path d="M1219.3,1779.5 L1217.0,1774.5 L1213.8,1779.0" fill="none" stroke="#E0B236" stroke-width="1.3" stroke-linejoin="miter"/>
<line x1="1207.2" y1="1890.9" x2="1304.0" y2="1800.0" stroke="#EDA532" stroke-width="1.3"/>
<path d="M1302.4,1805.3 L1304.0,1800.0 L1298.6,1801.3" fill="none" stroke="#EDA532" stroke-width="1.3" stroke-linejoin="miter"/>
<line x1="1207.2" y1="1890.9" x2="1328.4" y2="1791.4" stroke="#F08A30" stroke-width="2.6"/>
<path d="M1326.3,1797.1 L1328.4,1791.4 L1322.4,1792.4" fill="none" stroke="#F08A30" stroke-width="2.6" stroke-linejoin="miter"/>
<line x1="1207.2" y1="1890.9" x2="1332.2" y2="1792.5" stroke="#F08A30" stroke-width="2.6"/>
<path d="M1330.0,1798.1 L1332.2,1792.5 L1326.2,1793.4" fill="none" stroke="#F08A30" stroke-width="2.6" stroke-linejoin="miter"/>
<line x1="1207.2" y1="1890.9" x2="1359.6" y2="1803.8" stroke="#EE6230" stroke-width="2.6"/>
<path d="M1356.6,1809.0 L1359.6,1803.8 L1353.6,1803.8" fill="none" stroke="#EE6230" stroke-width="2.6" stroke-linejoin="miter"/>
<line x1="1207.2" y1="1890.9" x2="1369.7" y2="1821.4" stroke="#EE6230" stroke-width="2.6"/>
<path d="M1366.1,1826.2 L1369.7,1821.4 L1363.7,1820.7" fill="none" stroke="#EE6230" stroke-width="2.6" stroke-linejoin="miter"/>
<line x1="1207.2" y1="1890.9" x2="1345.3" y2="1847.7" stroke="#F0A030" stroke-width="2.2"/>
<path d="M1341.3,1852.0 L1345.3,1847.7 L1339.6,1846.4" fill="none" stroke="#F0A030" stroke-width="2.2" stroke-linejoin="miter"/>
<line x1="1207.2" y1="1890.9" x2="1215.8" y2="1865.3" stroke="#2FB4C0" stroke-width="1.3"/>
<path d="M1216.9,1870.7 L1215.8,1865.3 L1211.7,1869.0" fill="none" stroke="#2FB4C0" stroke-width="1.3" stroke-linejoin="miter"/>
<line x1="1207.2" y1="1890.9" x2="1135.2" y2="1941.5" stroke="#8DB87A" stroke-width="1.3"/>
<path d="M1137.5,1936.5 L1135.2,1941.5 L1140.7,1941.0" fill="none" stroke="#8DB87A" stroke-width="1.3" stroke-linejoin="miter"/>
<line x1="1207.2" y1="1890.9" x2="1109.6" y2="1955.8" stroke="#DDB236" stroke-width="1.3"/>
<path d="M1112.1,1950.9 L1109.6,1955.8 L1115.1,1955.5" fill="none" stroke="#DDB236" stroke-width="1.3" stroke-linejoin="miter"/>
<line x1="1207.2" y1="1890.9" x2="1252.6" y2="1989.2" stroke="#C8B45A" stroke-width="1.3"/>
<path d="M1248.1,1986.0 L1252.6,1989.2 L1253.1,1983.7" fill="none" stroke="#C8B45A" stroke-width="1.3" stroke-linejoin="miter"/>
<line x1="1207.2" y1="1890.9" x2="1327.7" y2="1977.2" stroke="#F08A30" stroke-width="2.6"/>
<path d="M1321.7,1976.6 L1327.7,1977.2 L1325.2,1971.7" fill="none" stroke="#F08A30" stroke-width="2.6" stroke-linejoin="miter"/>
<line x1="1207.2" y1="1890.9" x2="1338.6" y2="1958.4" stroke="#F08A30" stroke-width="2.6"/>
<path d="M1332.6,1958.7 L1338.6,1958.4 L1335.3,1953.3" fill="none" stroke="#F08A30" stroke-width="2.6" stroke-linejoin="miter"/>
<line x1="1207.2" y1="1890.9" x2="1347.2" y2="1957.3" stroke="#F08A30" stroke-width="2.6"/>
<path d="M1341.2,1957.8 L1347.2,1957.3 L1343.8,1952.3" fill="none" stroke="#F08A30" stroke-width="2.6" stroke-linejoin="miter"/>
<text x="1059.3" y="1793.5" font-size="21.5" text-anchor="middle" font-weight="bold" fill="#EE6230">G10</text>
<text x="1051.8" y="1821.7" font-size="21.5" text-anchor="middle" font-weight="bold" fill="#EE6230">G15</text>
<text x="1098.4" y="1809.7" font-size="19.2" text-anchor="middle" fill="#EDA532">G5</text>
<text x="1123.9" y="1817.9" font-size="19.2" text-anchor="middle" fill="#C8B45A">G8</text>
<text x="1157.7" y="1778.9" font-size="19.2" text-anchor="middle" fill="#C8B45A">Anti-S1</text>
<text x="1165.2" y="1801.4" font-size="19.2" text-anchor="middle" fill="#C8B45A">IgG level</text>
<text x="1235.7" y="1771.0" font-size="19.2" text-anchor="middle" fill="#E0B236">G18</text>
<text x="1284.5" y="1802.9" font-size="19.2" text-anchor="middle" fill="#EDA532">G16</text>
<text x="1313.4" y="1786.0" font-size="21.5" text-anchor="middle" font-weight="bold" fill="#F08A30">G13</text>
<text x="1354.7" y="1794.7" font-size="21.5" text-anchor="middle" font-weight="bold" fill="#F08A30">G14</text>
<text x="1379.1" y="1813.4" font-size="21.5" text-anchor="middle" font-weight="bold" fill="#EE6230">G1</text>
<text x="1387.4" y="1831.4" font-size="21.5" text-anchor="middle" font-weight="bold" fill="#EE6230">G9</text>
<text x="1367.8" y="1862.2" font-size="21.5" text-anchor="middle" font-weight="bold" fill="#F0A030">G17</text>
<text x="1234.6" y="1862.2" font-size="19.2" text-anchor="middle" fill="#2FB4C0">G12</text>
<text x="1153.2" y="1953.0" font-size="19.2" text-anchor="middle" fill="#8DB87A">G6</text>
<text x="1099.5" y="1971.0" font-size="19.2" text-anchor="middle" fill="#DDB236">G7</text>
<text x="1269.5" y="1986.1" font-size="19.2" text-anchor="middle" fill="#C8B45A">G2</text>
<text x="1317.2" y="1996.6" font-size="21.5" text-anchor="middle" font-weight="bold" fill="#F08A30">G11</text>
<text x="1341.6" y="1976.7" font-size="21.5" text-anchor="middle" font-weight="bold" fill="#F08A30">G4</text>
<text x="1363.4" y="1962.8" font-size="21.5" text-anchor="middle" font-weight="bold" fill="#F08A30">G3</text>
<line x1="1046.5" y1="2009.0" x2="1046.5" y2="2012.5" stroke="#4D4D4D" stroke-width="1.1"/>
<text x="1046.5" y="2028.6" font-size="19.2" text-anchor="middle" fill="#4D4D4D">−5.0</text>
<line x1="1126.8" y1="2009.0" x2="1126.8" y2="2012.5" stroke="#4D4D4D" stroke-width="1.1"/>
<text x="1126.8" y="2028.6" font-size="19.2" text-anchor="middle" fill="#4D4D4D">−2.5</text>
<line x1="1207.2" y1="2009.0" x2="1207.2" y2="2012.5" stroke="#4D4D4D" stroke-width="1.1"/>
<text x="1207.2" y="2028.6" font-size="19.2" text-anchor="middle" fill="#4D4D4D">0.0</text>
<line x1="1287.6" y1="2009.0" x2="1287.6" y2="2012.5" stroke="#4D4D4D" stroke-width="1.1"/>
<text x="1287.6" y="2028.6" font-size="19.2" text-anchor="middle" fill="#4D4D4D">2.5</text>
<line x1="1368.0" y1="2009.0" x2="1368.0" y2="2012.5" stroke="#4D4D4D" stroke-width="1.1"/>
<text x="1368.0" y="2028.6" font-size="19.2" text-anchor="middle" fill="#4D4D4D">5.0</text>
<line x1="1023.6" y1="1952.8" x2="1027.1" y2="1952.8" stroke="#4D4D4D" stroke-width="1.1"/>
<text x="1022.6" y="1959.6" font-size="19.2" text-anchor="end" fill="#4D4D4D">−2</text>
<line x1="1023.6" y1="1890.9" x2="1027.1" y2="1890.9" stroke="#4D4D4D" stroke-width="1.1"/>
<text x="1022.6" y="1897.7" font-size="19.2" text-anchor="end" fill="#4D4D4D">0</text>
<line x1="1023.6" y1="1829.0" x2="1027.1" y2="1829.0" stroke="#4D4D4D" stroke-width="1.1"/>
<text x="1022.6" y="1835.8" font-size="19.2" text-anchor="end" fill="#4D4D4D">2</text>
<line x1="1023.6" y1="1767.1" x2="1027.1" y2="1767.1" stroke="#4D4D4D" stroke-width="1.1"/>
<text x="1022.6" y="1773.9" font-size="19.2" text-anchor="end" fill="#4D4D4D">4</text>
<line x1="1023.6" y1="1705.2" x2="1027.1" y2="1705.2" stroke="#4D4D4D" stroke-width="1.1"/>
<text x="1022.6" y="1712.0" font-size="19.2" text-anchor="end" fill="#4D4D4D">6</text>
<text x="1255.3" y="2044.7" font-size="19.6" text-anchor="middle" fill="#141214">Dim1 (32.7%)</text>
<text x="998.0" y="1825.2" font-size="19.6" text-anchor="middle" fill="#141214" transform="rotate(-90 998.0 1825.2)">Dim2 (17.6%)</text>
<defs><linearGradient id="cgH" x1="0" y1="1" x2="0" y2="0"><stop offset="0" stop-color="#2CB6C2"/><stop offset="0.3" stop-color="#9DB47A"/><stop offset="0.55" stop-color="#E8B030"/><stop offset="0.8" stop-color="#F08A30"/><stop offset="1" stop-color="#EE5A2C"/></linearGradient></defs>
<text x="1457.9" y="1813.2" font-size="19.2" fill="#141214">contrib</text>
<rect x="1459.0" y="1823.3" width="14.0" height="73.2" fill="url(#cgH)"/>
<line x1="1459.0" y1="1827.0" x2="1462.0" y2="1827.0" stroke="#fff" stroke-width="1.1"/>
<line x1="1470.0" y1="1827.0" x2="1473.0" y2="1827.0" stroke="#fff" stroke-width="1.1"/>
<text x="1476.7" y="1833.8" font-size="18.6" fill="#141214">8</text>
<line x1="1459.0" y1="1844.7" x2="1462.0" y2="1844.7" stroke="#fff" stroke-width="1.1"/>
<line x1="1470.0" y1="1844.7" x2="1473.0" y2="1844.7" stroke="#fff" stroke-width="1.1"/>
<text x="1476.7" y="1851.5" font-size="18.6" fill="#141214">6</text>
<line x1="1459.0" y1="1862.7" x2="1462.0" y2="1862.7" stroke="#fff" stroke-width="1.1"/>
<line x1="1470.0" y1="1862.7" x2="1473.0" y2="1862.7" stroke="#fff" stroke-width="1.1"/>
<text x="1476.7" y="1869.5" font-size="18.6" fill="#141214">4</text>
<line x1="1459.0" y1="1880.7" x2="1462.0" y2="1880.7" stroke="#fff" stroke-width="1.1"/>
<line x1="1470.0" y1="1880.7" x2="1473.0" y2="1880.7" stroke="#fff" stroke-width="1.1"/>
<text x="1476.7" y="1887.5" font-size="18.6" fill="#141214">2</text>
<line x1="1653.7" y1="1789.0" x2="1653.7" y2="1988.4" stroke="#EBEBEB" stroke-width="0.9"/>
<line x1="1715.4" y1="1789.0" x2="1715.4" y2="1988.4" stroke="#EBEBEB" stroke-width="0.9"/>
<line x1="1777.1" y1="1789.0" x2="1777.1" y2="1988.4" stroke="#EBEBEB" stroke-width="0.9"/>
<line x1="1838.8" y1="1789.0" x2="1838.8" y2="1988.4" stroke="#EBEBEB" stroke-width="0.9"/>
<line x1="1622.8" y1="1789.0" x2="1622.8" y2="1988.4" stroke="#EBEBEB" stroke-width="1.6"/>
<line x1="1622.8" y1="1785.5" x2="1622.8" y2="1789.0" stroke="#222" stroke-width="1.4"/>
<text x="1617.6" y="1776.9" font-size="19.2" text-anchor="middle" fill="#4D4D4D" transform="rotate(90 1617.6 1776.9)">0</text>
<line x1="1684.5" y1="1789.0" x2="1684.5" y2="1988.4" stroke="#EBEBEB" stroke-width="1.6"/>
<line x1="1684.5" y1="1785.5" x2="1684.5" y2="1789.0" stroke="#222" stroke-width="1.4"/>
<text x="1679.3" y="1776.9" font-size="19.2" text-anchor="middle" fill="#4D4D4D" transform="rotate(90 1679.3 1776.9)">3</text>
<line x1="1746.2" y1="1789.0" x2="1746.2" y2="1988.4" stroke="#EBEBEB" stroke-width="1.6"/>
<line x1="1746.2" y1="1785.5" x2="1746.2" y2="1789.0" stroke="#222" stroke-width="1.4"/>
<text x="1741.0" y="1776.9" font-size="19.2" text-anchor="middle" fill="#4D4D4D" transform="rotate(90 1741.0 1776.9)">6</text>
<line x1="1807.9" y1="1789.0" x2="1807.9" y2="1988.4" stroke="#EBEBEB" stroke-width="1.6"/>
<line x1="1807.9" y1="1785.5" x2="1807.9" y2="1789.0" stroke="#222" stroke-width="1.4"/>
<text x="1802.7" y="1776.9" font-size="19.2" text-anchor="middle" fill="#4D4D4D" transform="rotate(90 1802.7 1776.9)">9</text>
<line x1="1614.8" y1="1800.2" x2="1857.0" y2="1800.2" stroke="#EBEBEB" stroke-width="1.6"/>
<line x1="1614.8" y1="1819.8" x2="1857.0" y2="1819.8" stroke="#EBEBEB" stroke-width="1.6"/>
<line x1="1614.8" y1="1839.4" x2="1857.0" y2="1839.4" stroke="#EBEBEB" stroke-width="1.6"/>
<line x1="1614.8" y1="1859.1" x2="1857.0" y2="1859.1" stroke="#EBEBEB" stroke-width="1.6"/>
<line x1="1614.8" y1="1878.7" x2="1857.0" y2="1878.7" stroke="#EBEBEB" stroke-width="1.6"/>
<line x1="1614.8" y1="1898.3" x2="1857.0" y2="1898.3" stroke="#EBEBEB" stroke-width="1.6"/>
<line x1="1614.8" y1="1917.9" x2="1857.0" y2="1917.9" stroke="#EBEBEB" stroke-width="1.6"/>
<line x1="1614.8" y1="1937.5" x2="1857.0" y2="1937.5" stroke="#EBEBEB" stroke-width="1.6"/>
<line x1="1614.8" y1="1957.2" x2="1857.0" y2="1957.2" stroke="#EBEBEB" stroke-width="1.6"/>
<line x1="1614.8" y1="1976.8" x2="1857.0" y2="1976.8" stroke="#EBEBEB" stroke-width="1.6"/>
<rect x="1622.8" y="1792.7" width="224.2" height="15.0" fill="#4682B4"/>
<line x1="1610.4" y1="1800.2" x2="1612.8" y2="1800.2" stroke="#222" stroke-width="1.4"/>
<text x="1606.3" y="1808.2" font-size="19.4" text-anchor="end" fill="#4D4D4D">G15</text>
<rect x="1622.8" y="1812.3" width="223.0" height="15.0" fill="#4682B4"/>
<line x1="1610.4" y1="1819.8" x2="1612.8" y2="1819.8" stroke="#222" stroke-width="1.4"/>
<text x="1606.3" y="1827.8" font-size="19.4" text-anchor="end" fill="#4D4D4D">G9</text>
<rect x="1622.8" y="1831.9" width="196.9" height="15.0" fill="#4682B4"/>
<line x1="1610.4" y1="1839.4" x2="1612.8" y2="1839.4" stroke="#222" stroke-width="1.4"/>
<text x="1606.3" y="1847.4" font-size="19.4" text-anchor="end" fill="#4D4D4D">G1</text>
<rect x="1622.8" y="1851.6" width="163.3" height="15.0" fill="#4682B4"/>
<line x1="1610.4" y1="1859.1" x2="1612.8" y2="1859.1" stroke="#222" stroke-width="1.4"/>
<text x="1606.3" y="1867.1" font-size="19.4" text-anchor="end" fill="#4D4D4D">G3</text>
<rect x="1622.8" y="1871.2" width="161.9" height="15.0" fill="#4682B4"/>
<line x1="1610.4" y1="1878.7" x2="1612.8" y2="1878.7" stroke="#222" stroke-width="1.4"/>
<text x="1606.3" y="1886.7" font-size="19.4" text-anchor="end" fill="#4D4D4D">G10</text>
<rect x="1622.8" y="1890.8" width="160.0" height="15.0" fill="#4682B4"/>
<line x1="1610.4" y1="1898.3" x2="1612.8" y2="1898.3" stroke="#222" stroke-width="1.4"/>
<text x="1606.3" y="1906.3" font-size="19.4" text-anchor="end" fill="#4D4D4D">G17</text>
<rect x="1622.8" y="1910.4" width="146.0" height="15.0" fill="#4682B4"/>
<line x1="1610.4" y1="1917.9" x2="1612.8" y2="1917.9" stroke="#222" stroke-width="1.4"/>
<text x="1606.3" y="1925.9" font-size="19.4" text-anchor="end" fill="#4D4D4D">G4</text>
<rect x="1622.8" y="1930.0" width="131.9" height="15.0" fill="#4682B4"/>
<line x1="1610.4" y1="1937.5" x2="1612.8" y2="1937.5" stroke="#222" stroke-width="1.4"/>
<text x="1606.3" y="1945.5" font-size="19.4" text-anchor="end" fill="#4D4D4D">G14</text>
<rect x="1622.8" y="1949.7" width="123.2" height="15.0" fill="#4682B4"/>
<line x1="1610.4" y1="1957.2" x2="1612.8" y2="1957.2" stroke="#222" stroke-width="1.4"/>
<text x="1606.3" y="1965.2" font-size="19.4" text-anchor="end" fill="#4D4D4D">G13</text>
<rect x="1622.8" y="1969.3" width="121.8" height="15.0" fill="#4682B4"/>
<line x1="1610.4" y1="1976.8" x2="1612.8" y2="1976.8" stroke="#222" stroke-width="1.4"/>
<text x="1606.3" y="1984.8" font-size="19.4" text-anchor="end" fill="#4D4D4D">G11</text>
<line x1="1731.0" y1="1789.0" x2="1731.0" y2="1988.4" stroke="#E8202A" stroke-width="1.6" stroke-dasharray="14 13.5"/>
<text x="1734.9" y="1767.7" font-size="19.2" text-anchor="middle" fill="#141214">Contributions (%) to Dim1</text>
<text x="1432.0" y="2129.4" font-size="22.4" text-anchor="middle" fill="#141214">aCD20-NMOSD</text>
<text x="1021.1" y="2129.7" font-size="19.3" text-anchor="middle" fill="#141214">Anti-S1IgG</text>
<text x="1021.1" y="2153.0" font-size="19.3" text-anchor="middle" fill="#141214">level</text>
<text x="1092.9" y="2153.0" font-size="19.3" text-anchor="middle" fill="#141214">p</text>
<rect x="999.1" y="2159.6" width="45.0" height="44.8" fill="none" stroke="#BDBDBD" stroke-width="1.5"/>
<rect x="1055.2" y="2159.6" width="71.2" height="44.8" fill="none" stroke="#BDBDBD" stroke-width="1.5"/>
<circle cx="1021.7" cy="2181.9" r="18.0" fill="#D6604D"/>
<text x="1021.7" y="2188.9" font-size="19.2" text-anchor="middle" fill="#141214">0.59</text>
<text x="1090.8" y="2188.9" font-size="19.2" text-anchor="middle" fill="#141214">0.0046</text>
<text x="992.6" y="2188.9" font-size="19.2" text-anchor="end" fill="#141214">G2</text>
<rect x="999.1" y="2205.8" width="45.0" height="44.8" fill="none" stroke="#BDBDBD" stroke-width="1.5"/>
<rect x="1055.2" y="2205.8" width="71.2" height="44.8" fill="none" stroke="#BDBDBD" stroke-width="1.5"/>
<circle cx="1021.7" cy="2228.2" r="16.0" fill="#EE9A80"/>
<text x="1021.7" y="2235.2" font-size="19.2" text-anchor="middle" fill="#141214">0.46</text>
<text x="1090.8" y="2235.2" font-size="19.2" text-anchor="middle" fill="#141214">0.0349</text>
<text x="992.6" y="2235.2" font-size="19.2" text-anchor="end" fill="#141214">G7</text>
<rect x="999.1" y="2252.1" width="45.0" height="44.8" fill="none" stroke="#BDBDBD" stroke-width="1.5"/>
<rect x="1055.2" y="2252.1" width="71.2" height="44.8" fill="none" stroke="#BDBDBD" stroke-width="1.5"/>
<circle cx="1021.7" cy="2274.4" r="14.2" fill="#84BCDA"/>
<text x="1021.7" y="2281.4" font-size="19.2" text-anchor="middle" fill="#141214">-0.44</text>
<text x="1090.8" y="2281.4" font-size="19.2" text-anchor="middle" fill="#141214">0.0472</text>
<text x="992.6" y="2281.4" font-size="19.2" text-anchor="end" fill="#141214">G8</text>
<rect x="999.1" y="2298.3" width="45.0" height="44.8" fill="none" stroke="#BDBDBD" stroke-width="1.5"/>
<rect x="1055.2" y="2298.3" width="71.2" height="44.8" fill="none" stroke="#BDBDBD" stroke-width="1.5"/>
<circle cx="1021.7" cy="2320.7" r="15.3" fill="#62A9D0"/>
<text x="1021.7" y="2327.7" font-size="19.2" text-anchor="middle" fill="#141214">-0.52</text>
<text x="1090.8" y="2327.7" font-size="19.2" text-anchor="middle" fill="#141214">0.0147</text>
<text x="992.6" y="2327.7" font-size="19.2" text-anchor="end" fill="#141214">G10</text>
<rect x="999.1" y="2344.6" width="45.0" height="44.8" fill="none" stroke="#BDBDBD" stroke-width="1.5"/>
<rect x="1055.2" y="2344.6" width="71.2" height="44.8" fill="none" stroke="#BDBDBD" stroke-width="1.5"/>
<circle cx="1021.7" cy="2366.9" r="16.9" fill="#4A8DC3"/>
<text x="1021.7" y="2373.9" font-size="19.2" text-anchor="middle" fill="#141214">-0.61</text>
<text x="1090.8" y="2373.9" font-size="19.2" text-anchor="middle" fill="#141214">0.0031</text>
<text x="992.6" y="2373.9" font-size="19.2" text-anchor="end" fill="#141214">G12</text>
<rect x="999.1" y="2390.8" width="45.0" height="44.8" fill="none" stroke="#BDBDBD" stroke-width="1.5"/>
<rect x="1055.2" y="2390.8" width="71.2" height="44.8" fill="none" stroke="#BDBDBD" stroke-width="1.5"/>
<circle cx="1021.7" cy="2413.2" r="15.4" fill="#5FA7D0"/>
<text x="1021.7" y="2420.2" font-size="19.2" text-anchor="middle" fill="#141214">-0.53</text>
<text x="1090.8" y="2420.2" font-size="19.2" text-anchor="middle" fill="#141214">0.0140</text>
<text x="992.6" y="2420.2" font-size="19.2" text-anchor="end" fill="#141214">G16</text>
<text x="1056.6" y="2484.2" font-size="19.25" text-anchor="middle" fill="#141214">Spearman Rank</text>
<text x="1056.3" y="2507.5" font-size="19.25" text-anchor="middle" fill="#141214">Correlation coefficient (r)</text>
<defs><linearGradient id="rb956" x1="0" y1="0" x2="1" y2="0"><stop offset="0" stop-color="#1A4B8C"/><stop offset="0.15" stop-color="#2F6FB0"/><stop offset="0.32" stop-color="#70AED3"/><stop offset="0.45" stop-color="#D2E6F0"/><stop offset="0.5" stop-color="#F7F7F7"/><stop offset="0.55" stop-color="#FADBC8"/><stop offset="0.7" stop-color="#F0A080"/><stop offset="0.85" stop-color="#C7343C"/><stop offset="1" stop-color="#6A0F22"/></linearGradient></defs>
<rect x="956.3" y="2515.6" width="186.8" height="7.2" fill="url(#rb956)" stroke="#111" stroke-width="1.1"/>
<line x1="956.3" y1="2522.8" x2="956.3" y2="2525.0" stroke="#222" stroke-width="1"/>
<line x1="975.0" y1="2522.8" x2="975.0" y2="2525.0" stroke="#222" stroke-width="1"/>
<line x1="993.7" y1="2522.8" x2="993.7" y2="2525.0" stroke="#222" stroke-width="1"/>
<line x1="1012.3" y1="2522.8" x2="1012.3" y2="2525.0" stroke="#222" stroke-width="1"/>
<line x1="1031.0" y1="2522.8" x2="1031.0" y2="2525.0" stroke="#222" stroke-width="1"/>
<line x1="1049.7" y1="2522.8" x2="1049.7" y2="2525.0" stroke="#222" stroke-width="1"/>
<line x1="1068.4" y1="2522.8" x2="1068.4" y2="2525.0" stroke="#222" stroke-width="1"/>
<line x1="1087.1" y1="2522.8" x2="1087.1" y2="2525.0" stroke="#222" stroke-width="1"/>
<line x1="1105.7" y1="2522.8" x2="1105.7" y2="2525.0" stroke="#222" stroke-width="1"/>
<line x1="1124.4" y1="2522.8" x2="1124.4" y2="2525.0" stroke="#222" stroke-width="1"/>
<line x1="1143.1" y1="2522.8" x2="1143.1" y2="2525.0" stroke="#222" stroke-width="1"/>
<text x="954.5" y="2543.8" font-size="19.2" text-anchor="middle" fill="#141214">−1</text>
<text x="1049.3" y="2543.8" font-size="19.2" text-anchor="middle" fill="#141214">0</text>
<text x="1142.3" y="2543.8" font-size="19.2" text-anchor="middle" fill="#141214">1</text>
<text x="1151.7" y="2289.5" font-size="22.5" text-anchor="middle" fill="#141214" transform="rotate(-90 1151.7 2289.5)">Proportion at T1-T3</text>
<text x="1180.8" y="2289.5" font-size="22.5" text-anchor="middle" fill="#141214" transform="rotate(-90 1180.8 2289.5)">(% of total granulocytes)</text>
<line x1="1228.0" y1="2402.8" x2="1228.0" y2="2191.3" stroke="#231F20" stroke-width="1.6"/>
<line x1="1221.0" y1="2402.0" x2="1228.0" y2="2402.0" stroke="#231F20" stroke-width="1.6"/>
<text x="1219.8" y="2408.9" font-size="19.5" text-anchor="end" fill="#231F20">0</text>
<line x1="1221.0" y1="2349.3" x2="1228.0" y2="2349.3" stroke="#231F20" stroke-width="1.6"/>
<text x="1219.8" y="2356.2" font-size="19.5" text-anchor="end" fill="#231F20">6</text>
<line x1="1221.0" y1="2296.7" x2="1228.0" y2="2296.7" stroke="#231F20" stroke-width="1.6"/>
<text x="1219.8" y="2303.6" font-size="19.5" text-anchor="end" fill="#231F20">12</text>
<line x1="1221.0" y1="2244.0" x2="1228.0" y2="2244.0" stroke="#231F20" stroke-width="1.6"/>
<text x="1219.8" y="2250.9" font-size="19.5" text-anchor="end" fill="#231F20">18</text>
<line x1="1221.0" y1="2191.3" x2="1228.0" y2="2191.3" stroke="#231F20" stroke-width="1.6"/>
<text x="1219.8" y="2198.2" font-size="19.5" text-anchor="end" fill="#231F20">24</text>
<line x1="1228.0" y1="2402.0" x2="1448.5" y2="2402.0" stroke="#231F20" stroke-width="1.6"/>
<line x1="1278.9" y1="2402.0" x2="1278.9" y2="2412.0" stroke="#231F20" stroke-width="1.6"/>
<text x="1286.9" y="2427.0" font-size="19.2" text-anchor="end" fill="#231F20" transform="rotate(-45 1286.9 2427.0)">G2</text>
<line x1="1395.8" y1="2402.0" x2="1395.8" y2="2412.0" stroke="#231F20" stroke-width="1.6"/>
<text x="1403.8" y="2427.0" font-size="19.2" text-anchor="end" fill="#231F20" transform="rotate(-45 1403.8 2427.0)">G7</text>
<line x1="1257.0" y1="2395.0" x2="1257.0" y2="2397.6" stroke="#0F4C8A" stroke-width="1.6"/>
<line x1="1249.0" y1="2395.0" x2="1265.0" y2="2395.0" stroke="#0F4C8A" stroke-width="1.6"/>
<line x1="1257.0" y1="2402.0" x2="1257.0" y2="2401.1" stroke="#0F4C8A" stroke-width="1.6"/>
<line x1="1249.0" y1="2402.0" x2="1265.0" y2="2402.0" stroke="#0F4C8A" stroke-width="1.6"/>
<rect x="1242.5" y="2397.6" width="29.0" height="3.5" fill="none" stroke="#0F4C8A" stroke-width="1.6"/>
<line x1="1242.5" y1="2399.4" x2="1271.5" y2="2399.4" stroke="#0F4C8A" stroke-width="1.6"/>
<circle cx="1257.0" cy="2402.0" r="3.6" fill="#0F4C8A"/>
<circle cx="1263.8" cy="2401.5" r="3.6" fill="#0F4C8A"/>
<circle cx="1250.2" cy="2401.2" r="3.6" fill="#0F4C8A"/>
<circle cx="1270.7" cy="2401.0" r="3.6" fill="#0F4C8A"/>
<circle cx="1243.3" cy="2400.3" r="3.6" fill="#0F4C8A"/>
<circle cx="1257.0" cy="2399.7" r="3.6" fill="#0F4C8A"/>
<circle cx="1257.0" cy="2399.0" r="3.6" fill="#0F4C8A"/>
<circle cx="1257.0" cy="2398.4" r="3.6" fill="#0F4C8A"/>
<circle cx="1257.0" cy="2397.8" r="3.6" fill="#0F4C8A"/>
<circle cx="1257.0" cy="2397.5" r="3.6" fill="#0F4C8A"/>
<circle cx="1257.0" cy="2396.7" r="3.6" fill="#0F4C8A"/>
<circle cx="1257.0" cy="2395.0" r="3.6" fill="#0F4C8A"/>
<line x1="1301.0" y1="2384.4" x2="1301.0" y2="2386.2" stroke="#E8333A" stroke-width="1.6"/>
<line x1="1293.0" y1="2384.4" x2="1309.0" y2="2384.4" stroke="#E8333A" stroke-width="1.6"/>
<line x1="1301.0" y1="2402.0" x2="1301.0" y2="2397.6" stroke="#E8333A" stroke-width="1.6"/>
<line x1="1293.0" y1="2402.0" x2="1309.0" y2="2402.0" stroke="#E8333A" stroke-width="1.6"/>
<rect x="1286.5" y="2386.2" width="29.0" height="11.4" fill="none" stroke="#E8333A" stroke-width="1.6"/>
<line x1="1286.5" y1="2392.3" x2="1315.5" y2="2392.3" stroke="#E8333A" stroke-width="1.6"/>
<circle cx="1301.0" cy="2402.0" r="3.6" fill="#E8333A"/>
<circle cx="1307.8" cy="2398.7" r="3.6" fill="#E8333A"/>
<circle cx="1294.2" cy="2397.6" r="3.6" fill="#E8333A"/>
<circle cx="1301.0" cy="2395.0" r="3.6" fill="#E8333A"/>
<circle cx="1311.3" cy="2392.3" r="3.6" fill="#E8333A"/>
<circle cx="1304.4" cy="2389.3" r="3.6" fill="#E8333A"/>
<circle cx="1297.6" cy="2386.2" r="3.6" fill="#E8333A"/>
<circle cx="1290.7" cy="2385.9" r="3.6" fill="#E8333A"/>
<circle cx="1311.3" cy="2384.4" r="3.6" fill="#E8333A"/>
<line x1="1374.4" y1="2222.9" x2="1374.4" y2="2308.1" stroke="#0F4C8A" stroke-width="1.6"/>
<line x1="1366.4" y1="2222.9" x2="1382.4" y2="2222.9" stroke="#0F4C8A" stroke-width="1.6"/>
<line x1="1374.4" y1="2380.1" x2="1374.4" y2="2375.7" stroke="#0F4C8A" stroke-width="1.6"/>
<line x1="1366.4" y1="2380.1" x2="1382.4" y2="2380.1" stroke="#0F4C8A" stroke-width="1.6"/>
<rect x="1359.9" y="2308.1" width="29.0" height="67.6" fill="none" stroke="#0F4C8A" stroke-width="1.6"/>
<line x1="1359.9" y1="2348.4" x2="1388.9" y2="2348.4" stroke="#0F4C8A" stroke-width="1.6"/>
<circle cx="1374.4" cy="2380.1" r="3.6" fill="#0F4C8A"/>
<circle cx="1381.2" cy="2377.4" r="3.6" fill="#0F4C8A"/>
<circle cx="1367.6" cy="2376.0" r="3.6" fill="#0F4C8A"/>
<circle cx="1374.4" cy="2373.2" r="3.6" fill="#0F4C8A"/>
<circle cx="1374.4" cy="2363.3" r="3.6" fill="#0F4C8A"/>
<circle cx="1374.4" cy="2353.4" r="3.6" fill="#0F4C8A"/>
<circle cx="1374.4" cy="2341.1" r="3.6" fill="#0F4C8A"/>
<circle cx="1374.4" cy="2326.4" r="3.6" fill="#0F4C8A"/>
<circle cx="1374.4" cy="2311.7" r="3.6" fill="#0F4C8A"/>
<circle cx="1374.4" cy="2304.3" r="3.6" fill="#0F4C8A"/>
<circle cx="1374.4" cy="2279.3" r="3.6" fill="#0F4C8A"/>
<circle cx="1374.4" cy="2222.9" r="3.6" fill="#0F4C8A"/>
<line x1="1418.0" y1="2213.3" x2="1418.0" y2="2235.2" stroke="#E8333A" stroke-width="1.6"/>
<line x1="1410.0" y1="2213.3" x2="1426.0" y2="2213.3" stroke="#E8333A" stroke-width="1.6"/>
<line x1="1418.0" y1="2375.7" x2="1418.0" y2="2316.0" stroke="#E8333A" stroke-width="1.6"/>
<line x1="1410.0" y1="2375.7" x2="1426.0" y2="2375.7" stroke="#E8333A" stroke-width="1.6"/>
<rect x="1403.5" y="2235.2" width="29.0" height="80.8" fill="none" stroke="#E8333A" stroke-width="1.6"/>
<line x1="1403.5" y1="2279.1" x2="1432.5" y2="2279.1" stroke="#E8333A" stroke-width="1.6"/>
<circle cx="1418.0" cy="2375.7" r="3.6" fill="#E8333A"/>
<circle cx="1418.0" cy="2330.9" r="3.6" fill="#E8333A"/>
<circle cx="1418.0" cy="2316.0" r="3.6" fill="#E8333A"/>
<circle cx="1418.0" cy="2297.5" r="3.6" fill="#E8333A"/>
<circle cx="1418.0" cy="2279.1" r="3.6" fill="#E8333A"/>
<circle cx="1418.0" cy="2257.1" r="3.6" fill="#E8333A"/>
<circle cx="1418.0" cy="2235.2" r="3.6" fill="#E8333A"/>
<circle cx="1424.8" cy="2231.0" r="3.6" fill="#E8333A"/>
<circle cx="1418.0" cy="2213.3" r="3.6" fill="#E8333A"/>
<line x1="1257.0" y1="2373.5" x2="1301.0" y2="2373.5" stroke="#231F20" stroke-width="1.5"/>
<text x="1279.0" y="2368.5" font-size="19.2" text-anchor="middle" fill="#141214">p=0.0013</text>
<line x1="1374.4" y1="2200.2" x2="1418.0" y2="2200.2" stroke="#231F20" stroke-width="1.5"/>
<text x="1396.2" y="2195.2" font-size="19.2" text-anchor="middle" fill="#141214">p=0.0184</text>
<line x1="1484.7" y1="2402.3" x2="1484.7" y2="2190.3" stroke="#231F20" stroke-width="1.6"/>
<line x1="1477.7" y1="2401.5" x2="1484.7" y2="2401.5" stroke="#231F20" stroke-width="1.6"/>
<text x="1476.5" y="2408.4" font-size="19.5" text-anchor="end" fill="#231F20">0</text>
<line x1="1477.7" y1="2331.1" x2="1484.7" y2="2331.1" stroke="#231F20" stroke-width="1.6"/>
<text x="1476.5" y="2338.0" font-size="19.5" text-anchor="end" fill="#231F20">10</text>
<line x1="1477.7" y1="2260.7" x2="1484.7" y2="2260.7" stroke="#231F20" stroke-width="1.6"/>
<text x="1476.5" y="2267.6" font-size="19.5" text-anchor="end" fill="#231F20">20</text>
<line x1="1477.7" y1="2190.3" x2="1484.7" y2="2190.3" stroke="#231F20" stroke-width="1.6"/>
<text x="1476.5" y="2197.2" font-size="19.5" text-anchor="end" fill="#231F20">30</text>
<line x1="1484.7" y1="2401.5" x2="1838.7" y2="2401.5" stroke="#231F20" stroke-width="1.6"/>
<line x1="1524.6" y1="2401.5" x2="1524.6" y2="2411.5" stroke="#231F20" stroke-width="1.6"/>
<text x="1532.6" y="2426.5" font-size="19.2" text-anchor="end" fill="#231F20" transform="rotate(-45 1532.6 2426.5)">G8</text>
<line x1="1615.2" y1="2401.5" x2="1615.2" y2="2411.5" stroke="#231F20" stroke-width="1.6"/>
<text x="1623.2" y="2426.5" font-size="19.2" text-anchor="end" fill="#231F20" transform="rotate(-45 1623.2 2426.5)">G10</text>
<line x1="1706.5" y1="2401.5" x2="1706.5" y2="2411.5" stroke="#231F20" stroke-width="1.6"/>
<text x="1714.5" y="2426.5" font-size="19.2" text-anchor="end" fill="#231F20" transform="rotate(-45 1714.5 2426.5)">G12</text>
<line x1="1797.9" y1="2401.5" x2="1797.9" y2="2411.5" stroke="#231F20" stroke-width="1.6"/>
<text x="1805.9" y="2426.5" font-size="19.2" text-anchor="end" fill="#231F20" transform="rotate(-45 1805.9 2426.5)">G16</text>
<line x1="1507.3" y1="2319.8" x2="1507.3" y2="2381.8" stroke="#0F4C8A" stroke-width="1.6"/>
<line x1="1501.2" y1="2319.8" x2="1513.3" y2="2319.8" stroke="#0F4C8A" stroke-width="1.6"/>
<line x1="1507.3" y1="2401.5" x2="1507.3" y2="2399.4" stroke="#0F4C8A" stroke-width="1.6"/>
<line x1="1501.2" y1="2401.5" x2="1513.3" y2="2401.5" stroke="#0F4C8A" stroke-width="1.6"/>
<rect x="1496.3" y="2381.8" width="22.0" height="17.6" fill="none" stroke="#0F4C8A" stroke-width="1.6"/>
<line x1="1496.3" y1="2395.2" x2="1518.3" y2="2395.2" stroke="#0F4C8A" stroke-width="1.6"/>
<circle cx="1507.3" cy="2401.5" r="3.6" fill="#0F4C8A"/>
<circle cx="1514.1" cy="2400.2" r="3.6" fill="#0F4C8A"/>
<circle cx="1500.5" cy="2399.5" r="3.6" fill="#0F4C8A"/>
<circle cx="1507.3" cy="2399.0" r="3.6" fill="#0F4C8A"/>
<circle cx="1507.3" cy="2397.5" r="3.6" fill="#0F4C8A"/>
<circle cx="1507.3" cy="2395.9" r="3.6" fill="#0F4C8A"/>
<circle cx="1507.3" cy="2392.7" r="3.6" fill="#0F4C8A"/>
<circle cx="1514.1" cy="2387.9" r="3.6" fill="#0F4C8A"/>
<circle cx="1507.3" cy="2383.0" r="3.6" fill="#0F4C8A"/>
<circle cx="1514.1" cy="2379.0" r="3.6" fill="#0F4C8A"/>
<circle cx="1507.3" cy="2360.8" r="3.6" fill="#0F4C8A"/>
<circle cx="1507.3" cy="2319.8" r="3.6" fill="#0F4C8A"/>
<line x1="1541.9" y1="2393.8" x2="1541.9" y2="2395.2" stroke="#E8333A" stroke-width="1.6"/>
<line x1="1535.8" y1="2393.8" x2="1547.9" y2="2393.8" stroke="#E8333A" stroke-width="1.6"/>
<line x1="1541.9" y1="2399.4" x2="1541.9" y2="2398.0" stroke="#E8333A" stroke-width="1.6"/>
<line x1="1535.8" y1="2399.4" x2="1547.9" y2="2399.4" stroke="#E8333A" stroke-width="1.6"/>
<rect x="1530.9" y="2395.2" width="22.0" height="2.8" fill="none" stroke="#E8333A" stroke-width="1.6"/>
<line x1="1530.9" y1="2396.6" x2="1552.9" y2="2396.6" stroke="#E8333A" stroke-width="1.6"/>
<circle cx="1541.9" cy="2399.4" r="3.6" fill="#E8333A"/>
<circle cx="1548.7" cy="2398.3" r="3.6" fill="#E8333A"/>
<circle cx="1535.1" cy="2398.0" r="3.6" fill="#E8333A"/>
<circle cx="1541.9" cy="2397.3" r="3.6" fill="#E8333A"/>
<circle cx="1541.9" cy="2396.6" r="3.6" fill="#E8333A"/>
<circle cx="1541.9" cy="2395.9" r="3.6" fill="#E8333A"/>
<circle cx="1541.9" cy="2395.2" r="3.6" fill="#E8333A"/>
<circle cx="1541.9" cy="2394.9" r="3.6" fill="#E8333A"/>
<circle cx="1541.9" cy="2393.8" r="3.6" fill="#E8333A"/>
<line x1="1597.9" y1="2357.9" x2="1597.9" y2="2380.4" stroke="#0F4C8A" stroke-width="1.6"/>
<line x1="1591.9" y1="2357.9" x2="1604.0" y2="2357.9" stroke="#0F4C8A" stroke-width="1.6"/>
<line x1="1597.9" y1="2401.5" x2="1597.9" y2="2388.1" stroke="#0F4C8A" stroke-width="1.6"/>
<line x1="1591.9" y1="2401.5" x2="1604.0" y2="2401.5" stroke="#0F4C8A" stroke-width="1.6"/>
<rect x="1586.9" y="2380.4" width="22.0" height="7.7" fill="none" stroke="#0F4C8A" stroke-width="1.6"/>
<line x1="1586.9" y1="2384.6" x2="1608.9" y2="2384.6" stroke="#0F4C8A" stroke-width="1.6"/>
<circle cx="1597.9" cy="2401.5" r="3.6" fill="#0F4C8A"/>
<circle cx="1597.9" cy="2393.5" r="3.6" fill="#0F4C8A"/>
<circle cx="1604.7" cy="2389.1" r="3.6" fill="#0F4C8A"/>
<circle cx="1594.5" cy="2387.8" r="3.6" fill="#0F4C8A"/>
<circle cx="1587.6" cy="2386.5" r="3.6" fill="#0F4C8A"/>
<circle cx="1597.9" cy="2385.2" r="3.6" fill="#0F4C8A"/>
<circle cx="1597.9" cy="2383.8" r="3.6" fill="#0F4C8A"/>
<circle cx="1601.3" cy="2382.3" r="3.6" fill="#0F4C8A"/>
<circle cx="1594.5" cy="2380.8" r="3.6" fill="#0F4C8A"/>
<circle cx="1608.2" cy="2379.4" r="3.6" fill="#0F4C8A"/>
<circle cx="1597.9" cy="2372.8" r="3.6" fill="#0F4C8A"/>
<circle cx="1597.9" cy="2357.9" r="3.6" fill="#0F4C8A"/>
<line x1="1632.5" y1="2364.2" x2="1632.5" y2="2391.6" stroke="#E8333A" stroke-width="1.6"/>
<line x1="1626.5" y1="2364.2" x2="1638.5" y2="2364.2" stroke="#E8333A" stroke-width="1.6"/>
<line x1="1632.5" y1="2401.5" x2="1632.5" y2="2400.1" stroke="#E8333A" stroke-width="1.6"/>
<line x1="1626.5" y1="2401.5" x2="1638.5" y2="2401.5" stroke="#E8333A" stroke-width="1.6"/>
<rect x="1621.5" y="2391.6" width="22.0" height="8.4" fill="none" stroke="#E8333A" stroke-width="1.6"/>
<line x1="1621.5" y1="2396.6" x2="1643.5" y2="2396.6" stroke="#E8333A" stroke-width="1.6"/>
<circle cx="1632.5" cy="2401.5" r="3.6" fill="#E8333A"/>
<circle cx="1639.3" cy="2400.4" r="3.6" fill="#E8333A"/>
<circle cx="1625.7" cy="2400.1" r="3.6" fill="#E8333A"/>
<circle cx="1632.5" cy="2398.3" r="3.6" fill="#E8333A"/>
<circle cx="1632.5" cy="2396.6" r="3.6" fill="#E8333A"/>
<circle cx="1632.5" cy="2394.1" r="3.6" fill="#E8333A"/>
<circle cx="1639.3" cy="2391.6" r="3.6" fill="#E8333A"/>
<circle cx="1632.5" cy="2386.4" r="3.6" fill="#E8333A"/>
<circle cx="1632.5" cy="2364.2" r="3.6" fill="#E8333A"/>
<line x1="1689.2" y1="2213.5" x2="1689.2" y2="2335.3" stroke="#0F4C8A" stroke-width="1.6"/>
<line x1="1683.2" y1="2213.5" x2="1695.2" y2="2213.5" stroke="#0F4C8A" stroke-width="1.6"/>
<line x1="1689.2" y1="2387.4" x2="1689.2" y2="2377.6" stroke="#0F4C8A" stroke-width="1.6"/>
<line x1="1683.2" y1="2387.4" x2="1695.2" y2="2387.4" stroke="#0F4C8A" stroke-width="1.6"/>
<rect x="1678.2" y="2335.3" width="22.0" height="42.2" fill="none" stroke="#0F4C8A" stroke-width="1.6"/>
<line x1="1678.2" y1="2363.5" x2="1700.2" y2="2363.5" stroke="#0F4C8A" stroke-width="1.6"/>
<circle cx="1689.2" cy="2387.4" r="3.6" fill="#0F4C8A"/>
<circle cx="1692.6" cy="2381.6" r="3.6" fill="#0F4C8A"/>
<circle cx="1685.8" cy="2378.3" r="3.6" fill="#0F4C8A"/>
<circle cx="1699.5" cy="2376.3" r="3.6" fill="#0F4C8A"/>
<circle cx="1689.2" cy="2371.2" r="3.6" fill="#0F4C8A"/>
<circle cx="1696.0" cy="2366.0" r="3.6" fill="#0F4C8A"/>
<circle cx="1689.2" cy="2358.4" r="3.6" fill="#0F4C8A"/>
<circle cx="1689.2" cy="2348.1" r="3.6" fill="#0F4C8A"/>
<circle cx="1689.2" cy="2337.9" r="3.6" fill="#0F4C8A"/>
<circle cx="1689.2" cy="2329.9" r="3.6" fill="#0F4C8A"/>
<circle cx="1689.2" cy="2294.2" r="3.6" fill="#0F4C8A"/>
<circle cx="1689.2" cy="2213.5" r="3.6" fill="#0F4C8A"/>
<line x1="1723.8" y1="2374.0" x2="1723.8" y2="2374.7" stroke="#E8333A" stroke-width="1.6"/>
<line x1="1717.8" y1="2374.0" x2="1729.8" y2="2374.0" stroke="#E8333A" stroke-width="1.6"/>
<line x1="1723.8" y1="2397.3" x2="1723.8" y2="2395.9" stroke="#E8333A" stroke-width="1.6"/>
<line x1="1717.8" y1="2397.3" x2="1729.8" y2="2397.3" stroke="#E8333A" stroke-width="1.6"/>
<rect x="1712.8" y="2374.7" width="22.0" height="21.1" fill="none" stroke="#E8333A" stroke-width="1.6"/>
<line x1="1712.8" y1="2388.8" x2="1734.8" y2="2388.8" stroke="#E8333A" stroke-width="1.6"/>
<circle cx="1723.8" cy="2397.3" r="3.6" fill="#E8333A"/>
<circle cx="1730.6" cy="2396.2" r="3.6" fill="#E8333A"/>
<circle cx="1717.0" cy="2395.9" r="3.6" fill="#E8333A"/>
<circle cx="1723.8" cy="2392.3" r="3.6" fill="#E8333A"/>
<circle cx="1723.8" cy="2388.8" r="3.6" fill="#E8333A"/>
<circle cx="1723.8" cy="2381.8" r="3.6" fill="#E8333A"/>
<circle cx="1723.8" cy="2374.7" r="3.6" fill="#E8333A"/>
<circle cx="1730.6" cy="2374.6" r="3.6" fill="#E8333A"/>
<circle cx="1717.0" cy="2374.0" r="3.6" fill="#E8333A"/>
<line x1="1780.6" y1="2375.5" x2="1780.6" y2="2388.1" stroke="#0F4C8A" stroke-width="1.6"/>
<line x1="1774.6" y1="2375.5" x2="1786.7" y2="2375.5" stroke="#0F4C8A" stroke-width="1.6"/>
<line x1="1780.6" y1="2401.5" x2="1780.6" y2="2398.7" stroke="#0F4C8A" stroke-width="1.6"/>
<line x1="1774.6" y1="2401.5" x2="1786.7" y2="2401.5" stroke="#0F4C8A" stroke-width="1.6"/>
<rect x="1769.6" y="2388.1" width="22.0" height="10.6" fill="none" stroke="#0F4C8A" stroke-width="1.6"/>
<line x1="1769.6" y1="2393.8" x2="1791.6" y2="2393.8" stroke="#0F4C8A" stroke-width="1.6"/>
<circle cx="1780.6" cy="2401.5" r="3.6" fill="#0F4C8A"/>
<circle cx="1787.4" cy="2399.8" r="3.6" fill="#0F4C8A"/>
<circle cx="1773.8" cy="2398.9" r="3.6" fill="#0F4C8A"/>
<circle cx="1780.6" cy="2398.2" r="3.6" fill="#0F4C8A"/>
<circle cx="1780.6" cy="2396.4" r="3.6" fill="#0F4C8A"/>
<circle cx="1780.6" cy="2394.7" r="3.6" fill="#0F4C8A"/>
<circle cx="1787.4" cy="2392.7" r="3.6" fill="#0F4C8A"/>
<circle cx="1773.8" cy="2390.7" r="3.6" fill="#0F4C8A"/>
<circle cx="1780.6" cy="2388.6" r="3.6" fill="#0F4C8A"/>
<circle cx="1780.6" cy="2387.6" r="3.6" fill="#0F4C8A"/>
<circle cx="1787.4" cy="2383.8" r="3.6" fill="#0F4C8A"/>
<circle cx="1780.6" cy="2375.5" r="3.6" fill="#0F4C8A"/>
<line x1="1815.2" y1="2382.5" x2="1815.2" y2="2398.0" stroke="#E8333A" stroke-width="1.6"/>
<line x1="1809.2" y1="2382.5" x2="1821.2" y2="2382.5" stroke="#E8333A" stroke-width="1.6"/>
<line x1="1815.2" y1="2401.5" x2="1815.2" y2="2401.5" stroke="#E8333A" stroke-width="1.6"/>
<line x1="1809.2" y1="2401.5" x2="1821.2" y2="2401.5" stroke="#E8333A" stroke-width="1.6"/>
<rect x="1804.2" y="2398.0" width="22.0" height="3.5" fill="none" stroke="#E8333A" stroke-width="1.6"/>
<line x1="1804.2" y1="2400.8" x2="1826.2" y2="2400.8" stroke="#E8333A" stroke-width="1.6"/>
<circle cx="1815.2" cy="2401.5" r="3.6" fill="#E8333A"/>
<circle cx="1822.0" cy="2401.5" r="3.6" fill="#E8333A"/>
<circle cx="1808.4" cy="2401.5" r="3.6" fill="#E8333A"/>
<circle cx="1815.2" cy="2401.1" r="3.6" fill="#E8333A"/>
<circle cx="1815.2" cy="2400.8" r="3.6" fill="#E8333A"/>
<circle cx="1815.2" cy="2399.4" r="3.6" fill="#E8333A"/>
<circle cx="1815.2" cy="2398.0" r="3.6" fill="#E8333A"/>
<circle cx="1818.6" cy="2395.0" r="3.6" fill="#E8333A"/>
<circle cx="1815.2" cy="2382.5" r="3.6" fill="#E8333A"/>
<line x1="1507.3" y1="2308.9" x2="1541.9" y2="2308.9" stroke="#231F20" stroke-width="1.5"/>
<text x="1524.6" y="2306.0" font-size="19.2" text-anchor="middle" fill="#141214">ns</text>
<line x1="1597.9" y1="2346.3" x2="1632.5" y2="2346.3" stroke="#231F20" stroke-width="1.5"/>
<text x="1615.2" y="2341.3" font-size="19.2" text-anchor="middle" fill="#141214">p=0.0073</text>
<line x1="1689.2" y1="2201.8" x2="1723.8" y2="2201.8" stroke="#231F20" stroke-width="1.5"/>
<text x="1706.5" y="2196.8" font-size="19.2" text-anchor="middle" fill="#141214">p=0.0007</text>
<line x1="1780.6" y1="2363.6" x2="1815.2" y2="2363.6" stroke="#231F20" stroke-width="1.5"/>
<text x="1797.9" y="2358.6" font-size="19.2" text-anchor="middle" fill="#141214">p=0.0043</text>
<rect x="1767.5" y="2180.0" width="23.8" height="12.0" fill="none" stroke="#0F4C8A" stroke-width="1.6"/>
<text x="1799.6" y="2192.0" font-size="19.3" fill="#141214">IgG- (n=12)</text>
<rect x="1767.5" y="2205.9" width="23.8" height="12.0" fill="none" stroke="#E8333A" stroke-width="1.6"/>
<text x="1799.6" y="2217.9" font-size="19.3" fill="#141214">IgG+ (n=9)</text>
</svg>
</body></html>
